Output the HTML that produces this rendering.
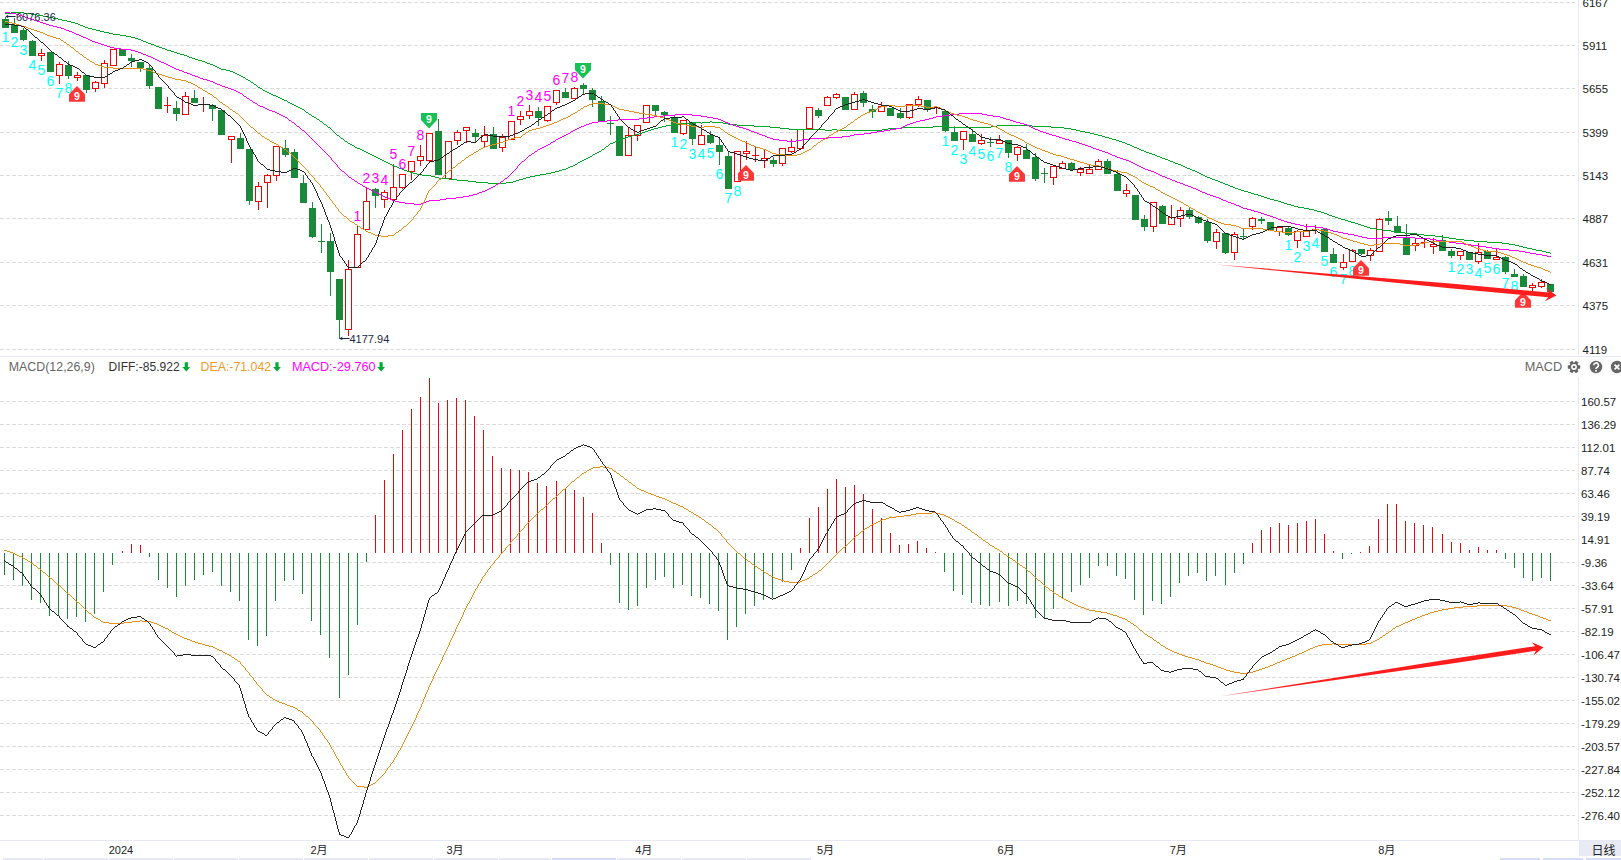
<!DOCTYPE html>
<html><head><meta charset="utf-8"><title>K线</title>
<style>
html,body{margin:0;padding:0;background:#fff;}
body{width:1621px;height:860px;overflow:hidden;position:relative;font-family:"Liberation Sans", "Noto Sans CJK SC", sans-serif;}
svg{position:absolute;left:0;top:0;}
</style></head><body>
<svg width="1621" height="860" viewBox="0 0 1621 860">
<g stroke="#dcdcdc" stroke-width="1" stroke-dasharray="4 2" shape-rendering="crispEdges">
<line x1="0" y1="2.5" x2="1575" y2="2.5"/>
<line x1="0" y1="45.5" x2="1575" y2="45.5"/>
<line x1="0" y1="88.5" x2="1575" y2="88.5"/>
<line x1="0" y1="132.5" x2="1575" y2="132.5"/>
<line x1="0" y1="175.5" x2="1575" y2="175.5"/>
<line x1="0" y1="218.5" x2="1575" y2="218.5"/>
<line x1="0" y1="262.5" x2="1575" y2="262.5"/>
<line x1="0" y1="305.5" x2="1575" y2="305.5"/>
<line x1="0" y1="349.5" x2="1575" y2="349.5"/>
<line x1="0" y1="401.5" x2="1575" y2="401.5"/>
<line x1="0" y1="424.5" x2="1575" y2="424.5"/>
<line x1="0" y1="447.5" x2="1575" y2="447.5"/>
<line x1="0" y1="470.5" x2="1575" y2="470.5"/>
<line x1="0" y1="493.5" x2="1575" y2="493.5"/>
<line x1="0" y1="516.5" x2="1575" y2="516.5"/>
<line x1="0" y1="539.5" x2="1575" y2="539.5"/>
<line x1="0" y1="562.5" x2="1575" y2="562.5"/>
<line x1="0" y1="585.5" x2="1575" y2="585.5"/>
<line x1="0" y1="608.5" x2="1575" y2="608.5"/>
<line x1="0" y1="631.5" x2="1575" y2="631.5"/>
<line x1="0" y1="654.5" x2="1575" y2="654.5"/>
<line x1="0" y1="677.5" x2="1575" y2="677.5"/>
<line x1="0" y1="700.5" x2="1575" y2="700.5"/>
<line x1="0" y1="723.5" x2="1575" y2="723.5"/>
<line x1="0" y1="746.5" x2="1575" y2="746.5"/>
<line x1="0" y1="769.5" x2="1575" y2="769.5"/>
<line x1="0" y1="792.5" x2="1575" y2="792.5"/>
<line x1="0" y1="815.5" x2="1575" y2="815.5"/>
</g>
<g fill="#e6e8f3" shape-rendering="crispEdges">
<rect x="1578" y="0" width="1" height="355"/>
<rect x="1578" y="377" width="1" height="463"/>
<rect x="0" y="356" width="1621" height="1"/>
<rect x="0" y="840" width="1621" height="1"/>
</g>
<g shape-rendering="crispEdges">
<rect x="5" y="17.0" width="1" height="2.0" fill="#1a8a3a"/>
<rect x="2" y="19.0" width="7" height="9.0" fill="#1a8a3a"/>
<rect x="14" y="18.0" width="1" height="7.0" fill="#1a8a3a"/>
<rect x="11" y="25.0" width="7" height="8.0" fill="#1a8a3a"/>
<rect x="23" y="28.0" width="1" height="2.0" fill="#1a8a3a"/>
<rect x="23" y="40.0" width="1" height="1.0" fill="#1a8a3a"/>
<rect x="20" y="30.0" width="7" height="10.0" fill="#1a8a3a"/>
<rect x="32" y="40.0" width="1" height="1.0" fill="#1a8a3a"/>
<rect x="29" y="41.0" width="7" height="15.0" fill="#1a8a3a"/>
<rect x="41" y="49.0" width="1" height="4.0" fill="#eb0505"/>
<rect x="41" y="56.0" width="1" height="5.0" fill="#eb0505"/>
<rect x="38.5" y="53.5" width="6" height="2.0" fill="#fff" stroke="#eb0505" stroke-width="1"/>
<rect x="47" y="52.0" width="7" height="20.0" fill="#1a8a3a"/>
<rect x="59" y="62.0" width="1" height="2.0" fill="#eb0505"/>
<rect x="59" y="76.0" width="1" height="8.0" fill="#eb0505"/>
<rect x="56.5" y="64.5" width="6" height="11.0" fill="#fff" stroke="#eb0505" stroke-width="1"/>
<rect x="68" y="61.0" width="1" height="4.0" fill="#1a8a3a"/>
<rect x="68" y="76.0" width="1" height="3.0" fill="#1a8a3a"/>
<rect x="65" y="65.0" width="7" height="11.0" fill="#1a8a3a"/>
<rect x="77" y="72.0" width="1" height="3.0" fill="#eb0505"/>
<rect x="77" y="78.0" width="1" height="3.0" fill="#eb0505"/>
<rect x="74.5" y="75.5" width="6" height="2.0" fill="#fff" stroke="#eb0505" stroke-width="1"/>
<rect x="86" y="90.0" width="1" height="3.0" fill="#1a8a3a"/>
<rect x="83" y="75.0" width="7" height="15.0" fill="#1a8a3a"/>
<rect x="95" y="81.0" width="1" height="1.0" fill="#eb0505"/>
<rect x="95" y="89.0" width="1" height="3.0" fill="#eb0505"/>
<rect x="92.5" y="82.5" width="6" height="6.0" fill="#fff" stroke="#eb0505" stroke-width="1"/>
<rect x="104" y="60.0" width="1" height="3.0" fill="#eb0505"/>
<rect x="104" y="84.0" width="1" height="4.0" fill="#eb0505"/>
<rect x="101.5" y="63.5" width="6" height="20.0" fill="#fff" stroke="#eb0505" stroke-width="1"/>
<rect x="110.5" y="49.5" width="6" height="16.0" fill="#fff" stroke="#eb0505" stroke-width="1"/>
<rect x="119" y="49.0" width="7" height="7.0" fill="#1a8a3a"/>
<rect x="131" y="54.0" width="1" height="4.0" fill="#1a8a3a"/>
<rect x="131" y="61.0" width="1" height="6.0" fill="#1a8a3a"/>
<rect x="128" y="58.0" width="7" height="3.0" fill="#1a8a3a"/>
<rect x="140" y="68.0" width="1" height="4.0" fill="#1a8a3a"/>
<rect x="137" y="62.0" width="7" height="6.0" fill="#1a8a3a"/>
<rect x="149" y="65.0" width="1" height="3.0" fill="#1a8a3a"/>
<rect x="149" y="86.0" width="1" height="3.0" fill="#1a8a3a"/>
<rect x="146" y="68.0" width="7" height="18.0" fill="#1a8a3a"/>
<rect x="155" y="87.0" width="7" height="22.0" fill="#1a8a3a"/>
<rect x="167" y="97.0" width="1" height="8.0" fill="#eb0505"/>
<rect x="167" y="106.0" width="1" height="7.0" fill="#eb0505"/>
<rect x="164" y="105.0" width="7" height="1.0" fill="#eb0505"/>
<rect x="176" y="101.0" width="1" height="7.0" fill="#1a8a3a"/>
<rect x="176" y="114.0" width="1" height="7.0" fill="#1a8a3a"/>
<rect x="173" y="108.0" width="7" height="6.0" fill="#1a8a3a"/>
<rect x="185" y="92.0" width="1" height="4.0" fill="#eb0505"/>
<rect x="182.5" y="96.5" width="6" height="18.0" fill="#fff" stroke="#eb0505" stroke-width="1"/>
<rect x="194" y="90.0" width="1" height="8.0" fill="#1a8a3a"/>
<rect x="191" y="98.0" width="7" height="5.0" fill="#1a8a3a"/>
<rect x="203" y="97.0" width="1" height="7.0" fill="#eb0505"/>
<rect x="203" y="105.0" width="1" height="7.0" fill="#eb0505"/>
<rect x="200" y="104.0" width="7" height="1.0" fill="#eb0505"/>
<rect x="212" y="104.0" width="1" height="1.0" fill="#1a8a3a"/>
<rect x="212" y="109.0" width="1" height="12.0" fill="#1a8a3a"/>
<rect x="209" y="105.0" width="7" height="4.0" fill="#1a8a3a"/>
<rect x="218" y="110.0" width="7" height="25.0" fill="#1a8a3a"/>
<rect x="231" y="140.0" width="1" height="23.0" fill="#eb0505"/>
<rect x="228.5" y="136.5" width="6" height="3.0" fill="#fff" stroke="#eb0505" stroke-width="1"/>
<rect x="240" y="133.0" width="1" height="5.0" fill="#1a8a3a"/>
<rect x="237" y="138.0" width="7" height="11.0" fill="#1a8a3a"/>
<rect x="249" y="201.0" width="1" height="4.0" fill="#1a8a3a"/>
<rect x="246" y="149.0" width="7" height="52.0" fill="#1a8a3a"/>
<rect x="258" y="182.0" width="1" height="4.0" fill="#eb0505"/>
<rect x="258" y="202.0" width="1" height="8.0" fill="#eb0505"/>
<rect x="255.5" y="186.5" width="6" height="15.0" fill="#fff" stroke="#eb0505" stroke-width="1"/>
<rect x="267" y="174.0" width="1" height="1.0" fill="#eb0505"/>
<rect x="267" y="183.0" width="1" height="25.0" fill="#eb0505"/>
<rect x="264.5" y="175.5" width="6" height="7.0" fill="#fff" stroke="#eb0505" stroke-width="1"/>
<rect x="276" y="176.0" width="1" height="5.0" fill="#eb0505"/>
<rect x="273.5" y="146.5" width="6" height="29.0" fill="#fff" stroke="#eb0505" stroke-width="1"/>
<rect x="285" y="140.0" width="1" height="8.0" fill="#1a8a3a"/>
<rect x="285" y="155.0" width="1" height="2.0" fill="#1a8a3a"/>
<rect x="282" y="148.0" width="7" height="7.0" fill="#1a8a3a"/>
<rect x="294" y="149.0" width="1" height="3.0" fill="#1a8a3a"/>
<rect x="291" y="152.0" width="7" height="26.0" fill="#1a8a3a"/>
<rect x="303" y="175.0" width="1" height="8.0" fill="#1a8a3a"/>
<rect x="300" y="183.0" width="7" height="20.0" fill="#1a8a3a"/>
<rect x="312" y="202.0" width="1" height="6.0" fill="#1a8a3a"/>
<rect x="312" y="237.0" width="1" height="1.0" fill="#1a8a3a"/>
<rect x="309" y="208.0" width="7" height="29.0" fill="#1a8a3a"/>
<rect x="321" y="224.0" width="1" height="17.0" fill="#1a8a3a"/>
<rect x="321" y="242.0" width="1" height="11.0" fill="#1a8a3a"/>
<rect x="318" y="241.0" width="7" height="1.0" fill="#1a8a3a"/>
<rect x="330" y="233.0" width="1" height="8.0" fill="#1a8a3a"/>
<rect x="330" y="272.0" width="1" height="24.0" fill="#1a8a3a"/>
<rect x="327" y="241.0" width="7" height="31.0" fill="#1a8a3a"/>
<rect x="339" y="320.0" width="1" height="19.0" fill="#1a8a3a"/>
<rect x="336" y="279.0" width="7" height="41.0" fill="#1a8a3a"/>
<rect x="348" y="260.0" width="1" height="9.0" fill="#eb0505"/>
<rect x="348" y="330.0" width="1" height="6.0" fill="#eb0505"/>
<rect x="345.5" y="269.5" width="6" height="60.0" fill="#fff" stroke="#eb0505" stroke-width="1"/>
<rect x="357" y="226.0" width="1" height="8.0" fill="#eb0505"/>
<rect x="354.5" y="234.5" width="6" height="33.0" fill="#fff" stroke="#eb0505" stroke-width="1"/>
<rect x="366" y="188.0" width="1" height="13.0" fill="#eb0505"/>
<rect x="363.5" y="201.5" width="6" height="28.0" fill="#fff" stroke="#eb0505" stroke-width="1"/>
<rect x="375" y="188.0" width="1" height="1.0" fill="#1a8a3a"/>
<rect x="375" y="196.0" width="1" height="12.0" fill="#1a8a3a"/>
<rect x="372" y="189.0" width="7" height="7.0" fill="#1a8a3a"/>
<rect x="384" y="190.0" width="1" height="2.0" fill="#eb0505"/>
<rect x="384" y="200.0" width="1" height="8.0" fill="#eb0505"/>
<rect x="381.5" y="192.5" width="6" height="7.0" fill="#fff" stroke="#eb0505" stroke-width="1"/>
<rect x="393" y="164.0" width="1" height="23.0" fill="#eb0505"/>
<rect x="393" y="200.0" width="1" height="2.0" fill="#eb0505"/>
<rect x="390.5" y="187.5" width="6" height="12.0" fill="#fff" stroke="#eb0505" stroke-width="1"/>
<rect x="402" y="188.0" width="1" height="1.0" fill="#eb0505"/>
<rect x="399.5" y="174.5" width="6" height="13.0" fill="#fff" stroke="#eb0505" stroke-width="1"/>
<rect x="411" y="172.0" width="1" height="8.0" fill="#eb0505"/>
<rect x="408.5" y="161.5" width="6" height="10.0" fill="#fff" stroke="#eb0505" stroke-width="1"/>
<rect x="420" y="145.0" width="1" height="11.0" fill="#eb0505"/>
<rect x="420" y="161.0" width="1" height="5.0" fill="#eb0505"/>
<rect x="417.5" y="156.5" width="6" height="4.0" fill="#fff" stroke="#eb0505" stroke-width="1"/>
<rect x="429" y="161.0" width="1" height="2.0" fill="#eb0505"/>
<rect x="426.5" y="133.5" width="6" height="27.0" fill="#fff" stroke="#eb0505" stroke-width="1"/>
<rect x="438" y="119.0" width="1" height="12.0" fill="#1a8a3a"/>
<rect x="435" y="131.0" width="7" height="44.0" fill="#1a8a3a"/>
<rect x="445.5" y="141.5" width="6" height="37.0" fill="#fff" stroke="#eb0505" stroke-width="1"/>
<rect x="457" y="130.0" width="1" height="2.0" fill="#eb0505"/>
<rect x="457" y="141.0" width="1" height="4.0" fill="#eb0505"/>
<rect x="454.5" y="132.5" width="6" height="8.0" fill="#fff" stroke="#eb0505" stroke-width="1"/>
<rect x="466" y="131.0" width="1" height="12.0" fill="#eb0505"/>
<rect x="463.5" y="127.5" width="6" height="3.0" fill="#fff" stroke="#eb0505" stroke-width="1"/>
<rect x="475" y="129.0" width="1" height="4.0" fill="#1a8a3a"/>
<rect x="475" y="137.0" width="1" height="5.0" fill="#1a8a3a"/>
<rect x="472" y="133.0" width="7" height="4.0" fill="#1a8a3a"/>
<rect x="484" y="126.0" width="1" height="9.0" fill="#eb0505"/>
<rect x="484" y="142.0" width="1" height="5.0" fill="#eb0505"/>
<rect x="481.5" y="135.5" width="6" height="6.0" fill="#fff" stroke="#eb0505" stroke-width="1"/>
<rect x="493" y="127.0" width="1" height="7.0" fill="#1a8a3a"/>
<rect x="490" y="134.0" width="7" height="15.0" fill="#1a8a3a"/>
<rect x="502" y="134.0" width="1" height="3.0" fill="#eb0505"/>
<rect x="502" y="148.0" width="1" height="4.0" fill="#eb0505"/>
<rect x="499.5" y="137.5" width="6" height="10.0" fill="#fff" stroke="#eb0505" stroke-width="1"/>
<rect x="508.5" y="121.5" width="6" height="18.0" fill="#fff" stroke="#eb0505" stroke-width="1"/>
<rect x="520" y="111.0" width="1" height="5.0" fill="#eb0505"/>
<rect x="520" y="120.0" width="1" height="5.0" fill="#eb0505"/>
<rect x="517.5" y="116.5" width="6" height="3.0" fill="#fff" stroke="#eb0505" stroke-width="1"/>
<rect x="529" y="105.0" width="1" height="6.0" fill="#eb0505"/>
<rect x="529" y="116.0" width="1" height="3.0" fill="#eb0505"/>
<rect x="526.5" y="111.5" width="6" height="4.0" fill="#fff" stroke="#eb0505" stroke-width="1"/>
<rect x="538" y="107.0" width="1" height="4.0" fill="#1a8a3a"/>
<rect x="538" y="118.0" width="1" height="8.0" fill="#1a8a3a"/>
<rect x="535" y="111.0" width="7" height="7.0" fill="#1a8a3a"/>
<rect x="547" y="121.0" width="1" height="1.0" fill="#eb0505"/>
<rect x="544.5" y="106.5" width="6" height="14.0" fill="#fff" stroke="#eb0505" stroke-width="1"/>
<rect x="556" y="103.0" width="1" height="2.0" fill="#eb0505"/>
<rect x="553.5" y="90.5" width="6" height="12.0" fill="#fff" stroke="#eb0505" stroke-width="1"/>
<rect x="565" y="88.0" width="1" height="4.0" fill="#1a8a3a"/>
<rect x="562" y="92.0" width="7" height="6.0" fill="#1a8a3a"/>
<rect x="574" y="87.0" width="1" height="1.0" fill="#eb0505"/>
<rect x="571.5" y="88.5" width="6" height="10.0" fill="#fff" stroke="#eb0505" stroke-width="1"/>
<rect x="583" y="83.0" width="1" height="2.0" fill="#1a8a3a"/>
<rect x="583" y="89.0" width="1" height="6.0" fill="#1a8a3a"/>
<rect x="580" y="85.0" width="7" height="4.0" fill="#1a8a3a"/>
<rect x="592" y="88.0" width="1" height="2.0" fill="#1a8a3a"/>
<rect x="592" y="100.0" width="1" height="7.0" fill="#1a8a3a"/>
<rect x="589" y="90.0" width="7" height="10.0" fill="#1a8a3a"/>
<rect x="601" y="96.0" width="1" height="5.0" fill="#1a8a3a"/>
<rect x="598" y="101.0" width="7" height="21.0" fill="#1a8a3a"/>
<rect x="610" y="116.0" width="1" height="7.0" fill="#1a8a3a"/>
<rect x="610" y="124.0" width="1" height="11.0" fill="#1a8a3a"/>
<rect x="607" y="123.0" width="7" height="1.0" fill="#1a8a3a"/>
<rect x="616" y="126.0" width="7" height="30.0" fill="#1a8a3a"/>
<rect x="628" y="128.0" width="1" height="7.0" fill="#eb0505"/>
<rect x="625.5" y="135.5" width="6" height="20.0" fill="#fff" stroke="#eb0505" stroke-width="1"/>
<rect x="637" y="136.0" width="1" height="5.0" fill="#eb0505"/>
<rect x="634.5" y="125.5" width="6" height="10.0" fill="#fff" stroke="#eb0505" stroke-width="1"/>
<rect x="643.5" y="105.5" width="6" height="17.0" fill="#fff" stroke="#eb0505" stroke-width="1"/>
<rect x="655" y="111.0" width="1" height="4.0" fill="#1a8a3a"/>
<rect x="652" y="105.0" width="7" height="6.0" fill="#1a8a3a"/>
<rect x="664" y="111.0" width="1" height="1.0" fill="#1a8a3a"/>
<rect x="664" y="115.0" width="1" height="7.0" fill="#1a8a3a"/>
<rect x="661" y="112.0" width="7" height="3.0" fill="#1a8a3a"/>
<rect x="674" y="116.0" width="1" height="1.0" fill="#1a8a3a"/>
<rect x="671" y="117.0" width="7" height="16.0" fill="#1a8a3a"/>
<rect x="683" y="134.0" width="1" height="1.0" fill="#eb0505"/>
<rect x="680.5" y="120.5" width="6" height="13.0" fill="#fff" stroke="#eb0505" stroke-width="1"/>
<rect x="692" y="139.0" width="1" height="6.0" fill="#1a8a3a"/>
<rect x="689" y="122.0" width="7" height="17.0" fill="#1a8a3a"/>
<rect x="701" y="125.0" width="1" height="10.0" fill="#eb0505"/>
<rect x="698.5" y="135.5" width="6" height="9.0" fill="#fff" stroke="#eb0505" stroke-width="1"/>
<rect x="710" y="131.0" width="1" height="4.0" fill="#1a8a3a"/>
<rect x="710" y="143.0" width="1" height="1.0" fill="#1a8a3a"/>
<rect x="707" y="135.0" width="7" height="8.0" fill="#1a8a3a"/>
<rect x="719" y="137.0" width="1" height="8.0" fill="#1a8a3a"/>
<rect x="719" y="152.0" width="1" height="13.0" fill="#1a8a3a"/>
<rect x="716" y="145.0" width="7" height="7.0" fill="#1a8a3a"/>
<rect x="728" y="151.0" width="1" height="5.0" fill="#1a8a3a"/>
<rect x="725" y="156.0" width="7" height="33.0" fill="#1a8a3a"/>
<rect x="734.5" y="151.5" width="6" height="30.0" fill="#fff" stroke="#eb0505" stroke-width="1"/>
<rect x="746" y="141.0" width="1" height="10.0" fill="#eb0505"/>
<rect x="746" y="154.0" width="1" height="6.0" fill="#eb0505"/>
<rect x="743.5" y="151.5" width="6" height="2.0" fill="#fff" stroke="#eb0505" stroke-width="1"/>
<rect x="755" y="146.0" width="1" height="9.0" fill="#eb0505"/>
<rect x="755" y="156.0" width="1" height="6.0" fill="#eb0505"/>
<rect x="752" y="155.0" width="7" height="1.0" fill="#eb0505"/>
<rect x="764" y="149.0" width="1" height="9.0" fill="#eb0505"/>
<rect x="764" y="161.0" width="1" height="7.0" fill="#eb0505"/>
<rect x="761.5" y="158.5" width="6" height="2.0" fill="#fff" stroke="#eb0505" stroke-width="1"/>
<rect x="773" y="157.0" width="1" height="3.0" fill="#1a8a3a"/>
<rect x="773" y="164.0" width="1" height="3.0" fill="#1a8a3a"/>
<rect x="770" y="160.0" width="7" height="4.0" fill="#1a8a3a"/>
<rect x="782" y="164.0" width="1" height="2.0" fill="#eb0505"/>
<rect x="779.5" y="148.5" width="6" height="15.0" fill="#fff" stroke="#eb0505" stroke-width="1"/>
<rect x="791" y="139.0" width="1" height="8.0" fill="#eb0505"/>
<rect x="791" y="152.0" width="1" height="1.0" fill="#eb0505"/>
<rect x="788.5" y="147.5" width="6" height="4.0" fill="#fff" stroke="#eb0505" stroke-width="1"/>
<rect x="797.5" y="129.5" width="6" height="19.0" fill="#fff" stroke="#eb0505" stroke-width="1"/>
<rect x="806.5" y="107.5" width="6" height="21.0" fill="#fff" stroke="#eb0505" stroke-width="1"/>
<rect x="818" y="108.0" width="1" height="2.0" fill="#1a8a3a"/>
<rect x="818" y="116.0" width="1" height="2.0" fill="#1a8a3a"/>
<rect x="815" y="110.0" width="7" height="6.0" fill="#1a8a3a"/>
<rect x="827" y="96.0" width="1" height="1.0" fill="#eb0505"/>
<rect x="824.5" y="97.5" width="6" height="8.0" fill="#fff" stroke="#eb0505" stroke-width="1"/>
<rect x="836" y="93.0" width="1" height="1.0" fill="#eb0505"/>
<rect x="836" y="98.0" width="1" height="1.0" fill="#eb0505"/>
<rect x="833.5" y="94.5" width="6" height="3.0" fill="#fff" stroke="#eb0505" stroke-width="1"/>
<rect x="842" y="97.0" width="7" height="13.0" fill="#1a8a3a"/>
<rect x="854" y="92.0" width="1" height="2.0" fill="#eb0505"/>
<rect x="851.5" y="94.5" width="6" height="15.0" fill="#fff" stroke="#eb0505" stroke-width="1"/>
<rect x="863" y="91.0" width="1" height="2.0" fill="#1a8a3a"/>
<rect x="863" y="103.0" width="1" height="4.0" fill="#1a8a3a"/>
<rect x="860" y="93.0" width="7" height="10.0" fill="#1a8a3a"/>
<rect x="872" y="105.0" width="1" height="4.0" fill="#1a8a3a"/>
<rect x="872" y="112.0" width="1" height="6.0" fill="#1a8a3a"/>
<rect x="869" y="109.0" width="7" height="3.0" fill="#1a8a3a"/>
<rect x="881" y="102.0" width="1" height="4.0" fill="#eb0505"/>
<rect x="878.5" y="106.5" width="6" height="5.0" fill="#fff" stroke="#eb0505" stroke-width="1"/>
<rect x="887" y="108.0" width="7" height="8.0" fill="#1a8a3a"/>
<rect x="900" y="108.0" width="1" height="5.0" fill="#1a8a3a"/>
<rect x="900" y="118.0" width="1" height="1.0" fill="#1a8a3a"/>
<rect x="897" y="113.0" width="7" height="5.0" fill="#1a8a3a"/>
<rect x="909" y="118.0" width="1" height="1.0" fill="#eb0505"/>
<rect x="906.5" y="104.5" width="6" height="13.0" fill="#fff" stroke="#eb0505" stroke-width="1"/>
<rect x="918" y="96.0" width="1" height="3.0" fill="#eb0505"/>
<rect x="918" y="105.0" width="1" height="2.0" fill="#eb0505"/>
<rect x="915.5" y="99.5" width="6" height="5.0" fill="#fff" stroke="#eb0505" stroke-width="1"/>
<rect x="927" y="110.0" width="1" height="2.0" fill="#1a8a3a"/>
<rect x="924" y="100.0" width="7" height="10.0" fill="#1a8a3a"/>
<rect x="936" y="106.0" width="1" height="1.0" fill="#eb0505"/>
<rect x="936" y="108.0" width="1" height="6.0" fill="#eb0505"/>
<rect x="933" y="107.0" width="7" height="1.0" fill="#eb0505"/>
<rect x="945" y="131.0" width="1" height="1.0" fill="#1a8a3a"/>
<rect x="942" y="111.0" width="7" height="20.0" fill="#1a8a3a"/>
<rect x="954" y="126.0" width="1" height="6.0" fill="#1a8a3a"/>
<rect x="951" y="132.0" width="7" height="9.0" fill="#1a8a3a"/>
<rect x="963" y="140.0" width="1" height="10.0" fill="#eb0505"/>
<rect x="960.5" y="131.5" width="6" height="8.0" fill="#fff" stroke="#eb0505" stroke-width="1"/>
<rect x="972" y="129.0" width="1" height="5.0" fill="#1a8a3a"/>
<rect x="969" y="134.0" width="7" height="8.0" fill="#1a8a3a"/>
<rect x="981" y="134.0" width="1" height="6.0" fill="#eb0505"/>
<rect x="981" y="144.0" width="1" height="1.0" fill="#eb0505"/>
<rect x="978.5" y="140.5" width="6" height="3.0" fill="#fff" stroke="#eb0505" stroke-width="1"/>
<rect x="990" y="137.0" width="1" height="5.0" fill="#1a8a3a"/>
<rect x="990" y="143.0" width="1" height="4.0" fill="#1a8a3a"/>
<rect x="987" y="142.0" width="7" height="1.0" fill="#1a8a3a"/>
<rect x="999" y="135.0" width="1" height="5.0" fill="#eb0505"/>
<rect x="996.5" y="140.5" width="6" height="3.0" fill="#fff" stroke="#eb0505" stroke-width="1"/>
<rect x="1008" y="153.0" width="1" height="5.0" fill="#1a8a3a"/>
<rect x="1005" y="140.0" width="7" height="13.0" fill="#1a8a3a"/>
<rect x="1017" y="146.0" width="1" height="1.0" fill="#eb0505"/>
<rect x="1017" y="155.0" width="1" height="6.0" fill="#eb0505"/>
<rect x="1014.5" y="147.5" width="6" height="7.0" fill="#fff" stroke="#eb0505" stroke-width="1"/>
<rect x="1026" y="144.0" width="1" height="6.0" fill="#1a8a3a"/>
<rect x="1023" y="150.0" width="7" height="9.0" fill="#1a8a3a"/>
<rect x="1035" y="153.0" width="1" height="4.0" fill="#1a8a3a"/>
<rect x="1035" y="179.0" width="1" height="2.0" fill="#1a8a3a"/>
<rect x="1032" y="157.0" width="7" height="22.0" fill="#1a8a3a"/>
<rect x="1044" y="168.0" width="1" height="5.0" fill="#1a8a3a"/>
<rect x="1044" y="174.0" width="1" height="9.0" fill="#1a8a3a"/>
<rect x="1041" y="173.0" width="7" height="1.0" fill="#1a8a3a"/>
<rect x="1053" y="165.0" width="1" height="1.0" fill="#eb0505"/>
<rect x="1053" y="178.0" width="1" height="7.0" fill="#eb0505"/>
<rect x="1050.5" y="166.5" width="6" height="11.0" fill="#fff" stroke="#eb0505" stroke-width="1"/>
<rect x="1062" y="161.0" width="1" height="2.0" fill="#eb0505"/>
<rect x="1059.5" y="163.5" width="6" height="5.0" fill="#fff" stroke="#eb0505" stroke-width="1"/>
<rect x="1071" y="162.0" width="1" height="1.0" fill="#1a8a3a"/>
<rect x="1068" y="163.0" width="7" height="7.0" fill="#1a8a3a"/>
<rect x="1080" y="167.0" width="1" height="2.0" fill="#eb0505"/>
<rect x="1080" y="173.0" width="1" height="3.0" fill="#eb0505"/>
<rect x="1077.5" y="169.5" width="6" height="3.0" fill="#fff" stroke="#eb0505" stroke-width="1"/>
<rect x="1089" y="165.0" width="1" height="4.0" fill="#eb0505"/>
<rect x="1086.5" y="169.5" width="6" height="4.0" fill="#fff" stroke="#eb0505" stroke-width="1"/>
<rect x="1098" y="159.0" width="1" height="2.0" fill="#eb0505"/>
<rect x="1095.5" y="161.5" width="6" height="8.0" fill="#fff" stroke="#eb0505" stroke-width="1"/>
<rect x="1107" y="159.0" width="1" height="2.0" fill="#1a8a3a"/>
<rect x="1104" y="161.0" width="7" height="13.0" fill="#1a8a3a"/>
<rect x="1117" y="170.0" width="1" height="4.0" fill="#1a8a3a"/>
<rect x="1114" y="174.0" width="7" height="17.0" fill="#1a8a3a"/>
<rect x="1126" y="184.0" width="1" height="6.0" fill="#eb0505"/>
<rect x="1126" y="194.0" width="1" height="3.0" fill="#eb0505"/>
<rect x="1123.5" y="190.5" width="6" height="3.0" fill="#fff" stroke="#eb0505" stroke-width="1"/>
<rect x="1132" y="195.0" width="7" height="25.0" fill="#1a8a3a"/>
<rect x="1144" y="215.0" width="1" height="4.0" fill="#1a8a3a"/>
<rect x="1144" y="227.0" width="1" height="4.0" fill="#1a8a3a"/>
<rect x="1141" y="219.0" width="7" height="8.0" fill="#1a8a3a"/>
<rect x="1153" y="227.0" width="1" height="5.0" fill="#eb0505"/>
<rect x="1150.5" y="202.5" width="6" height="24.0" fill="#fff" stroke="#eb0505" stroke-width="1"/>
<rect x="1162" y="205.0" width="1" height="1.0" fill="#1a8a3a"/>
<rect x="1159" y="206.0" width="7" height="18.0" fill="#1a8a3a"/>
<rect x="1171" y="205.0" width="1" height="12.0" fill="#eb0505"/>
<rect x="1168.5" y="217.5" width="6" height="7.0" fill="#fff" stroke="#eb0505" stroke-width="1"/>
<rect x="1180" y="207.0" width="1" height="3.0" fill="#eb0505"/>
<rect x="1180" y="219.0" width="1" height="8.0" fill="#eb0505"/>
<rect x="1177.5" y="210.5" width="6" height="8.0" fill="#fff" stroke="#eb0505" stroke-width="1"/>
<rect x="1189" y="208.0" width="1" height="2.0" fill="#1a8a3a"/>
<rect x="1189" y="217.0" width="1" height="2.0" fill="#1a8a3a"/>
<rect x="1186" y="210.0" width="7" height="7.0" fill="#1a8a3a"/>
<rect x="1198" y="216.0" width="1" height="1.0" fill="#1a8a3a"/>
<rect x="1198" y="223.0" width="1" height="1.0" fill="#1a8a3a"/>
<rect x="1195" y="217.0" width="7" height="6.0" fill="#1a8a3a"/>
<rect x="1207" y="219.0" width="1" height="3.0" fill="#1a8a3a"/>
<rect x="1207" y="241.0" width="1" height="2.0" fill="#1a8a3a"/>
<rect x="1204" y="222.0" width="7" height="19.0" fill="#1a8a3a"/>
<rect x="1216" y="229.0" width="1" height="3.0" fill="#eb0505"/>
<rect x="1216" y="242.0" width="1" height="7.0" fill="#eb0505"/>
<rect x="1213.5" y="232.5" width="6" height="9.0" fill="#fff" stroke="#eb0505" stroke-width="1"/>
<rect x="1225" y="253.0" width="1" height="1.0" fill="#1a8a3a"/>
<rect x="1222" y="233.0" width="7" height="20.0" fill="#1a8a3a"/>
<rect x="1234" y="232.0" width="1" height="2.0" fill="#eb0505"/>
<rect x="1234" y="253.0" width="1" height="7.0" fill="#eb0505"/>
<rect x="1231.5" y="234.5" width="6" height="18.0" fill="#fff" stroke="#eb0505" stroke-width="1"/>
<rect x="1243" y="229.0" width="1" height="7.0" fill="#1a8a3a"/>
<rect x="1243" y="237.0" width="1" height="2.0" fill="#1a8a3a"/>
<rect x="1240" y="236.0" width="7" height="1.0" fill="#1a8a3a"/>
<rect x="1252" y="217.0" width="1" height="1.0" fill="#eb0505"/>
<rect x="1252" y="227.0" width="1" height="3.0" fill="#eb0505"/>
<rect x="1249.5" y="218.5" width="6" height="8.0" fill="#fff" stroke="#eb0505" stroke-width="1"/>
<rect x="1261" y="217.0" width="1" height="2.0" fill="#1a8a3a"/>
<rect x="1261" y="221.0" width="1" height="3.0" fill="#1a8a3a"/>
<rect x="1258" y="219.0" width="7" height="2.0" fill="#1a8a3a"/>
<rect x="1267" y="222.0" width="7" height="8.0" fill="#1a8a3a"/>
<rect x="1279" y="226.0" width="1" height="1.0" fill="#eb0505"/>
<rect x="1279" y="232.0" width="1" height="4.0" fill="#eb0505"/>
<rect x="1276.5" y="227.5" width="6" height="4.0" fill="#fff" stroke="#eb0505" stroke-width="1"/>
<rect x="1288" y="227.0" width="1" height="1.0" fill="#1a8a3a"/>
<rect x="1288" y="235.0" width="1" height="1.0" fill="#1a8a3a"/>
<rect x="1285" y="228.0" width="7" height="7.0" fill="#1a8a3a"/>
<rect x="1297" y="230.0" width="1" height="1.0" fill="#eb0505"/>
<rect x="1297" y="241.0" width="1" height="7.0" fill="#eb0505"/>
<rect x="1294.5" y="231.5" width="6" height="9.0" fill="#fff" stroke="#eb0505" stroke-width="1"/>
<rect x="1306" y="224.0" width="1" height="6.0" fill="#eb0505"/>
<rect x="1303.5" y="230.5" width="6" height="6.0" fill="#fff" stroke="#eb0505" stroke-width="1"/>
<rect x="1315" y="225.0" width="1" height="4.0" fill="#eb0505"/>
<rect x="1315" y="230.0" width="1" height="4.0" fill="#eb0505"/>
<rect x="1312" y="229.0" width="7" height="1.0" fill="#eb0505"/>
<rect x="1321" y="229.0" width="7" height="23.0" fill="#1a8a3a"/>
<rect x="1333" y="248.0" width="1" height="6.0" fill="#1a8a3a"/>
<rect x="1330" y="254.0" width="7" height="9.0" fill="#1a8a3a"/>
<rect x="1343" y="254.0" width="1" height="8.0" fill="#eb0505"/>
<rect x="1343" y="268.0" width="1" height="2.0" fill="#eb0505"/>
<rect x="1340.5" y="262.5" width="6" height="5.0" fill="#fff" stroke="#eb0505" stroke-width="1"/>
<rect x="1352" y="249.0" width="1" height="1.0" fill="#eb0505"/>
<rect x="1349.5" y="250.5" width="6" height="11.0" fill="#fff" stroke="#eb0505" stroke-width="1"/>
<rect x="1361" y="254.0" width="1" height="1.0" fill="#1a8a3a"/>
<rect x="1358" y="249.0" width="7" height="5.0" fill="#1a8a3a"/>
<rect x="1370" y="248.0" width="1" height="2.0" fill="#eb0505"/>
<rect x="1370" y="256.0" width="1" height="5.0" fill="#eb0505"/>
<rect x="1367.5" y="250.5" width="6" height="5.0" fill="#fff" stroke="#eb0505" stroke-width="1"/>
<rect x="1379" y="218.0" width="1" height="1.0" fill="#eb0505"/>
<rect x="1376.5" y="219.5" width="6" height="32.0" fill="#fff" stroke="#eb0505" stroke-width="1"/>
<rect x="1388" y="211.0" width="1" height="7.0" fill="#1a8a3a"/>
<rect x="1388" y="221.0" width="1" height="4.0" fill="#1a8a3a"/>
<rect x="1385" y="218.0" width="7" height="3.0" fill="#1a8a3a"/>
<rect x="1397" y="216.0" width="1" height="10.0" fill="#1a8a3a"/>
<rect x="1394" y="226.0" width="7" height="7.0" fill="#1a8a3a"/>
<rect x="1406" y="224.0" width="1" height="14.0" fill="#1a8a3a"/>
<rect x="1403" y="238.0" width="7" height="17.0" fill="#1a8a3a"/>
<rect x="1415" y="239.0" width="1" height="4.0" fill="#eb0505"/>
<rect x="1415" y="246.0" width="1" height="5.0" fill="#eb0505"/>
<rect x="1412.5" y="243.5" width="6" height="2.0" fill="#fff" stroke="#eb0505" stroke-width="1"/>
<rect x="1424" y="238.0" width="1" height="4.0" fill="#eb0505"/>
<rect x="1424" y="243.0" width="1" height="5.0" fill="#eb0505"/>
<rect x="1421" y="242.0" width="7" height="1.0" fill="#eb0505"/>
<rect x="1433" y="238.0" width="1" height="6.0" fill="#eb0505"/>
<rect x="1433" y="247.0" width="1" height="7.0" fill="#eb0505"/>
<rect x="1430.5" y="244.5" width="6" height="2.0" fill="#fff" stroke="#eb0505" stroke-width="1"/>
<rect x="1442" y="235.0" width="1" height="5.0" fill="#1a8a3a"/>
<rect x="1439" y="240.0" width="7" height="11.0" fill="#1a8a3a"/>
<rect x="1451" y="249.0" width="1" height="2.0" fill="#1a8a3a"/>
<rect x="1451" y="256.0" width="1" height="2.0" fill="#1a8a3a"/>
<rect x="1448" y="251.0" width="7" height="5.0" fill="#1a8a3a"/>
<rect x="1460" y="256.0" width="1" height="4.0" fill="#eb0505"/>
<rect x="1457.5" y="251.5" width="6" height="4.0" fill="#fff" stroke="#eb0505" stroke-width="1"/>
<rect x="1466" y="252.0" width="7" height="8.0" fill="#1a8a3a"/>
<rect x="1478" y="243.0" width="1" height="9.0" fill="#eb0505"/>
<rect x="1478" y="262.0" width="1" height="2.0" fill="#eb0505"/>
<rect x="1475.5" y="252.5" width="6" height="9.0" fill="#fff" stroke="#eb0505" stroke-width="1"/>
<rect x="1487" y="250.0" width="1" height="1.0" fill="#1a8a3a"/>
<rect x="1484" y="251.0" width="7" height="8.0" fill="#1a8a3a"/>
<rect x="1496" y="249.0" width="1" height="8.0" fill="#eb0505"/>
<rect x="1493.5" y="257.5" width="6" height="2.0" fill="#fff" stroke="#eb0505" stroke-width="1"/>
<rect x="1505" y="256.0" width="1" height="1.0" fill="#1a8a3a"/>
<rect x="1505" y="272.0" width="1" height="2.0" fill="#1a8a3a"/>
<rect x="1502" y="257.0" width="7" height="15.0" fill="#1a8a3a"/>
<rect x="1514" y="269.0" width="1" height="5.0" fill="#1a8a3a"/>
<rect x="1511" y="274.0" width="7" height="3.0" fill="#1a8a3a"/>
<rect x="1523" y="274.0" width="1" height="2.0" fill="#1a8a3a"/>
<rect x="1520" y="276.0" width="7" height="11.0" fill="#1a8a3a"/>
<rect x="1532" y="283.0" width="1" height="2.0" fill="#eb0505"/>
<rect x="1532" y="288.0" width="1" height="3.0" fill="#eb0505"/>
<rect x="1529.5" y="285.5" width="6" height="2.0" fill="#fff" stroke="#eb0505" stroke-width="1"/>
<rect x="1541" y="279.0" width="1" height="3.0" fill="#eb0505"/>
<rect x="1541" y="287.0" width="1" height="1.0" fill="#eb0505"/>
<rect x="1538.5" y="282.5" width="6" height="4.0" fill="#fff" stroke="#eb0505" stroke-width="1"/>
<rect x="1547" y="284.0" width="7" height="8.0" fill="#1a8a3a"/>
</g>
<path fill="#00a828" d="M339 136h1v1h-1zM628 136h4v1h-4zM1102 136h3v1h-3zM1267 198h3v1h-3zM58 19h4v1h-4zM1546 252h4v1h-4zM457 180h11v1h-11zM516 180h3v1h-3zM1215 180h3v1h-3zM340 137h1v1h-1zM626 137h2v1h-2zM1105 137h4v1h-4zM1258 195h3v1h-3zM328 127h2v1h-2zM658 127h4v1h-4zM770 127h10v1h-10zM902 127h31v1h-31zM948 127h43v1h-43zM1051 127h13v1h-13zM331 129h1v1h-1zM651 129h3v1h-3zM789 129h36v1h-36zM832 129h5v1h-5zM882 129h6v1h-6zM1071 129h5v1h-5zM1383 230h8v1h-8zM109 33h4v1h-4zM327 126h1v1h-1zM662 126h4v1h-4zM754 126h16v1h-16zM933 126h15v1h-15zM991 126h6v1h-6zM1032 126h19v1h-19zM488 183h18v1h-18zM1223 183h2v1h-2zM243 77h2v1h-2zM1235 188h3v1h-3zM235 73h2v1h-2zM439 178h10v1h-10zM523 178h3v1h-3zM1210 178h2v1h-2zM386 162h2v1h-2zM578 162h2v1h-2zM1173 162h2v1h-2zM165 49h2v1h-2zM332 130h1v1h-1zM648 130h3v1h-3zM825 130h7v1h-7zM837 130h45v1h-45zM1076 130h4v1h-4zM378 158h2v1h-2zM586 158h2v1h-2zM1162 158h3v1h-3zM245 78h1v1h-1zM370 154h2v1h-2zM593 154h2v1h-2zM1152 154h3v1h-3zM435 177h4v1h-4zM526 177h4v1h-4zM1207 177h3v1h-3zM237 74h2v1h-2zM226 70h4v1h-4zM1417 234h7v1h-7zM156 46h3v1h-3zM372 155h2v1h-2zM592 155h1v1h-1zM1155 155h2v1h-2zM230 71h3v1h-3zM345 141h2v1h-2zM615 141h3v1h-3zM1119 141h3v1h-3zM326 125h1v1h-1zM666 125h8v1h-8zM737 125h17v1h-17zM997 125h35v1h-35zM404 170h3v1h-3zM559 170h3v1h-3zM1192 170h3v1h-3zM1291 205h3v1h-3zM476 182h12v1h-12zM506 182h7v1h-7zM1220 182h3v1h-3zM422 175h9v1h-9zM535 175h5v1h-5zM1203 175h2v1h-2zM319 120h1v1h-1zM384 161h2v1h-2zM580 161h2v1h-2zM1170 161h3v1h-3zM1270 199h4v1h-4zM413 173h4v1h-4zM546 173h5v1h-5zM1199 173h2v1h-2zM198 60h4v1h-4zM1435 236h8v1h-8zM344 140h1v1h-1zM618 140h2v1h-2zM1116 140h3v1h-3zM126 36h5v1h-5zM417 174h5v1h-5zM540 174h6v1h-6zM1201 174h2v1h-2zM265 91h2v1h-2zM258 87h2v1h-2zM364 151h2v1h-2zM599 151h2v1h-2zM1144 151h2v1h-2zM1474 241h13v1h-13zM1238 189h3v1h-3zM330 128h1v1h-1zM654 128h4v1h-4zM780 128h9v1h-9zM888 128h14v1h-14zM1064 128h7v1h-7zM167 50h4v1h-4zM323 123h1v1h-1zM680 123h11v1h-11zM701 123h1v1h-1zM723 123h5v1h-5zM1515 245h4v1h-4zM1351 222h4v1h-4zM382 160h2v1h-2zM582 160h2v1h-2zM1168 160h2v1h-2zM324 124h2v1h-2zM674 124h6v1h-6zM728 124h9v1h-9zM1405 233h12v1h-12zM67 21h4v1h-4zM397 167h2v1h-2zM568 167h2v1h-2zM1185 167h2v1h-2zM1329 215h3v1h-3zM1443 237h6v1h-6zM407 171h3v1h-3zM555 171h4v1h-4zM1195 171h2v1h-2zM1321 212h3v1h-3zM1376 229h7v1h-7zM53 18h5v1h-5zM254 84h2v1h-2zM104 32h5v1h-5zM221 69h5v1h-5zM1355 223h3v1h-3zM141 40h2v1h-2zM1287 204h4v1h-4zM80 25h3v1h-3zM468 181h8v1h-8zM513 181h3v1h-3zM1218 181h2v1h-2zM11 12h13v1h-13zM1264 197h3v1h-3zM1397 232h8v1h-8zM1542 251h4v1h-4zM1254 194h4v1h-4zM399 168h3v1h-3zM566 168h2v1h-2zM1187 168h3v1h-3zM394 166h3v1h-3zM570 166h3v1h-3zM1183 166h2v1h-2zM392 165h2v1h-2zM573 165h2v1h-2zM1181 165h2v1h-2zM376 157h2v1h-2zM588 157h2v1h-2zM1160 157h2v1h-2zM1233 187h2v1h-2zM1464 240h10v1h-10zM368 153h2v1h-2zM595 153h2v1h-2zM1149 153h3v1h-3zM1225 184h3v1h-3zM31 14h6v1h-6zM322 122h1v1h-1zM691 122h10v1h-10zM702 122h8v1h-8zM712 122h11v1h-11zM83 26h2v1h-2zM195 59h3v1h-3zM1338 218h3v1h-3zM343 139h1v1h-1zM620 139h3v1h-3zM1112 139h4v1h-4zM120 35h6v1h-6zM49 17h4v1h-4zM1317 211h4v1h-4zM263 90h2v1h-2zM1370 228h6v1h-6zM1348 221h3v1h-3zM1456 239h8v1h-8zM135 38h3v1h-3zM207 63h3v1h-3zM312 116h2v1h-2zM402 169h2v1h-2zM562 169h4v1h-4zM1190 169h2v1h-2zM1536 250h6v1h-6zM388 163h2v1h-2zM577 163h1v1h-1zM1175 163h3v1h-3zM337 135h2v1h-2zM632 135h3v1h-3zM1098 135h4v1h-4zM1251 193h3v1h-3zM366 152h2v1h-2zM597 152h2v1h-2zM1146 152h3v1h-3zM5 13h6v1h-6zM24 13h7v1h-7zM360 149h2v1h-2zM602 149h2v1h-2zM1139 149h2v1h-2zM78 24h2v1h-2zM449 179h8v1h-8zM519 179h4v1h-4zM1212 179h3v1h-3zM306 112h2v1h-2zM347 142h1v1h-1zM613 142h2v1h-2zM1122 142h3v1h-3zM1487 242h15v1h-15zM308 113h1v1h-1zM1391 231h6v1h-6zM1261 196h3v1h-3zM1424 235h11v1h-11zM184 55h3v1h-3zM380 159h2v1h-2zM584 159h2v1h-2zM1165 159h3v1h-3zM43 16h6v1h-6zM239 75h2v1h-2zM334 132h1v1h-1zM642 132h3v1h-3zM1085 132h5v1h-5zM159 47h3v1h-3zM374 156h2v1h-2zM590 156h2v1h-2zM1157 156h3v1h-3zM151 44h3v1h-3zM1502 243h7v1h-7zM302 109h2v1h-2zM294 105h2v1h-2zM336 134h1v1h-1zM635 134h4v1h-4zM1094 134h4v1h-4zM296 106h2v1h-2zM288 102h2v1h-2zM192 58h3v1h-3zM1314 210h3v1h-3zM162 48h3v1h-3zM1345 220h3v1h-3zM317 119h2v1h-2zM1449 238h7v1h-7zM257 86h1v1h-1zM96 30h4v1h-4zM1519 246h4v1h-4zM333 131h1v1h-1zM645 131h3v1h-3zM1080 131h5v1h-5zM1358 224h3v1h-3zM431 176h4v1h-4zM530 176h5v1h-5zM1205 176h2v1h-2zM350 144h2v1h-2zM609 144h1v1h-1zM1127 144h3v1h-3zM1281 202h3v1h-3zM75 23h3v1h-3zM189 57h3v1h-3zM1309 209h5v1h-5zM1228 185h2v1h-2zM1230 186h3v1h-3zM1284 203h3v1h-3zM357 148h3v1h-3zM604 148h1v1h-1zM1137 148h2v1h-2zM300 108h2v1h-2zM1341 219h4v1h-4zM1550 253h1v1h-1zM292 104h2v1h-2zM341 138h2v1h-2zM623 138h3v1h-3zM1109 138h3v1h-3zM233 72h2v1h-2zM314 117h2v1h-2zM202 61h3v1h-3zM354 146h1v1h-1zM606 146h2v1h-2zM1132 146h2v1h-2zM131 37h4v1h-4zM410 172h3v1h-3zM551 172h4v1h-4zM1197 172h2v1h-2zM390 164h2v1h-2zM575 164h2v1h-2zM1178 164h3v1h-3zM362 150h2v1h-2zM601 150h1v1h-1zM1141 150h3v1h-3zM217 67h2v1h-2zM335 133h1v1h-1zM639 133h3v1h-3zM1090 133h4v1h-4zM355 147h2v1h-2zM605 147h1v1h-1zM1134 147h3v1h-3zM71 22h4v1h-4zM309 114h2v1h-2zM311 115h1v1h-1zM177 53h3v1h-3zM148 43h3v1h-3zM298 107h2v1h-2zM37 15h6v1h-6zM1527 248h5v1h-5zM1364 226h3v1h-3zM1294 206h4v1h-4zM1509 244h6v1h-6zM320 121h2v1h-2zM710 121h2v1h-2zM284 100h3v1h-3zM287 101h1v1h-1zM278 97h2v1h-2zM1244 191h4v1h-4zM100 31h4v1h-4zM1278 201h3v1h-3zM316 118h1v1h-1zM146 42h2v1h-2zM187 56h2v1h-2zM1304 208h5v1h-5zM348 143h2v1h-2zM610 143h3v1h-3zM1125 143h2v1h-2zM290 103h2v1h-2zM113 34h7v1h-7zM205 62h2v1h-2zM1274 200h4v1h-4zM1298 207h6v1h-6zM143 41h3v1h-3zM215 66h2v1h-2zM1335 217h3v1h-3zM1327 214h2v1h-2zM1367 227h3v1h-3zM154 45h2v1h-2zM1361 225h3v1h-3zM352 145h2v1h-2zM608 145h1v1h-1zM1130 145h2v1h-2zM304 110h1v1h-1zM62 20h5v1h-5zM280 98h2v1h-2zM282 99h2v1h-2zM273 95h3v1h-3zM1532 249h4v1h-4zM267 92h2v1h-2zM210 64h3v1h-3zM1248 192h3v1h-3zM219 68h2v1h-2zM213 65h2v1h-2zM1332 216h3v1h-3zM180 54h4v1h-4zM250 81h1v1h-1zM92 29h4v1h-4zM138 39h3v1h-3zM248 80h2v1h-2zM88 28h4v1h-4zM269 93h2v1h-2zM271 94h2v1h-2zM253 83h1v1h-1zM1523 247h4v1h-4zM241 76h2v1h-2zM1241 190h3v1h-3zM276 96h2v1h-2zM262 89h1v1h-1zM171 51h3v1h-3zM174 52h3v1h-3zM85 27h3v1h-3zM246 79h2v1h-2zM260 88h2v1h-2zM256 85h1v1h-1zM1324 213h3v1h-3zM251 82h2v1h-2zM305 111h1v1h-1z"/>
<path fill="#ff00ff" d="M311 138h1v1h-1zM558 138h2v1h-2zM770 138h3v1h-3zM809 138h19v1h-19zM1062 138h3v1h-3zM305 132h1v1h-1zM570 132h1v1h-1zM754 132h3v1h-3zM871 132h6v1h-6zM1043 132h3v1h-3zM225 87h3v1h-3zM338 167h1v1h-1zM517 167h1v1h-1zM1141 167h2v1h-2zM375 192h2v1h-2zM479 192h3v1h-3zM1202 192h3v1h-3zM309 136h1v1h-1zM562 136h2v1h-2zM765 136h2v1h-2zM842 136h8v1h-8zM1056 136h3v1h-3zM385 197h2v1h-2zM456 197h7v1h-7zM1216 197h3v1h-3zM1442 241h7v1h-7zM336 164h1v1h-1zM519 164h1v1h-1zM1135 164h2v1h-2zM1287 222h4v1h-4zM1486 247h6v1h-6zM332 160h1v1h-1zM524 160h1v1h-1zM1126 160h3v1h-3zM281 115h2v1h-2zM663 115h12v1h-12zM692 115h9v1h-9zM943 115h7v1h-7zM987 115h6v1h-6zM285 117h2v1h-2zM647 117h7v1h-7zM707 117h6v1h-6zM933 117h3v1h-3zM1000 117h3v1h-3zM279 114h2v1h-2zM675 114h17v1h-17zM950 114h9v1h-9zM982 114h5v1h-5zM296 125h1v1h-1zM584 125h2v1h-2zM733 125h3v1h-3zM905 125h2v1h-2zM1027 125h2v1h-2zM381 195h2v1h-2zM469 195h4v1h-4zM1210 195h3v1h-3zM1471 245h8v1h-8zM377 193h2v1h-2zM477 193h2v1h-2zM1205 193h2v1h-2zM288 119h1v1h-1zM618 119h21v1h-21zM718 119h3v1h-3zM925 119h4v1h-4zM1006 119h4v1h-4zM277 113h2v1h-2zM959 113h23v1h-23zM292 122h2v1h-2zM592 122h6v1h-6zM725 122h3v1h-3zM913 122h3v1h-3zM1016 122h4v1h-4zM114 48h7v1h-7zM1525 252h5v1h-5zM187 73h3v1h-3zM1323 228h4v1h-4zM289 120h2v1h-2zM607 120h11v1h-11zM721 120h2v1h-2zM920 120h5v1h-5zM1010 120h3v1h-3zM179 70h3v1h-3zM287 118h1v1h-1zM639 118h8v1h-8zM713 118h5v1h-5zM929 118h4v1h-4zM1003 118h3v1h-3zM37 21h3v1h-3zM319 146h1v1h-1zM544 146h2v1h-2zM1088 146h3v1h-3zM107 46h3v1h-3zM354 180h1v1h-1zM503 180h1v1h-1zM1172 180h3v1h-3zM1456 243h8v1h-8zM1362 237h5v1h-5zM1383 237h32v1h-32zM349 177h2v1h-2zM507 177h1v1h-1zM1165 177h2v1h-2zM1358 236h4v1h-4zM297 126h2v1h-2zM581 126h3v1h-3zM736 126h3v1h-3zM903 126h2v1h-2zM1029 126h2v1h-2zM291 121h1v1h-1zM598 121h9v1h-9zM723 121h2v1h-2zM916 121h4v1h-4zM1013 121h3v1h-3zM399 202h6v1h-6zM424 202h2v1h-2zM1228 202h3v1h-3zM312 139h1v1h-1zM556 139h2v1h-2zM773 139h6v1h-6zM802 139h7v1h-7zM1065 139h4v1h-4zM69 31h3v1h-3zM395 201h4v1h-4zM426 201h3v1h-3zM1226 201h2v1h-2zM1492 248h7v1h-7zM61 28h3v1h-3zM283 116h2v1h-2zM654 116h9v1h-9zM701 116h6v1h-6zM936 116h7v1h-7zM993 116h7v1h-7zM318 145h1v1h-1zM546 145h2v1h-2zM1085 145h3v1h-3zM387 198h3v1h-3zM446 198h10v1h-10zM1219 198h2v1h-2zM310 137h1v1h-1zM560 137h2v1h-2zM767 137h3v1h-3zM828 137h14v1h-14zM1059 137h3v1h-3zM320 147h1v1h-1zM542 147h2v1h-2zM1091 147h2v1h-2zM1333 231h5v1h-5zM306 133h1v1h-1zM568 133h2v1h-2zM757 133h2v1h-2zM864 133h7v1h-7zM1046 133h3v1h-3zM295 124h1v1h-1zM586 124h3v1h-3zM730 124h3v1h-3zM907 124h3v1h-3zM1024 124h3v1h-3zM302 130h2v1h-2zM573 130h2v1h-2zM749 130h2v1h-2zM884 130h6v1h-6zM1038 130h2v1h-2zM46 24h3v1h-3zM341 170h1v1h-1zM514 170h1v1h-1zM1148 170h3v1h-3zM323 150h1v1h-1zM537 150h1v1h-1zM1099 150h3v1h-3zM1464 244h7v1h-7zM360 184h2v1h-2zM496 184h2v1h-2zM1183 184h2v1h-2zM414 204h7v1h-7zM1234 204h2v1h-2zM1304 226h12v1h-12zM355 181h2v1h-2zM501 181h2v1h-2zM1175 181h2v1h-2zM351 178h1v1h-1zM505 178h2v1h-2zM1167 178h3v1h-3zM304 131h1v1h-1zM571 131h2v1h-2zM751 131h3v1h-3zM877 131h7v1h-7zM1040 131h3v1h-3zM1281 220h3v1h-3zM121 49h10v1h-10zM203 79h4v1h-4zM1284 221h3v1h-3zM1479 246h7v1h-7zM329 156h1v1h-1zM528 156h1v1h-1zM1115 156h2v1h-2zM299 127h1v1h-1zM579 127h2v1h-2zM739 127h4v1h-4zM901 127h2v1h-2zM1031 127h2v1h-2zM49 25h4v1h-4zM331 159h1v1h-1zM525 159h1v1h-1zM1123 159h3v1h-3zM367 188h2v1h-2zM489 188h2v1h-2zM1193 188h3v1h-3zM1254 211h4v1h-4zM19 15h3v1h-3zM301 129h1v1h-1zM575 129h2v1h-2zM746 129h3v1h-3zM890 129h6v1h-6zM1035 129h3v1h-3zM307 134h1v1h-1zM566 134h2v1h-2zM759 134h3v1h-3zM854 134h10v1h-10zM1049 134h3v1h-3zM1354 235h4v1h-4zM148 56h3v1h-3zM138 52h3v1h-3zM314 141h1v1h-1zM553 141h2v1h-2zM787 141h9v1h-9zM1072 141h4v1h-4zM222 86h3v1h-3zM308 135h1v1h-1zM564 135h2v1h-2zM762 135h3v1h-3zM850 135h4v1h-4zM1052 135h4v1h-4zM141 53h2v1h-2zM390 199h2v1h-2zM440 199h6v1h-6zM1221 199h2v1h-2zM215 83h2v1h-2zM335 163h1v1h-1zM520 163h1v1h-1zM1133 163h2v1h-2zM383 196h2v1h-2zM463 196h6v1h-6zM1213 196h3v1h-3zM294 123h1v1h-1zM589 123h3v1h-3zM728 123h2v1h-2zM910 123h3v1h-3zM1020 123h4v1h-4zM1367 238h16v1h-16zM1415 238h15v1h-15zM184 72h3v1h-3zM176 69h3v1h-3zM352 179h2v1h-2zM504 179h1v1h-1zM1170 179h2v1h-2zM405 203h9v1h-9zM421 203h3v1h-3zM1231 203h3v1h-3zM10 13h6v1h-6zM357 182h1v1h-1zM500 182h1v1h-1zM1177 182h3v1h-3zM76 34h3v1h-3zM66 30h3v1h-3zM392 200h3v1h-3zM429 200h11v1h-11zM1223 200h3v1h-3zM330 157h1v1h-1zM527 157h1v1h-1zM1117 157h3v1h-3zM1270 216h3v1h-3zM358 183h2v1h-2zM498 183h2v1h-2zM1180 183h3v1h-3zM267 109h2v1h-2zM313 140h1v1h-1zM555 140h1v1h-1zM779 140h8v1h-8zM796 140h6v1h-6zM1069 140h3v1h-3zM1509 250h10v1h-10zM86 38h2v1h-2zM348 176h1v1h-1zM508 176h1v1h-1zM1162 176h3v1h-3zM1348 234h6v1h-6zM79 35h2v1h-2zM135 51h3v1h-3zM210 81h3v1h-3zM1273 217h3v1h-3zM331 158h1v1h-1zM526 158h1v1h-1zM1120 158h3v1h-3zM340 169h1v1h-1zM515 169h1v1h-1zM1145 169h3v1h-3zM1251 210h3v1h-3zM172 67h2v1h-2zM213 82h2v1h-2zM337 165h1v1h-1zM518 165h1v1h-1zM1137 165h2v1h-2zM1530 253h6v1h-6zM182 71h2v1h-2zM110 47h4v1h-4zM174 68h2v1h-2zM317 144h1v1h-1zM548 144h2v1h-2zM1082 144h3v1h-3zM1499 249h10v1h-10zM347 175h1v1h-1zM509 175h1v1h-1zM1160 175h2v1h-2zM315 142h1v1h-1zM551 142h2v1h-2zM1076 142h3v1h-3zM231 89h3v1h-3zM1449 242h7v1h-7zM1547 256h4v1h-4zM192 75h3v1h-3zM43 23h3v1h-3zM321 148h1v1h-1zM540 148h2v1h-2zM1093 148h3v1h-3zM34 20h3v1h-3zM373 191h2v1h-2zM482 191h3v1h-3zM1200 191h2v1h-2zM1236 205h3v1h-3zM1343 233h5v1h-5zM131 50h4v1h-4zM1278 219h3v1h-3zM334 162h1v1h-1zM521 162h1v1h-1zM1131 162h2v1h-2zM327 154h1v1h-1zM531 154h1v1h-1zM1110 154h2v1h-2zM275 112h2v1h-2zM1247 209h4v1h-4zM316 143h1v1h-1zM550 143h1v1h-1zM1079 143h3v1h-3zM143 54h3v1h-3zM217 84h3v1h-3zM164 63h2v1h-2zM28 18h3v1h-3zM371 190h2v1h-2zM485 190h2v1h-2zM1198 190h2v1h-2zM157 60h2v1h-2zM300 128h1v1h-1zM577 128h2v1h-2zM743 128h3v1h-3zM896 128h5v1h-5zM1033 128h2v1h-2zM5 12h5v1h-5zM1542 255h5v1h-5zM1338 232h5v1h-5zM40 22h3v1h-3zM269 110h3v1h-3zM31 19h3v1h-3zM369 189h2v1h-2zM487 189h2v1h-2zM1196 189h2v1h-2zM1243 208h4v1h-4zM345 173h1v1h-1zM511 173h1v1h-1zM1156 173h2v1h-2zM342 171h2v1h-2zM513 171h1v1h-1zM1151 171h3v1h-3zM81 36h2v1h-2zM74 33h2v1h-2zM1436 240h6v1h-6zM1276 218h2v1h-2zM1267 215h3v1h-3zM1327 229h3v1h-3zM1330 230h3v1h-3zM1519 251h6v1h-6zM272 111h3v1h-3zM325 152h1v1h-1zM534 152h1v1h-1zM1105 152h3v1h-3zM250 100h2v1h-2zM1300 225h4v1h-4zM207 80h3v1h-3zM379 194h2v1h-2zM473 194h4v1h-4zM1207 194h3v1h-3zM104 45h3v1h-3zM326 153h1v1h-1zM532 153h2v1h-2zM1108 153h2v1h-2zM170 66h2v1h-2zM246 97h1v1h-1zM1264 214h3v1h-3zM363 186h2v1h-2zM493 186h2v1h-2zM1188 186h3v1h-3zM346 174h1v1h-1zM510 174h1v1h-1zM1158 174h2v1h-2zM240 93h2v1h-2zM260 106h3v1h-3zM166 64h2v1h-2zM1241 207h2v1h-2zM234 90h2v1h-2zM1295 224h5v1h-5zM72 32h2v1h-2zM195 76h3v1h-3zM263 107h2v1h-2zM255 103h2v1h-2zM101 44h3v1h-3zM25 17h3v1h-3zM168 65h2v1h-2zM159 61h2v1h-2zM243 95h1v1h-1zM161 62h3v1h-3zM153 58h2v1h-2zM1536 254h6v1h-6zM1430 239h6v1h-6zM1316 227h7v1h-7zM362 185h1v1h-1zM495 185h1v1h-1zM1185 185h3v1h-3zM344 172h1v1h-1zM512 172h1v1h-1zM1154 172h2v1h-2zM238 92h2v1h-2zM253 102h2v1h-2zM322 149h1v1h-1zM538 149h2v1h-2zM1096 149h3v1h-3zM328 155h1v1h-1zM529 155h2v1h-2zM1112 155h3v1h-3zM337 166h1v1h-1zM517 166h1v1h-1zM1139 166h2v1h-2zM247 98h2v1h-2zM22 16h3v1h-3zM249 99h1v1h-1zM151 57h2v1h-2zM339 168h1v1h-1zM516 168h1v1h-1zM1143 168h2v1h-2zM53 26h4v1h-4zM57 27h4v1h-4zM1258 212h3v1h-3zM236 91h2v1h-2zM228 88h3v1h-3zM1291 223h4v1h-4zM333 161h1v1h-1zM522 161h2v1h-2zM1129 161h2v1h-2zM198 77h2v1h-2zM190 74h2v1h-2zM265 108h2v1h-2zM258 105h2v1h-2zM1239 206h2v1h-2zM88 39h2v1h-2zM200 78h3v1h-3zM324 151h1v1h-1zM535 151h2v1h-2zM1102 151h3v1h-3zM98 43h3v1h-3zM64 29h2v1h-2zM365 187h2v1h-2zM491 187h2v1h-2zM1191 187h2v1h-2zM95 42h3v1h-3zM16 14h3v1h-3zM252 101h1v1h-1zM155 59h2v1h-2zM242 94h1v1h-1zM92 41h3v1h-3zM257 104h1v1h-1zM244 96h2v1h-2zM146 55h2v1h-2zM1261 213h3v1h-3zM83 37h3v1h-3zM220 85h2v1h-2zM90 40h2v1h-2z"/>
<path fill="#e8901a" d="M238 114h1v1h-1zM571 114h2v1h-2zM645 114h7v1h-7zM863 114h2v1h-2zM954 114h3v1h-3zM270 141h2v1h-2zM503 141h3v1h-3zM742 141h3v1h-3zM820 141h1v1h-1zM1024 141h1v1h-1zM303 166h1v1h-1zM455 166h1v1h-1zM1099 166h4v1h-4zM222 103h1v1h-1zM592 103h12v1h-12zM253 128h1v1h-1zM536 128h4v1h-4zM720 128h1v1h-1zM842 128h2v1h-2zM998 128h2v1h-2zM1353 241h4v1h-4zM1429 241h33v1h-33zM1486 251h12v1h-12zM242 118h1v1h-1zM563 118h3v1h-3zM664 118h2v1h-2zM857 118h1v1h-1zM968 118h2v1h-2zM366 231h2v1h-2zM398 231h1v1h-1zM1274 231h8v1h-8zM1296 231h13v1h-13zM1324 231h4v1h-4zM308 172h1v1h-1zM447 172h1v1h-1zM1121 172h6v1h-6zM300 163h1v1h-1zM458 163h2v1h-2zM1084 163h3v1h-3zM236 113h2v1h-2zM573 113h2v1h-2zM639 113h6v1h-6zM865 113h2v1h-2zM951 113h3v1h-3zM156 73h3v1h-3zM1498 252h3v1h-3zM251 127h2v1h-2zM540 127h3v1h-3zM698 127h6v1h-6zM715 127h5v1h-5zM844 127h2v1h-2zM996 127h2v1h-2zM288 152h2v1h-2zM474 152h2v1h-2zM770 152h2v1h-2zM803 152h2v1h-2zM1048 152h2v1h-2zM276 144h2v1h-2zM492 144h4v1h-4zM749 144h2v1h-2zM816 144h1v1h-1zM1029 144h2v1h-2zM226 106h2v1h-2zM584 106h3v1h-3zM613 106h2v1h-2zM881 106h6v1h-6zM895 106h10v1h-10zM921 106h5v1h-5zM934 106h3v1h-3zM147 70h4v1h-4zM5 21h3v1h-3zM375 235h6v1h-6zM388 235h6v1h-6zM1337 235h2v1h-2zM361 228h2v1h-2zM402 228h1v1h-1zM1241 228h22v1h-22zM312 176h1v1h-1zM443 176h1v1h-1zM1133 176h2v1h-2zM229 108h1v1h-1zM581 108h2v1h-2zM617 108h2v1h-2zM877 108h2v1h-2zM939 108h3v1h-3zM230 109h2v1h-2zM580 109h1v1h-1zM619 109h5v1h-5zM874 109h3v1h-3zM942 109h2v1h-2zM258 133h2v1h-2zM525 133h1v1h-1zM727 133h1v1h-1zM833 133h1v1h-1zM1007 133h2v1h-2zM313 177h1v1h-1zM442 177h1v1h-1zM1135 177h2v1h-2zM309 173h1v1h-1zM446 173h1v1h-1zM1127 173h2v1h-2zM232 110h1v1h-1zM578 110h2v1h-2zM624 110h5v1h-5zM872 110h2v1h-2zM944 110h2v1h-2zM360 227h1v1h-1zM403 227h1v1h-1zM1239 227h2v1h-2zM363 229h2v1h-2zM401 229h1v1h-1zM1263 229h5v1h-5zM1313 229h6v1h-6zM181 80h5v1h-5zM47 35h3v1h-3zM225 105h1v1h-1zM587 105h2v1h-2zM611 105h2v1h-2zM887 105h8v1h-8zM905 105h16v1h-16zM292 155h1v1h-1zM469 155h2v1h-2zM785 155h12v1h-12zM1056 155h5v1h-5zM1368 245h6v1h-6zM1403 245h13v1h-13zM1468 245h3v1h-3zM40 32h3v1h-3zM307 170h1v1h-1zM449 170h2v1h-2zM1112 170h4v1h-4zM329 197h1v1h-1zM426 197h1v1h-1zM1171 197h2v1h-2zM326 193h1v1h-1zM427 193h1v1h-1zM1163 193h2v1h-2zM228 107h1v1h-1zM583 107h1v1h-1zM615 107h2v1h-2zM879 107h2v1h-2zM926 107h8v1h-8zM937 107h2v1h-2zM279 146h2v1h-2zM485 146h3v1h-3zM754 146h2v1h-2zM813 146h1v1h-1zM1033 146h2v1h-2zM1360 243h4v1h-4zM1380 243h20v1h-20zM1420 243h4v1h-4zM1464 243h2v1h-2zM1528 264h3v1h-3zM1364 244h4v1h-4zM1374 244h6v1h-6zM1400 244h3v1h-3zM1416 244h4v1h-4zM1466 244h2v1h-2zM338 209h1v1h-1zM420 209h1v1h-1zM1193 209h2v1h-2zM243 119h1v1h-1zM561 119h2v1h-2zM666 119h3v1h-3zM855 119h2v1h-2zM970 119h3v1h-3zM291 154h1v1h-1zM471 154h2v1h-2zM776 154h9v1h-9zM797 154h4v1h-4zM1053 154h3v1h-3zM284 149h2v1h-2zM479 149h2v1h-2zM763 149h3v1h-3zM809 149h2v1h-2zM1040 149h2v1h-2zM260 134h1v1h-1zM523 134h2v1h-2zM728 134h2v1h-2zM831 134h2v1h-2zM1009 134h2v1h-2zM250 126h1v1h-1zM543 126h3v1h-3zM691 126h7v1h-7zM704 126h11v1h-11zM846 126h1v1h-1zM993 126h3v1h-3zM287 151h1v1h-1zM476 151h2v1h-2zM768 151h2v1h-2zM805 151h2v1h-2zM1045 151h3v1h-3zM283 148h1v1h-1zM481 148h2v1h-2zM760 148h3v1h-3zM811 148h1v1h-1zM1037 148h3v1h-3zM348 219h1v1h-1zM412 219h1v1h-1zM1212 219h2v1h-2zM175 79h6v1h-6zM278 145h1v1h-1zM488 145h4v1h-4zM751 145h3v1h-3zM814 145h2v1h-2zM1031 145h2v1h-2zM113 68h30v1h-30zM323 190h1v1h-1zM429 190h1v1h-1zM1158 190h2v1h-2zM257 132h1v1h-1zM526 132h2v1h-2zM725 132h2v1h-2zM834 132h2v1h-2zM1005 132h2v1h-2zM320 186h1v1h-1zM433 186h1v1h-1zM1150 186h3v1h-3zM151 71h2v1h-2zM245 121h1v1h-1zM557 121h2v1h-2zM671 121h2v1h-2zM853 121h1v1h-1zM977 121h3v1h-3zM274 143h2v1h-2zM496 143h4v1h-4zM747 143h2v1h-2zM817 143h1v1h-1zM1027 143h2v1h-2zM299 162h1v1h-1zM460 162h1v1h-1zM1080 162h4v1h-4zM267 139h2v1h-2zM508 139h3v1h-3zM738 139h2v1h-2zM823 139h2v1h-2zM1020 139h2v1h-2zM318 183h1v1h-1zM436 183h1v1h-1zM1144 183h2v1h-2zM281 147h2v1h-2zM483 147h2v1h-2zM756 147h4v1h-4zM812 147h1v1h-1zM1035 147h2v1h-2zM296 159h1v1h-1zM464 159h1v1h-1zM1070 159h4v1h-4zM358 226h2v1h-2zM404 226h2v1h-2zM1236 226h3v1h-3zM143 69h4v1h-4zM247 123h1v1h-1zM552 123h2v1h-2zM676 123h5v1h-5zM850 123h1v1h-1zM984 123h4v1h-4zM235 112h1v1h-1zM575 112h2v1h-2zM634 112h5v1h-5zM867 112h3v1h-3zM949 112h2v1h-2zM1531 265h3v1h-3zM354 223h1v1h-1zM408 223h1v1h-1zM1221 223h3v1h-3zM249 125h1v1h-1zM546 125h3v1h-3zM686 125h5v1h-5zM847 125h1v1h-1zM991 125h2v1h-2zM349 220h1v1h-1zM411 220h1v1h-1zM1214 220h2v1h-2zM264 137h1v1h-1zM515 137h6v1h-6zM734 137h2v1h-2zM826 137h2v1h-2zM1016 137h2v1h-2zM239 115h1v1h-1zM570 115h1v1h-1zM652 115h5v1h-5zM861 115h2v1h-2zM957 115h5v1h-5zM320 185h1v1h-1zM434 185h1v1h-1zM1148 185h2v1h-2zM302 165h1v1h-1zM456 165h1v1h-1zM1091 165h8v1h-8zM34 30h3v1h-3zM255 130h1v1h-1zM529 130h3v1h-3zM723 130h1v1h-1zM838 130h2v1h-2zM1002 130h2v1h-2zM1343 238h4v1h-4zM373 234h2v1h-2zM394 234h1v1h-1zM1334 234h3v1h-3zM104 67h9v1h-9zM329 198h1v1h-1zM425 198h1v1h-1zM1173 198h2v1h-2zM290 153h1v1h-1zM473 153h1v1h-1zM772 153h4v1h-4zM801 153h2v1h-2zM1050 153h3v1h-3zM262 136h2v1h-2zM521 136h1v1h-1zM732 136h2v1h-2zM828 136h1v1h-1zM1014 136h2v1h-2zM381 236h7v1h-7zM1339 236h2v1h-2zM246 122h1v1h-1zM554 122h3v1h-3zM673 122h3v1h-3zM851 122h2v1h-2zM980 122h4v1h-4zM315 180h1v1h-1zM438 180h1v1h-1zM1139 180h2v1h-2zM314 178h1v1h-1zM441 178h1v1h-1zM1137 178h1v1h-1zM45 34h2v1h-2zM37 31h3v1h-3zM306 169h1v1h-1zM451 169h1v1h-1zM1109 169h3v1h-3zM272 142h2v1h-2zM500 142h3v1h-3zM745 142h2v1h-2zM818 142h2v1h-2zM1025 142h2v1h-2zM365 230h1v1h-1zM399 230h2v1h-2zM1268 230h6v1h-6zM1309 230h4v1h-4zM1319 230h5v1h-5zM254 129h1v1h-1zM532 129h4v1h-4zM721 129h2v1h-2zM840 129h2v1h-2zM1000 129h2v1h-2zM256 131h1v1h-1zM528 131h1v1h-1zM724 131h1v1h-1zM836 131h2v1h-2zM1004 131h1v1h-1zM240 116h1v1h-1zM568 116h2v1h-2zM657 116h3v1h-3zM860 116h1v1h-1zM962 116h3v1h-3zM308 171h1v1h-1zM448 171h1v1h-1zM1116 171h5v1h-5zM331 200h1v1h-1zM424 200h1v1h-1zM1177 200h2v1h-2zM332 202h1v1h-1zM423 202h1v1h-1zM1181 202h2v1h-2zM1471 246h3v1h-3zM1357 242h3v1h-3zM1424 242h5v1h-5zM1462 242h2v1h-2zM1526 263h2v1h-2zM1519 260h2v1h-2zM241 117h1v1h-1zM566 117h2v1h-2zM660 117h4v1h-4zM858 117h2v1h-2zM965 117h3v1h-3zM316 181h1v1h-1zM437 181h1v1h-1zM1141 181h1v1h-1zM1474 247h2v1h-2zM265 138h2v1h-2zM511 138h4v1h-4zM736 138h2v1h-2zM825 138h1v1h-1zM1018 138h2v1h-2zM248 124h1v1h-1zM549 124h3v1h-3zM681 124h5v1h-5zM848 124h2v1h-2zM988 124h3v1h-3zM317 182h1v1h-1zM436 182h1v1h-1zM1142 182h2v1h-2zM1537 267h4v1h-4zM223 104h2v1h-2zM589 104h3v1h-3zM604 104h7v1h-7zM343 215h1v1h-1zM415 215h1v1h-1zM1204 215h2v1h-2zM304 167h1v1h-1zM453 167h2v1h-2zM1103 167h3v1h-3zM22 26h4v1h-4zM344 216h2v1h-2zM414 216h1v1h-1zM1206 216h1v1h-1zM286 150h1v1h-1zM478 150h1v1h-1zM766 150h2v1h-2zM807 150h2v1h-2zM1042 150h3v1h-3zM298 161h1v1h-1zM461 161h1v1h-1zM1077 161h3v1h-3zM295 158h1v1h-1zM465 158h1v1h-1zM1067 158h3v1h-3zM371 233h2v1h-2zM395 233h1v1h-1zM1331 233h3v1h-3zM310 174h1v1h-1zM445 174h1v1h-1zM1129 174h2v1h-2zM368 232h3v1h-3zM396 232h2v1h-2zM1282 232h14v1h-14zM1328 232h3v1h-3zM261 135h1v1h-1zM522 135h1v1h-1zM730 135h2v1h-2zM829 135h2v1h-2zM1011 135h3v1h-3zM205 91h2v1h-2zM314 179h1v1h-1zM439 179h2v1h-2zM1138 179h1v1h-1zM324 191h1v1h-1zM428 191h1v1h-1zM1160 191h1v1h-1zM335 205h1v1h-1zM422 205h1v1h-1zM1186 205h2v1h-2zM43 33h2v1h-2zM305 168h1v1h-1zM452 168h1v1h-1zM1106 168h3v1h-3zM294 157h1v1h-1zM466 157h2v1h-2zM1064 157h3v1h-3zM200 88h2v1h-2zM1523 262h3v1h-3zM1517 259h2v1h-2zM168 77h4v1h-4zM325 192h1v1h-1zM428 192h1v1h-1zM1161 192h2v1h-2zM297 160h1v1h-1zM462 160h2v1h-2zM1074 160h3v1h-3zM322 188h1v1h-1zM431 188h1v1h-1zM1155 188h1v1h-1zM326 194h1v1h-1zM427 194h1v1h-1zM1165 194h2v1h-2zM214 97h2v1h-2zM336 207h1v1h-1zM421 207h1v1h-1zM1189 207h2v1h-2zM350 221h2v1h-2zM410 221h1v1h-1zM1216 221h2v1h-2zM337 208h1v1h-1zM420 208h1v1h-1zM1191 208h2v1h-2zM352 222h2v1h-2zM409 222h1v1h-1zM1218 222h3v1h-3zM347 218h1v1h-1zM413 218h1v1h-1zM1209 218h3v1h-3zM28 28h3v1h-3zM172 78h3v1h-3zM203 90h2v1h-2zM355 224h2v1h-2zM407 224h1v1h-1zM1224 224h7v1h-7zM31 29h3v1h-3zM340 212h1v1h-1zM417 212h1v1h-1zM1198 212h2v1h-2zM165 76h3v1h-3zM8 22h4v1h-4zM311 175h1v1h-1zM444 175h1v1h-1zM1131 175h2v1h-2zM1521 261h2v1h-2zM1515 258h2v1h-2zM233 111h2v1h-2zM577 111h1v1h-1zM629 111h5v1h-5zM870 111h2v1h-2zM946 111h3v1h-3zM1507 255h3v1h-3zM346 217h1v1h-1zM413 217h1v1h-1zM1207 217h2v1h-2zM341 213h1v1h-1zM417 213h1v1h-1zM1200 213h2v1h-2zM293 156h1v1h-1zM468 156h1v1h-1zM1061 156h3v1h-3zM301 164h1v1h-1zM457 164h1v1h-1zM1087 164h4v1h-4zM327 195h1v1h-1zM426 195h1v1h-1zM1167 195h2v1h-2zM330 199h1v1h-1zM425 199h1v1h-1zM1175 199h2v1h-2zM98 65h3v1h-3zM1483 250h3v1h-3zM1548 271h2v1h-2zM208 93h2v1h-2zM342 214h1v1h-1zM416 214h1v1h-1zM1202 214h2v1h-2zM335 206h1v1h-1zM421 206h1v1h-1zM1188 206h1v1h-1zM332 201h1v1h-1zM424 201h1v1h-1zM1179 201h2v1h-2zM67 44h2v1h-2zM1512 257h3v1h-3zM328 196h1v1h-1zM426 196h1v1h-1zM1169 196h2v1h-2zM63 41h1v1h-1zM217 99h1v1h-1zM333 203h1v1h-1zM423 203h1v1h-1zM1183 203h1v1h-1zM269 140h1v1h-1zM506 140h2v1h-2zM740 140h2v1h-2zM821 140h2v1h-2zM1022 140h2v1h-2zM191 83h2v1h-2zM244 120h1v1h-1zM559 120h2v1h-2zM669 120h2v1h-2zM854 120h1v1h-1zM973 120h4v1h-4zM338 210h1v1h-1zM419 210h1v1h-1zM1195 210h1v1h-1zM321 187h1v1h-1zM432 187h1v1h-1zM1153 187h2v1h-2zM56 38h4v1h-4zM213 96h1v1h-1zM89 60h1v1h-1zM357 225h1v1h-1zM406 225h1v1h-1zM1231 225h5v1h-5zM159 74h3v1h-3zM220 102h2v1h-2zM1501 253h3v1h-3zM162 75h3v1h-3zM195 85h2v1h-2zM323 189h1v1h-1zM430 189h1v1h-1zM1156 189h2v1h-2zM61 40h2v1h-2zM53 37h3v1h-3zM101 66h3v1h-3zM75 50h1v1h-1zM94 63h1v1h-1zM210 94h2v1h-2zM26 27h2v1h-2zM1480 249h3v1h-3zM70 46h1v1h-1zM71 47h2v1h-2zM198 87h2v1h-2zM207 92h1v1h-1zM339 211h1v1h-1zM418 211h1v1h-1zM1196 211h2v1h-2zM66 43h1v1h-1zM193 84h2v1h-2zM186 81h2v1h-2zM1510 256h2v1h-2zM1350 240h3v1h-3zM1476 248h4v1h-4zM216 98h1v1h-1zM87 59h2v1h-2zM1543 269h2v1h-2zM212 95h1v1h-1zM334 204h1v1h-1zM422 204h1v1h-1zM1184 204h2v1h-2zM82 55h1v1h-1zM83 56h1v1h-1zM64 42h2v1h-2zM218 100h1v1h-1zM1347 239h3v1h-3zM16 24h3v1h-3zM19 25h3v1h-3zM78 52h1v1h-1zM79 53h1v1h-1zM60 39h1v1h-1zM153 72h3v1h-3zM92 62h2v1h-2zM73 48h1v1h-1zM1541 268h2v1h-2zM74 49h1v1h-1zM69 45h1v1h-1zM80 54h2v1h-2zM197 86h1v1h-1zM188 82h3v1h-3zM1504 254h3v1h-3zM76 51h2v1h-2zM95 64h3v1h-3zM1545 270h3v1h-3zM90 61h2v1h-2zM1341 237h2v1h-2zM84 57h2v1h-2zM86 58h1v1h-1zM202 89h1v1h-1zM12 23h4v1h-4zM1534 266h3v1h-3zM319 184h1v1h-1zM435 184h1v1h-1zM1146 184h2v1h-2zM50 36h3v1h-3zM219 101h1v1h-1zM1550 272h1v1h-1z"/>
<path fill="#222222" d="M246 138h1v1h-1zM479 138h1v1h-1zM719 138h1v1h-1zM809 138h1v1h-1zM985 138h4v1h-4zM77 68h2v1h-2zM120 68h3v1h-3zM152 68h1v1h-1zM230 116h1v1h-1zM544 116h1v1h-1zM618 116h1v1h-1zM682 116h2v1h-2zM829 116h1v1h-1zM953 116h1v1h-1zM337 248h1v1h-1zM372 248h1v1h-1zM1345 248h3v1h-3zM1377 248h1v1h-1zM1456 248h5v1h-5zM324 209h1v1h-1zM389 209h1v1h-1zM1158 209h1v1h-1zM254 154h1v1h-1zM446 154h1v1h-1zM737 154h3v1h-3zM785 154h7v1h-7zM1033 154h2v1h-2zM244 135h1v1h-1zM483 135h1v1h-1zM488 135h5v1h-5zM510 135h3v1h-3zM713 135h2v1h-2zM812 135h1v1h-1zM979 135h1v1h-1zM40 41h1v1h-1zM223 111h2v1h-2zM551 111h1v1h-1zM615 111h1v1h-1zM834 111h1v1h-1zM900 111h10v1h-10zM946 111h2v1h-2zM253 153h1v1h-1zM447 153h2v1h-2zM734 153h3v1h-3zM792 153h2v1h-2zM1032 153h1v1h-1zM344 261h1v1h-1zM363 261h2v1h-2zM1508 261h3v1h-3zM41 42h2v1h-2zM255 155h1v1h-1zM444 155h2v1h-2zM740 155h3v1h-3zM773 155h12v1h-12zM1035 155h1v1h-1zM236 122h1v1h-1zM535 122h1v1h-1zM623 122h1v1h-1zM659 122h1v1h-1zM690 122h2v1h-2zM824 122h1v1h-1zM961 122h1v1h-1zM259 162h1v1h-1zM429 162h1v1h-1zM1044 162h3v1h-3zM320 201h1v1h-1zM393 201h1v1h-1zM1145 201h2v1h-2zM249 146h1v1h-1zM458 146h2v1h-2zM725 146h1v1h-1zM802 146h1v1h-1zM1021 146h2v1h-2zM257 160h1v1h-1zM434 160h4v1h-4zM758 160h8v1h-8zM1041 160h2v1h-2zM240 127h1v1h-1zM527 127h2v1h-2zM628 127h2v1h-2zM650 127h3v1h-3zM699 127h2v1h-2zM820 127h1v1h-1zM968 127h1v1h-1zM330 226h1v1h-1zM381 226h1v1h-1zM1218 226h1v1h-1zM1277 226h14v1h-14zM267 169h3v1h-3zM291 169h2v1h-2zM297 169h3v1h-3zM423 169h1v1h-1zM1066 169h4v1h-4zM1073 169h5v1h-5zM1108 169h3v1h-3zM160 78h1v1h-1zM328 220h1v1h-1zM383 220h1v1h-1zM1203 220h3v1h-3zM14 25h7v1h-7zM161 79h1v1h-1zM249 145h1v1h-1zM460 145h1v1h-1zM724 145h1v1h-1zM803 145h1v1h-1zM1018 145h3v1h-3zM323 208h1v1h-1zM389 208h1v1h-1zM1156 208h2v1h-2zM231 117h1v1h-1zM542 117h2v1h-2zM619 117h1v1h-1zM670 117h12v1h-12zM684 117h1v1h-1zM828 117h1v1h-1zM954 117h1v1h-1zM334 237h1v1h-1zM377 237h1v1h-1zM1236 237h3v1h-3zM1246 237h2v1h-2zM1327 237h2v1h-2zM1391 237h2v1h-2zM1421 237h2v1h-2zM334 239h1v1h-1zM377 239h1v1h-1zM1242 239h2v1h-2zM1330 239h2v1h-2zM1387 239h1v1h-1zM1425 239h2v1h-2zM339 255h1v1h-1zM368 255h1v1h-1zM1359 255h2v1h-2zM1366 255h5v1h-5zM1484 255h13v1h-13zM241 129h1v1h-1zM524 129h1v1h-1zM631 129h2v1h-2zM644 129h3v1h-3zM702 129h2v1h-2zM818 129h1v1h-1zM971 129h1v1h-1zM335 241h1v1h-1zM376 241h1v1h-1zM1333 241h2v1h-2zM1385 241h1v1h-1zM1429 241h2v1h-2zM218 108h3v1h-3zM555 108h2v1h-2zM613 108h1v1h-1zM836 108h2v1h-2zM894 108h2v1h-2zM917 108h6v1h-6zM930 108h5v1h-5zM938 108h3v1h-3zM181 99h1v1h-1zM575 99h1v1h-1zM601 99h2v1h-2zM862 99h3v1h-3zM270 170h5v1h-5zM289 170h2v1h-2zM300 170h2v1h-2zM423 170h1v1h-1zM1070 170h3v1h-3zM1111 170h2v1h-2zM1545 282h2v1h-2zM255 156h1v1h-1zM443 156h1v1h-1zM743 156h3v1h-3zM771 156h2v1h-2zM1036 156h1v1h-1zM281 172h6v1h-6zM304 172h1v1h-1zM421 172h1v1h-1zM1116 172h2v1h-2zM239 125h1v1h-1zM531 125h1v1h-1zM626 125h1v1h-1zM656 125h1v1h-1zM695 125h2v1h-2zM821 125h1v1h-1zM965 125h1v1h-1zM184 101h1v1h-1zM571 101h2v1h-2zM604 101h2v1h-2zM855 101h4v1h-4zM868 101h3v1h-3zM1537 278h2v1h-2zM1530 274h1v1h-1zM263 165h1v1h-1zM426 165h1v1h-1zM1053 165h3v1h-3zM348 268h1v1h-1zM1520 268h2v1h-2zM232 118h1v1h-1zM541 118h1v1h-1zM619 118h1v1h-1zM664 118h6v1h-6zM685 118h1v1h-1zM828 118h1v1h-1zM955 118h1v1h-1zM247 141h1v1h-1zM466 141h5v1h-5zM476 141h1v1h-1zM721 141h1v1h-1zM807 141h1v1h-1zM1003 141h2v1h-2zM344 262h1v1h-1zM362 262h1v1h-1zM1511 262h2v1h-2zM47 47h1v1h-1zM256 158h1v1h-1zM440 158h1v1h-1zM749 158h4v1h-4zM768 158h2v1h-2zM1039 158h1v1h-1zM253 152h1v1h-1zM449 152h1v1h-1zM730 152h4v1h-4zM794 152h2v1h-2zM1031 152h1v1h-1zM331 228h1v1h-1zM380 228h1v1h-1zM1220 228h1v1h-1zM1269 228h2v1h-2zM1295 228h3v1h-3zM250 147h1v1h-1zM457 147h1v1h-1zM725 147h1v1h-1zM802 147h1v1h-1zM1023 147h3v1h-3zM337 247h1v1h-1zM373 247h1v1h-1zM1343 247h2v1h-2zM1378 247h2v1h-2zM1442 247h14v1h-14zM257 159h1v1h-1zM438 159h2v1h-2zM753 159h5v1h-5zM766 159h2v1h-2zM1040 159h1v1h-1zM310 181h1v1h-1zM412 181h1v1h-1zM1130 181h1v1h-1zM264 166h1v1h-1zM426 166h1v1h-1zM1056 166h3v1h-3zM1093 166h8v1h-8zM336 244h1v1h-1zM375 244h1v1h-1zM1338 244h2v1h-2zM1382 244h1v1h-1zM1435 244h2v1h-2zM334 240h1v1h-1zM376 240h1v1h-1zM1332 240h1v1h-1zM1386 240h1v1h-1zM1427 240h2v1h-2zM241 128h1v1h-1zM525 128h2v1h-2zM630 128h1v1h-1zM647 128h3v1h-3zM701 128h1v1h-1zM819 128h1v1h-1zM969 128h2v1h-2zM86 75h3v1h-3zM107 75h1v1h-1zM158 75h1v1h-1zM247 142h1v1h-1zM464 142h2v1h-2zM471 142h5v1h-5zM722 142h1v1h-1zM806 142h1v1h-1zM1005 142h2v1h-2zM330 227h1v1h-1zM381 227h1v1h-1zM1219 227h1v1h-1zM1271 227h6v1h-6zM1291 227h4v1h-4zM324 210h1v1h-1zM388 210h1v1h-1zM1159 210h1v1h-1zM246 139h1v1h-1zM478 139h1v1h-1zM720 139h1v1h-1zM809 139h1v1h-1zM989 139h12v1h-12zM339 253h1v1h-1zM369 253h1v1h-1zM1356 253h2v1h-2zM1372 253h1v1h-1zM1473 253h5v1h-5zM188 103h3v1h-3zM567 103h2v1h-2zM608 103h1v1h-1zM848 103h4v1h-4zM874 103h4v1h-4zM334 238h1v1h-1zM377 238h1v1h-1zM1239 238h3v1h-3zM1244 238h2v1h-2zM1329 238h1v1h-1zM1388 238h3v1h-3zM1423 238h2v1h-2zM175 95h1v1h-1zM581 95h1v1h-1zM595 95h2v1h-2zM337 249h1v1h-1zM372 249h1v1h-1zM1348 249h2v1h-2zM1376 249h1v1h-1zM1461 249h2v1h-2zM243 132h1v1h-1zM518 132h2v1h-2zM637 132h2v1h-2zM707 132h2v1h-2zM815 132h1v1h-1zM975 132h1v1h-1zM70 65h3v1h-3zM126 65h1v1h-1zM150 65h1v1h-1zM315 189h1v1h-1zM403 189h1v1h-1zM1137 189h1v1h-1zM327 217h1v1h-1zM384 217h1v1h-1zM1170 217h1v1h-1zM1172 217h4v1h-4zM1196 217h2v1h-2zM305 174h1v1h-1zM419 174h2v1h-2zM1120 174h2v1h-2zM185 102h3v1h-3zM569 102h2v1h-2zM606 102h2v1h-2zM852 102h3v1h-3zM871 102h3v1h-3zM80 70h1v1h-1zM115 70h3v1h-3zM154 70h1v1h-1zM333 236h1v1h-1zM378 236h1v1h-1zM1233 236h3v1h-3zM1248 236h2v1h-2zM1325 236h2v1h-2zM1393 236h3v1h-3zM1419 236h2v1h-2zM331 229h1v1h-1zM380 229h1v1h-1zM1221 229h1v1h-1zM1267 229h2v1h-2zM1298 229h5v1h-5zM258 161h1v1h-1zM430 161h4v1h-4zM1043 161h1v1h-1zM333 234h1v1h-1zM378 234h1v1h-1zM1228 234h2v1h-2zM1252 234h4v1h-4zM1322 234h2v1h-2zM1410 234h7v1h-7zM5 24h9v1h-9zM333 235h1v1h-1zM378 235h1v1h-1zM1230 235h3v1h-3zM1250 235h2v1h-2zM1324 235h1v1h-1zM1396 235h14v1h-14zM1417 235h2v1h-2zM251 149h1v1h-1zM453 149h2v1h-2zM727 149h1v1h-1zM799 149h2v1h-2zM1027 149h1v1h-1zM326 216h1v1h-1zM385 216h1v1h-1zM1168 216h2v1h-2zM1176 216h5v1h-5zM1194 216h2v1h-2zM266 168h1v1h-1zM293 168h4v1h-4zM424 168h1v1h-1zM1062 168h4v1h-4zM1078 168h6v1h-6zM1105 168h3v1h-3zM332 231h1v1h-1zM379 231h1v1h-1zM1223 231h1v1h-1zM1263 231h2v1h-2zM1317 231h1v1h-1zM182 100h2v1h-2zM573 100h2v1h-2zM603 100h1v1h-1zM859 100h3v1h-3zM865 100h3v1h-3zM335 243h1v1h-1zM375 243h1v1h-1zM1337 243h1v1h-1zM1383 243h1v1h-1zM1433 243h2v1h-2zM332 232h1v1h-1zM379 232h1v1h-1zM1224 232h1v1h-1zM1260 232h3v1h-3zM1318 232h2v1h-2zM75 67h2v1h-2zM123 67h1v1h-1zM152 67h1v1h-1zM319 198h1v1h-1zM396 198h1v1h-1zM1143 198h1v1h-1zM347 266h1v1h-1zM358 266h1v1h-1zM1518 266h1v1h-1zM329 223h1v1h-1zM382 223h1v1h-1zM1212 223h3v1h-3zM248 144h1v1h-1zM461 144h2v1h-2zM723 144h1v1h-1zM804 144h1v1h-1zM1012 144h6v1h-6zM345 263h1v1h-1zM361 263h1v1h-1zM1513 263h2v1h-2zM81 71h1v1h-1zM113 71h2v1h-2zM155 71h1v1h-1zM326 215h1v1h-1zM386 215h1v1h-1zM1166 215h2v1h-2zM1181 215h4v1h-4zM1192 215h2v1h-2zM245 136h1v1h-1zM482 136h1v1h-1zM493 136h9v1h-9zM503 136h7v1h-7zM715 136h3v1h-3zM811 136h1v1h-1zM980 136h1v1h-1zM242 130h1v1h-1zM522 130h2v1h-2zM633 130h2v1h-2zM641 130h3v1h-3zM704 130h2v1h-2zM817 130h1v1h-1zM972 130h1v1h-1zM343 260h1v1h-1zM365 260h1v1h-1zM1505 260h3v1h-3zM252 151h1v1h-1zM450 151h2v1h-2zM728 151h2v1h-2zM796 151h1v1h-1zM1030 151h1v1h-1zM252 150h1v1h-1zM452 150h1v1h-1zM727 150h1v1h-1zM797 150h2v1h-2zM1028 150h2v1h-2zM193 105h5v1h-5zM210 105h4v1h-4zM562 105h3v1h-3zM611 105h1v1h-1zM843 105h2v1h-2zM881 105h8v1h-8zM341 257h1v1h-1zM367 257h1v1h-1zM1499 257h2v1h-2zM237 123h1v1h-1zM534 123h1v1h-1zM624 123h1v1h-1zM658 123h1v1h-1zM692 123h1v1h-1zM823 123h1v1h-1zM962 123h1v1h-1zM339 254h1v1h-1zM369 254h1v1h-1zM1358 254h1v1h-1zM1371 254h1v1h-1zM1478 254h6v1h-6zM191 104h2v1h-2zM198 104h12v1h-12zM565 104h2v1h-2zM609 104h2v1h-2zM845 104h3v1h-3zM878 104h3v1h-3zM64 61h2v1h-2zM132 61h3v1h-3zM144 61h2v1h-2zM228 115h2v1h-2zM545 115h2v1h-2zM617 115h1v1h-1zM830 115h1v1h-1zM951 115h2v1h-2zM1549 284h2v1h-2zM316 192h1v1h-1zM400 192h1v1h-1zM1139 192h1v1h-1zM89 76h5v1h-5zM105 76h2v1h-2zM158 76h1v1h-1zM1542 281h3v1h-3zM336 245h1v1h-1zM374 245h1v1h-1zM1340 245h2v1h-2zM1381 245h1v1h-1zM1437 245h3v1h-3zM1535 277h2v1h-2zM63 60h1v1h-1zM135 60h4v1h-4zM142 60h2v1h-2zM331 230h1v1h-1zM380 230h1v1h-1zM1222 230h1v1h-1zM1265 230h2v1h-2zM1303 230h14v1h-14zM338 252h1v1h-1zM370 252h1v1h-1zM1354 252h2v1h-2zM1373 252h1v1h-1zM1468 252h5v1h-5zM250 148h1v1h-1zM455 148h2v1h-2zM726 148h1v1h-1zM801 148h1v1h-1zM1026 148h1v1h-1zM320 200h1v1h-1zM394 200h1v1h-1zM1144 200h1v1h-1zM256 157h1v1h-1zM441 157h2v1h-2zM746 157h3v1h-3zM770 157h1v1h-1zM1037 157h2v1h-2zM342 259h1v1h-1zM366 259h1v1h-1zM1503 259h2v1h-2zM314 187h1v1h-1zM405 187h1v1h-1zM1135 187h1v1h-1zM335 242h1v1h-1zM376 242h1v1h-1zM1335 242h2v1h-2zM1384 242h1v1h-1zM1431 242h2v1h-2zM221 109h1v1h-1zM554 109h1v1h-1zM613 109h1v1h-1zM835 109h1v1h-1zM896 109h2v1h-2zM914 109h3v1h-3zM923 109h7v1h-7zM941 109h4v1h-4zM225 112h1v1h-1zM550 112h1v1h-1zM615 112h1v1h-1zM833 112h1v1h-1zM948 112h1v1h-1zM317 195h1v1h-1zM398 195h1v1h-1zM1141 195h1v1h-1zM174 94h1v1h-1zM582 94h3v1h-3zM594 94h1v1h-1zM348 267h10v1h-10zM1519 267h1v1h-1zM318 196h1v1h-1zM397 196h1v1h-1zM1141 196h1v1h-1zM1523 270h2v1h-2zM59 57h2v1h-2zM324 211h1v1h-1zM388 211h1v1h-1zM1160 211h2v1h-2zM325 212h1v1h-1zM387 212h1v1h-1zM1162 212h1v1h-1zM214 106h2v1h-2zM560 106h2v1h-2zM611 106h1v1h-1zM840 106h3v1h-3zM889 106h3v1h-3zM234 120h1v1h-1zM538 120h1v1h-1zM621 120h1v1h-1zM661 120h2v1h-2zM688 120h1v1h-1zM826 120h1v1h-1zM958 120h1v1h-1zM306 175h1v1h-1zM418 175h1v1h-1zM1122 175h2v1h-2zM94 77h11v1h-11zM159 77h1v1h-1zM54 53h1v1h-1zM73 66h2v1h-2zM124 66h2v1h-2zM151 66h1v1h-1zM275 171h6v1h-6zM287 171h2v1h-2zM302 171h2v1h-2zM422 171h1v1h-1zM1113 171h3v1h-3zM32 34h1v1h-1zM43 43h1v1h-1zM265 167h1v1h-1zM425 167h1v1h-1zM1059 167h3v1h-3zM1084 167h9v1h-9zM1101 167h4v1h-4zM238 124h1v1h-1zM532 124h2v1h-2zM625 124h1v1h-1zM657 124h1v1h-1zM693 124h2v1h-2zM822 124h1v1h-1zM963 124h2v1h-2zM227 114h1v1h-1zM547 114h1v1h-1zM617 114h1v1h-1zM831 114h1v1h-1zM950 114h1v1h-1zM340 256h1v1h-1zM368 256h1v1h-1zM1361 256h5v1h-5zM1497 256h2v1h-2zM327 219h1v1h-1zM384 219h1v1h-1zM1201 219h2v1h-2zM260 163h1v1h-1zM428 163h1v1h-1zM1047 163h3v1h-3zM50 50h1v1h-1zM39 40h1v1h-1zM261 164h2v1h-2zM427 164h1v1h-1zM1050 164h3v1h-3zM325 214h1v1h-1zM386 214h1v1h-1zM1165 214h1v1h-1zM1185 214h7v1h-7zM330 225h1v1h-1zM382 225h1v1h-1zM1217 225h1v1h-1zM308 178h1v1h-1zM415 178h1v1h-1zM1127 178h1v1h-1zM309 179h1v1h-1zM414 179h1v1h-1zM1128 179h1v1h-1zM312 184h1v1h-1zM408 184h1v1h-1zM1133 184h1v1h-1zM177 97h2v1h-2zM578 97h1v1h-1zM598 97h2v1h-2zM222 110h1v1h-1zM552 110h2v1h-2zM614 110h1v1h-1zM834 110h1v1h-1zM898 110h2v1h-2zM910 110h4v1h-4zM945 110h1v1h-1zM245 137h1v1h-1zM480 137h2v1h-2zM502 137h1v1h-1zM718 137h2v1h-2zM810 137h1v1h-1zM981 137h4v1h-4zM244 134h1v1h-1zM484 134h4v1h-4zM513 134h2v1h-2zM710 134h3v1h-3zM813 134h1v1h-1zM977 134h2v1h-2zM82 72h2v1h-2zM112 72h1v1h-1zM155 72h1v1h-1zM1528 273h2v1h-2zM317 193h1v1h-1zM399 193h1v1h-1zM1139 193h1v1h-1zM338 251h1v1h-1zM371 251h1v1h-1zM1352 251h2v1h-2zM1374 251h1v1h-1zM1466 251h2v1h-2zM165 83h1v1h-1zM166 84h1v1h-1zM342 258h1v1h-1zM366 258h1v1h-1zM1501 258h2v1h-2zM313 186h1v1h-1zM406 186h1v1h-1zM1134 186h1v1h-1zM242 131h1v1h-1zM520 131h2v1h-2zM635 131h2v1h-2zM639 131h2v1h-2zM706 131h1v1h-1zM816 131h1v1h-1zM973 131h2v1h-2zM243 133h1v1h-1zM515 133h3v1h-3zM709 133h1v1h-1zM814 133h1v1h-1zM976 133h1v1h-1zM240 126h1v1h-1zM529 126h2v1h-2zM627 126h1v1h-1zM653 126h3v1h-3zM697 126h2v1h-2zM821 126h1v1h-1zM966 126h2v1h-2zM52 52h2v1h-2zM321 202h1v1h-1zM393 202h1v1h-1zM1147 202h2v1h-2zM310 180h1v1h-1zM413 180h1v1h-1zM1129 180h1v1h-1zM328 221h1v1h-1zM383 221h1v1h-1zM1206 221h3v1h-3zM248 143h1v1h-1zM463 143h1v1h-1zM723 143h1v1h-1zM805 143h1v1h-1zM1007 143h5v1h-5zM336 246h1v1h-1zM374 246h1v1h-1zM1342 246h1v1h-1zM1380 246h1v1h-1zM1440 246h2v1h-2zM305 173h1v1h-1zM420 173h1v1h-1zM1118 173h2v1h-2zM66 62h1v1h-1zM130 62h2v1h-2zM146 62h2v1h-2zM307 176h1v1h-1zM417 176h1v1h-1zM1124 176h2v1h-2zM67 63h1v1h-1zM129 63h1v1h-1zM148 63h1v1h-1zM168 86h1v1h-1zM174 93h1v1h-1zM585 93h9v1h-9zM315 190h1v1h-1zM402 190h1v1h-1zM1137 190h1v1h-1zM327 218h1v1h-1zM384 218h1v1h-1zM1171 218h1v1h-1zM1198 218h3v1h-3zM316 191h1v1h-1zM401 191h1v1h-1zM1138 191h1v1h-1zM246 140h1v1h-1zM477 140h1v1h-1zM721 140h1v1h-1zM808 140h1v1h-1zM1001 140h2v1h-2zM1526 272h2v1h-2zM62 59h1v1h-1zM139 59h3v1h-3zM25 28h1v1h-1zM216 107h2v1h-2zM557 107h3v1h-3zM612 107h1v1h-1zM838 107h2v1h-2zM892 107h2v1h-2zM935 107h3v1h-3zM312 183h1v1h-1zM409 183h1v1h-1zM1132 183h1v1h-1zM319 199h1v1h-1zM395 199h1v1h-1zM1143 199h1v1h-1zM84 73h1v1h-1zM110 73h2v1h-2zM156 73h1v1h-1zM46 46h1v1h-1zM57 55h1v1h-1zM176 96h1v1h-1zM579 96h2v1h-2zM597 96h1v1h-1zM68 64h2v1h-2zM127 64h2v1h-2zM149 64h1v1h-1zM58 56h1v1h-1zM170 89h1v1h-1zM317 194h1v1h-1zM399 194h1v1h-1zM1140 194h1v1h-1zM79 69h1v1h-1zM118 69h2v1h-2zM153 69h1v1h-1zM329 224h1v1h-1zM382 224h1v1h-1zM1215 224h2v1h-2zM346 265h1v1h-1zM359 265h1v1h-1zM1517 265h1v1h-1zM162 80h1v1h-1zM318 197h1v1h-1zM396 197h1v1h-1zM1142 197h1v1h-1zM85 74h1v1h-1zM108 74h2v1h-2zM157 74h1v1h-1zM1531 275h2v1h-2zM48 48h1v1h-1zM325 213h1v1h-1zM387 213h1v1h-1zM1163 213h2v1h-2zM332 233h1v1h-1zM379 233h1v1h-1zM1225 233h3v1h-3zM1256 233h4v1h-4zM1320 233h2v1h-2zM172 91h1v1h-1zM322 206h1v1h-1zM391 206h1v1h-1zM1153 206h2v1h-2zM235 121h1v1h-1zM536 121h2v1h-2zM622 121h1v1h-1zM660 121h1v1h-1zM689 121h1v1h-1zM825 121h1v1h-1zM959 121h2v1h-2zM307 177h1v1h-1zM416 177h1v1h-1zM1126 177h1v1h-1zM55 54h2v1h-2zM164 82h1v1h-1zM179 98h2v1h-2zM576 98h2v1h-2zM600 98h1v1h-1zM321 203h1v1h-1zM392 203h1v1h-1zM1149 203h1v1h-1zM226 113h1v1h-1zM548 113h2v1h-2zM616 113h1v1h-1zM832 113h1v1h-1zM949 113h1v1h-1zM51 51h1v1h-1zM233 119h1v1h-1zM539 119h2v1h-2zM620 119h1v1h-1zM663 119h1v1h-1zM686 119h2v1h-2zM827 119h1v1h-1zM956 119h2v1h-2zM1547 283h2v1h-2zM329 222h1v1h-1zM383 222h1v1h-1zM1209 222h3v1h-3zM28 30h1v1h-1zM21 26h3v1h-3zM311 182h1v1h-1zM410 182h2v1h-2zM1131 182h1v1h-1zM30 32h1v1h-1zM168 87h1v1h-1zM169 88h1v1h-1zM346 264h1v1h-1zM360 264h1v1h-1zM1515 264h2v1h-2zM313 185h1v1h-1zM407 185h1v1h-1zM1134 185h1v1h-1zM323 207h1v1h-1zM390 207h1v1h-1zM1155 207h1v1h-1zM167 85h1v1h-1zM322 204h1v1h-1zM392 204h1v1h-1zM1150 204h2v1h-2zM322 205h1v1h-1zM391 205h1v1h-1zM1152 205h1v1h-1zM338 250h1v1h-1zM371 250h1v1h-1zM1350 250h2v1h-2zM1375 250h1v1h-1zM1463 250h3v1h-3zM37 38h1v1h-1zM33 35h1v1h-1zM44 44h1v1h-1zM171 90h1v1h-1zM35 37h2v1h-2zM173 92h1v1h-1zM314 188h1v1h-1zM404 188h1v1h-1zM1136 188h1v1h-1zM1540 280h2v1h-2zM1533 276h2v1h-2zM29 31h1v1h-1zM24 27h1v1h-1zM1522 269h1v1h-1zM31 33h1v1h-1zM163 81h1v1h-1zM1539 279h1v1h-1zM26 29h2v1h-2zM49 49h1v1h-1zM38 39h1v1h-1zM1525 271h1v1h-1zM61 58h1v1h-1zM34 36h1v1h-1zM45 45h1v1h-1z"/>
<g shape-rendering="crispEdges">
<rect x="4" y="553" width="1" height="22" fill="#1a8a3a"/>
<rect x="13" y="553" width="1" height="27" fill="#1a8a3a"/>
<rect x="22" y="553" width="1" height="33" fill="#1a8a3a"/>
<rect x="31" y="553" width="1" height="47" fill="#1a8a3a"/>
<rect x="40" y="553" width="1" height="50" fill="#1a8a3a"/>
<rect x="49" y="553" width="1" height="63" fill="#1a8a3a"/>
<rect x="58" y="553" width="1" height="62" fill="#1a8a3a"/>
<rect x="67" y="553" width="1" height="66" fill="#1a8a3a"/>
<rect x="76" y="553" width="1" height="64" fill="#1a8a3a"/>
<rect x="85" y="553" width="1" height="69" fill="#1a8a3a"/>
<rect x="94" y="553" width="1" height="61" fill="#1a8a3a"/>
<rect x="103" y="553" width="1" height="39" fill="#1a8a3a"/>
<rect x="112" y="553" width="1" height="12" fill="#1a8a3a"/>
<rect x="122" y="551" width="1" height="2" fill="#e80808"/>
<rect x="131" y="544" width="1" height="9" fill="#e80808"/>
<rect x="140" y="545" width="1" height="8" fill="#e80808"/>
<rect x="149" y="553" width="1" height="4" fill="#1a8a3a"/>
<rect x="158" y="553" width="1" height="27" fill="#1a8a3a"/>
<rect x="167" y="553" width="1" height="35" fill="#1a8a3a"/>
<rect x="176" y="553" width="1" height="44" fill="#1a8a3a"/>
<rect x="185" y="553" width="1" height="33" fill="#1a8a3a"/>
<rect x="194" y="553" width="1" height="27" fill="#1a8a3a"/>
<rect x="203" y="553" width="1" height="22" fill="#1a8a3a"/>
<rect x="212" y="553" width="1" height="19" fill="#1a8a3a"/>
<rect x="221" y="553" width="1" height="33" fill="#1a8a3a"/>
<rect x="230" y="553" width="1" height="39" fill="#1a8a3a"/>
<rect x="239" y="553" width="1" height="48" fill="#1a8a3a"/>
<rect x="248" y="553" width="1" height="87" fill="#1a8a3a"/>
<rect x="257" y="553" width="1" height="93" fill="#1a8a3a"/>
<rect x="266" y="553" width="1" height="83" fill="#1a8a3a"/>
<rect x="275" y="553" width="1" height="48" fill="#1a8a3a"/>
<rect x="284" y="553" width="1" height="28" fill="#1a8a3a"/>
<rect x="293" y="553" width="1" height="27" fill="#1a8a3a"/>
<rect x="302" y="553" width="1" height="41" fill="#1a8a3a"/>
<rect x="311" y="553" width="1" height="68" fill="#1a8a3a"/>
<rect x="320" y="553" width="1" height="82" fill="#1a8a3a"/>
<rect x="329" y="553" width="1" height="105" fill="#1a8a3a"/>
<rect x="339" y="553" width="1" height="145" fill="#1a8a3a"/>
<rect x="348" y="553" width="1" height="122" fill="#1a8a3a"/>
<rect x="357" y="553" width="1" height="72" fill="#1a8a3a"/>
<rect x="366" y="553" width="1" height="9" fill="#1a8a3a"/>
<rect x="375" y="515" width="1" height="38" fill="#e80808"/>
<rect x="384" y="480" width="1" height="73" fill="#e80808"/>
<rect x="393" y="454" width="1" height="99" fill="#e80808"/>
<rect x="402" y="430" width="1" height="123" fill="#e80808"/>
<rect x="411" y="409" width="1" height="144" fill="#e80808"/>
<rect x="420" y="397" width="1" height="156" fill="#e80808"/>
<rect x="429" y="378" width="1" height="175" fill="#e80808"/>
<rect x="438" y="403" width="1" height="150" fill="#e80808"/>
<rect x="447" y="400" width="1" height="153" fill="#e80808"/>
<rect x="456" y="398" width="1" height="155" fill="#e80808"/>
<rect x="465" y="400" width="1" height="153" fill="#e80808"/>
<rect x="474" y="416" width="1" height="137" fill="#e80808"/>
<rect x="483" y="430" width="1" height="123" fill="#e80808"/>
<rect x="492" y="456" width="1" height="97" fill="#e80808"/>
<rect x="501" y="468" width="1" height="85" fill="#e80808"/>
<rect x="510" y="469" width="1" height="84" fill="#e80808"/>
<rect x="519" y="470" width="1" height="83" fill="#e80808"/>
<rect x="528" y="472" width="1" height="81" fill="#e80808"/>
<rect x="537" y="483" width="1" height="70" fill="#e80808"/>
<rect x="546" y="486" width="1" height="67" fill="#e80808"/>
<rect x="556" y="481" width="1" height="72" fill="#e80808"/>
<rect x="565" y="488" width="1" height="65" fill="#e80808"/>
<rect x="574" y="490" width="1" height="63" fill="#e80808"/>
<rect x="583" y="497" width="1" height="56" fill="#e80808"/>
<rect x="592" y="513" width="1" height="40" fill="#e80808"/>
<rect x="601" y="543" width="1" height="10" fill="#e80808"/>
<rect x="610" y="553" width="1" height="12" fill="#1a8a3a"/>
<rect x="619" y="553" width="1" height="50" fill="#1a8a3a"/>
<rect x="628" y="553" width="1" height="57" fill="#1a8a3a"/>
<rect x="637" y="553" width="1" height="53" fill="#1a8a3a"/>
<rect x="646" y="553" width="1" height="35" fill="#1a8a3a"/>
<rect x="655" y="553" width="1" height="27" fill="#1a8a3a"/>
<rect x="664" y="553" width="1" height="24" fill="#1a8a3a"/>
<rect x="673" y="553" width="1" height="35" fill="#1a8a3a"/>
<rect x="682" y="553" width="1" height="32" fill="#1a8a3a"/>
<rect x="691" y="553" width="1" height="43" fill="#1a8a3a"/>
<rect x="700" y="553" width="1" height="45" fill="#1a8a3a"/>
<rect x="709" y="553" width="1" height="51" fill="#1a8a3a"/>
<rect x="718" y="553" width="1" height="58" fill="#1a8a3a"/>
<rect x="727" y="553" width="1" height="87" fill="#1a8a3a"/>
<rect x="736" y="553" width="1" height="74" fill="#1a8a3a"/>
<rect x="745" y="553" width="1" height="61" fill="#1a8a3a"/>
<rect x="754" y="553" width="1" height="53" fill="#1a8a3a"/>
<rect x="763" y="553" width="1" height="47" fill="#1a8a3a"/>
<rect x="772" y="553" width="1" height="45" fill="#1a8a3a"/>
<rect x="782" y="553" width="1" height="29" fill="#1a8a3a"/>
<rect x="791" y="553" width="1" height="17" fill="#1a8a3a"/>
<rect x="800" y="548" width="1" height="5" fill="#e80808"/>
<rect x="809" y="518" width="1" height="35" fill="#e80808"/>
<rect x="818" y="507" width="1" height="46" fill="#e80808"/>
<rect x="827" y="489" width="1" height="64" fill="#e80808"/>
<rect x="836" y="479" width="1" height="74" fill="#e80808"/>
<rect x="845" y="487" width="1" height="66" fill="#e80808"/>
<rect x="854" y="485" width="1" height="68" fill="#e80808"/>
<rect x="863" y="494" width="1" height="59" fill="#e80808"/>
<rect x="872" y="509" width="1" height="44" fill="#e80808"/>
<rect x="881" y="518" width="1" height="35" fill="#e80808"/>
<rect x="890" y="533" width="1" height="20" fill="#e80808"/>
<rect x="899" y="545" width="1" height="8" fill="#e80808"/>
<rect x="908" y="544" width="1" height="9" fill="#e80808"/>
<rect x="917" y="541" width="1" height="12" fill="#e80808"/>
<rect x="926" y="548" width="1" height="5" fill="#e80808"/>
<rect x="935" y="552" width="1" height="1" fill="#e80808"/>
<rect x="944" y="553" width="1" height="19" fill="#1a8a3a"/>
<rect x="953" y="553" width="1" height="38" fill="#1a8a3a"/>
<rect x="962" y="553" width="1" height="42" fill="#1a8a3a"/>
<rect x="971" y="553" width="1" height="50" fill="#1a8a3a"/>
<rect x="980" y="553" width="1" height="52" fill="#1a8a3a"/>
<rect x="989" y="553" width="1" height="53" fill="#1a8a3a"/>
<rect x="999" y="553" width="1" height="49" fill="#1a8a3a"/>
<rect x="1008" y="553" width="1" height="53" fill="#1a8a3a"/>
<rect x="1017" y="553" width="1" height="48" fill="#1a8a3a"/>
<rect x="1026" y="553" width="1" height="51" fill="#1a8a3a"/>
<rect x="1035" y="553" width="1" height="65" fill="#1a8a3a"/>
<rect x="1044" y="553" width="1" height="65" fill="#1a8a3a"/>
<rect x="1053" y="553" width="1" height="56" fill="#1a8a3a"/>
<rect x="1062" y="553" width="1" height="45" fill="#1a8a3a"/>
<rect x="1071" y="553" width="1" height="39" fill="#1a8a3a"/>
<rect x="1080" y="553" width="1" height="32" fill="#1a8a3a"/>
<rect x="1089" y="553" width="1" height="25" fill="#1a8a3a"/>
<rect x="1098" y="553" width="1" height="13" fill="#1a8a3a"/>
<rect x="1107" y="553" width="1" height="13" fill="#1a8a3a"/>
<rect x="1116" y="553" width="1" height="23" fill="#1a8a3a"/>
<rect x="1125" y="553" width="1" height="26" fill="#1a8a3a"/>
<rect x="1134" y="553" width="1" height="47" fill="#1a8a3a"/>
<rect x="1143" y="553" width="1" height="62" fill="#1a8a3a"/>
<rect x="1152" y="553" width="1" height="48" fill="#1a8a3a"/>
<rect x="1161" y="553" width="1" height="51" fill="#1a8a3a"/>
<rect x="1170" y="553" width="1" height="44" fill="#1a8a3a"/>
<rect x="1179" y="553" width="1" height="30" fill="#1a8a3a"/>
<rect x="1188" y="553" width="1" height="23" fill="#1a8a3a"/>
<rect x="1197" y="553" width="1" height="20" fill="#1a8a3a"/>
<rect x="1206" y="553" width="1" height="28" fill="#1a8a3a"/>
<rect x="1215" y="553" width="1" height="23" fill="#1a8a3a"/>
<rect x="1225" y="553" width="1" height="32" fill="#1a8a3a"/>
<rect x="1234" y="553" width="1" height="20" fill="#1a8a3a"/>
<rect x="1243" y="553" width="1" height="11" fill="#1a8a3a"/>
<rect x="1252" y="543" width="1" height="10" fill="#e80808"/>
<rect x="1261" y="530" width="1" height="23" fill="#e80808"/>
<rect x="1270" y="527" width="1" height="26" fill="#e80808"/>
<rect x="1279" y="523" width="1" height="30" fill="#e80808"/>
<rect x="1288" y="525" width="1" height="28" fill="#e80808"/>
<rect x="1297" y="523" width="1" height="30" fill="#e80808"/>
<rect x="1306" y="521" width="1" height="32" fill="#e80808"/>
<rect x="1315" y="519" width="1" height="34" fill="#e80808"/>
<rect x="1324" y="534" width="1" height="19" fill="#e80808"/>
<rect x="1333" y="551" width="1" height="2" fill="#e80808"/>
<rect x="1342" y="553" width="1" height="6" fill="#1a8a3a"/>
<rect x="1351" y="553" width="1" height="1" fill="#1a8a3a"/>
<rect x="1360" y="552" width="1" height="1" fill="#e80808"/>
<rect x="1369" y="546" width="1" height="7" fill="#e80808"/>
<rect x="1378" y="519" width="1" height="34" fill="#e80808"/>
<rect x="1387" y="504" width="1" height="49" fill="#e80808"/>
<rect x="1396" y="504" width="1" height="49" fill="#e80808"/>
<rect x="1405" y="521" width="1" height="32" fill="#e80808"/>
<rect x="1414" y="523" width="1" height="30" fill="#e80808"/>
<rect x="1423" y="525" width="1" height="28" fill="#e80808"/>
<rect x="1432" y="527" width="1" height="26" fill="#e80808"/>
<rect x="1442" y="534" width="1" height="19" fill="#e80808"/>
<rect x="1451" y="542" width="1" height="11" fill="#e80808"/>
<rect x="1460" y="543" width="1" height="10" fill="#e80808"/>
<rect x="1469" y="550" width="1" height="3" fill="#e80808"/>
<rect x="1478" y="547" width="1" height="6" fill="#e80808"/>
<rect x="1487" y="550" width="1" height="3" fill="#e80808"/>
<rect x="1496" y="550" width="1" height="3" fill="#e80808"/>
<rect x="1505" y="553" width="1" height="6" fill="#1a8a3a"/>
<rect x="1514" y="553" width="1" height="15" fill="#1a8a3a"/>
<rect x="1523" y="553" width="1" height="25" fill="#1a8a3a"/>
<rect x="1532" y="553" width="1" height="28" fill="#1a8a3a"/>
<rect x="1541" y="553" width="1" height="25" fill="#1a8a3a"/>
<rect x="1550" y="553" width="1" height="28" fill="#1a8a3a"/>
</g>
<path fill="#e8901a" d="M237 660h1v1h-1zM441 660h1v1h-1zM1199 660h2v1h-2zM1282 660h3v1h-3zM234 658h1v1h-1zM442 658h1v1h-1zM1192 658h3v1h-3zM1287 658h3v1h-3zM534 516h1v1h-1zM698 516h1v1h-1zM896 516h8v1h-8zM946 516h2v1h-2zM298 710h2v1h-2zM419 710h1v1h-1zM86 610h1v1h-1zM464 610h1v1h-1zM1089 610h6v1h-6zM1438 610h4v1h-4zM1521 610h3v1h-3zM103 622h6v1h-6zM124 622h8v1h-8zM151 622h3v1h-3zM459 622h1v1h-1zM1130 622h1v1h-1zM1405 622h3v1h-3zM290 706h3v1h-3zM421 706h1v1h-1zM310 719h1v1h-1zM415 719h1v1h-1zM523 528h1v1h-1zM714 528h2v1h-2zM865 528h2v1h-2zM967 528h1v1h-1zM59 585h1v1h-1zM478 585h1v1h-1zM1044 585h1v1h-1zM253 679h1v1h-1zM432 679h1v1h-1zM223 652h2v1h-2zM445 652h1v1h-1zM1174 652h3v1h-3zM1302 652h2v1h-2zM282 703h3v1h-3zM422 703h1v1h-1zM77 602h2v1h-2zM469 602h1v1h-1zM1070 602h2v1h-2zM533 517h1v1h-1zM699 517h2v1h-2zM889 517h7v1h-7zM948 517h2v1h-2zM254 680h1v1h-1zM432 680h1v1h-1zM338 759h1v1h-1zM394 759h1v1h-1zM579 476h1v1h-1zM621 476h2v1h-2zM516 536h1v1h-1zM722 536h1v1h-1zM855 536h1v1h-1zM978 536h1v1h-1zM54 581h1v1h-1zM480 581h1v1h-1zM784 581h5v1h-5zM800 581h2v1h-2zM1040 581h1v1h-1zM531 519h1v1h-1zM702 519h2v1h-2zM882 519h4v1h-4zM952 519h2v1h-2zM536 514h1v1h-1zM694 514h2v1h-2zM911 514h5v1h-5zM940 514h4v1h-4zM241 664h1v1h-1zM439 664h1v1h-1zM1210 664h3v1h-3zM1273 664h2v1h-2zM202 644h3v1h-3zM449 644h1v1h-1zM1160 644h1v1h-1zM1322 644h10v1h-10zM1334 644h32v1h-32zM327 740h1v1h-1zM404 740h1v1h-1zM87 611h1v1h-1zM464 611h1v1h-1zM1095 611h6v1h-6zM1434 611h4v1h-4zM1524 611h3v1h-3zM261 688h1v1h-1zM428 688h1v1h-1zM248 672h1v1h-1zM435 672h1v1h-1zM1234 672h6v1h-6zM1247 672h6v1h-6zM46 574h1v1h-1zM485 574h1v1h-1zM768 574h1v1h-1zM813 574h2v1h-2zM1032 574h1v1h-1zM240 662h1v1h-1zM440 662h1v1h-1zM1204 662h2v1h-2zM1277 662h3v1h-3zM180 636h2v1h-2zM452 636h1v1h-1zM1148 636h2v1h-2zM1382 636h1v1h-1zM195 642h3v1h-3zM449 642h1v1h-1zM1157 642h2v1h-2zM1371 642h2v1h-2zM506 547h1v1h-1zM732 547h1v1h-1zM843 547h2v1h-2zM994 547h1v1h-1zM7 551h3v1h-3zM503 551h1v1h-1zM736 551h1v1h-1zM839 551h1v1h-1zM1000 551h2v1h-2zM27 560h1v1h-1zM495 560h1v1h-1zM747 560h1v1h-1zM830 560h1v1h-1zM1013 560h2v1h-2zM81 605h1v1h-1zM467 605h1v1h-1zM1076 605h2v1h-2zM1477 605h30v1h-30zM91 614h1v1h-1zM463 614h1v1h-1zM1110 614h3v1h-3zM1425 614h3v1h-3zM1532 614h3v1h-3zM84 608h1v1h-1zM465 608h1v1h-1zM1084 608h2v1h-2zM1448 608h6v1h-6zM1516 608h3v1h-3zM517 534h1v1h-1zM721 534h1v1h-1zM858 534h1v1h-1zM975 534h2v1h-2zM543 508h1v1h-1zM684 508h2v1h-2zM508 545h1v1h-1zM730 545h1v1h-1zM846 545h1v1h-1zM990 545h2v1h-2zM560 492h1v1h-1zM646 492h2v1h-2zM240 663h1v1h-1zM440 663h1v1h-1zM1206 663h4v1h-4zM1275 663h2v1h-2zM17 555h2v1h-2zM499 555h1v1h-1zM741 555h1v1h-1zM835 555h1v1h-1zM1006 555h1v1h-1zM577 477h2v1h-2zM623 477h1v1h-1zM101 621h2v1h-2zM132 621h8v1h-8zM142 621h9v1h-9zM459 621h1v1h-1zM1128 621h2v1h-2zM1408 621h2v1h-2zM537 513h1v1h-1zM693 513h1v1h-1zM916 513h16v1h-16zM936 513h4v1h-4zM242 665h1v1h-1zM439 665h1v1h-1zM1213 665h3v1h-3zM1270 665h3v1h-3zM83 607h1v1h-1zM466 607h1v1h-1zM1081 607h3v1h-3zM1454 607h9v1h-9zM1512 607h4v1h-4zM580 475h1v1h-1zM620 475h1v1h-1zM161 626h2v1h-2zM457 626h1v1h-1zM1136 626h1v1h-1zM1396 626h3v1h-3zM82 606h1v1h-1zM466 606h1v1h-1zM1078 606h3v1h-3zM1463 606h14v1h-14zM1507 606h5v1h-5zM41 570h1v1h-1zM487 570h1v1h-1zM761 570h2v1h-2zM819 570h2v1h-2zM1027 570h1v1h-1zM89 613h2v1h-2zM463 613h1v1h-1zM1107 613h3v1h-3zM1428 613h2v1h-2zM1529 613h3v1h-3zM178 635h2v1h-2zM453 635h1v1h-1zM1147 635h1v1h-1zM1383 635h2v1h-2zM215 648h2v1h-2zM447 648h1v1h-1zM1166 648h2v1h-2zM1310 648h3v1h-3zM19 556h3v1h-3zM499 556h1v1h-1zM742 556h1v1h-1zM834 556h1v1h-1zM1007 556h2v1h-2zM94 617h2v1h-2zM461 617h1v1h-1zM1119 617h3v1h-3zM1417 617h3v1h-3zM1540 617h3v1h-3zM165 628h3v1h-3zM456 628h1v1h-1zM1138 628h1v1h-1zM1393 628h2v1h-2zM550 501h1v1h-1zM669 501h2v1h-2zM528 522h1v1h-1zM706 522h2v1h-2zM876 522h2v1h-2zM957 522h2v1h-2zM22 557h1v1h-1zM498 557h1v1h-1zM743 557h1v1h-1zM833 557h1v1h-1zM1009 557h1v1h-1zM13 553h2v1h-2zM501 553h1v1h-1zM738 553h2v1h-2zM837 553h1v1h-1zM1003 553h1v1h-1zM514 538h1v1h-1zM724 538h1v1h-1zM853 538h1v1h-1zM981 538h1v1h-1zM62 588h1v1h-1zM476 588h1v1h-1zM1048 588h1v1h-1zM30 562h1v1h-1zM494 562h1v1h-1zM750 562h1v1h-1zM828 562h1v1h-1zM1016 562h2v1h-2zM352 781h1v1h-1zM376 781h1v1h-1zM232 657h2v1h-2zM442 657h1v1h-1zM1188 657h4v1h-4zM1290 657h2v1h-2zM510 543h1v1h-1zM728 543h1v1h-1zM848 543h1v1h-1zM988 543h1v1h-1zM92 615h1v1h-1zM462 615h1v1h-1zM1113 615h4v1h-4zM1422 615h3v1h-3zM1535 615h3v1h-3zM245 669h1v1h-1zM437 669h1v1h-1zM1224 669h2v1h-2zM1259 669h3v1h-3zM109 623h15v1h-15zM154 623h3v1h-3zM458 623h1v1h-1zM1131 623h2v1h-2zM1403 623h2v1h-2zM556 496h1v1h-1zM656 496h3v1h-3zM70 595h1v1h-1zM472 595h1v1h-1zM1058 595h1v1h-1zM584 472h2v1h-2zM616 472h1v1h-1zM50 578h2v1h-2zM482 578h1v1h-1zM775 578h3v1h-3zM807 578h2v1h-2zM1036 578h1v1h-1zM61 587h1v1h-1zM477 587h1v1h-1zM1046 587h2v1h-2zM519 532h1v1h-1zM719 532h1v1h-1zM860 532h1v1h-1zM972 532h2v1h-2zM38 568h2v1h-2zM489 568h1v1h-1zM758 568h2v1h-2zM822 568h1v1h-1zM1025 568h1v1h-1zM249 673h1v1h-1zM435 673h1v1h-1zM1240 673h7v1h-7zM568 485h1v1h-1zM633 485h2v1h-2zM256 682h1v1h-1zM431 682h1v1h-1zM205 645h4v1h-4zM448 645h1v1h-1zM1161 645h2v1h-2zM1318 645h4v1h-4zM42 571h1v1h-1zM487 571h1v1h-1zM763 571h1v1h-1zM818 571h1v1h-1zM1028 571h2v1h-2zM586 471h1v1h-1zM614 471h2v1h-2zM171 631h1v1h-1zM455 631h1v1h-1zM1142 631h1v1h-1zM1389 631h2v1h-2zM52 579h1v1h-1zM481 579h1v1h-1zM778 579h3v1h-3zM805 579h2v1h-2zM1037 579h1v1h-1zM198 643h4v1h-4zM449 643h1v1h-1zM1159 643h1v1h-1zM1332 643h2v1h-2zM1366 643h5v1h-5zM37 567h1v1h-1zM490 567h1v1h-1zM757 567h1v1h-1zM823 567h1v1h-1zM1023 567h2v1h-2zM48 576h1v1h-1zM483 576h1v1h-1zM771 576h2v1h-2zM810 576h2v1h-2zM1034 576h1v1h-1zM357 786h7v1h-7zM367 786h2v1h-2zM43 572h2v1h-2zM486 572h1v1h-1zM764 572h2v1h-2zM817 572h1v1h-1zM1030 572h1v1h-1zM231 656h1v1h-1zM443 656h1v1h-1zM1185 656h3v1h-3zM1292 656h3v1h-3zM505 549h1v1h-1zM734 549h1v1h-1zM841 549h1v1h-1zM997 549h2v1h-2zM245 668h1v1h-1zM437 668h1v1h-1zM1221 668h3v1h-3zM1262 668h3v1h-3zM4 550h3v1h-3zM504 550h1v1h-1zM735 550h1v1h-1zM840 550h1v1h-1zM999 550h1v1h-1zM25 559h2v1h-2zM496 559h1v1h-1zM746 559h1v1h-1zM831 559h1v1h-1zM1012 559h1v1h-1zM64 590h1v1h-1zM475 590h1v1h-1zM1050 590h2v1h-2zM527 523h1v1h-1zM708 523h1v1h-1zM874 523h2v1h-2zM959 523h2v1h-2zM320 730h1v1h-1zM409 730h1v1h-1zM285 704h2v1h-2zM421 704h1v1h-1zM287 705h3v1h-3zM421 705h1v1h-1zM213 647h2v1h-2zM447 647h1v1h-1zM1165 647h1v1h-1zM1313 647h2v1h-2zM72 597h1v1h-1zM471 597h1v1h-1zM1061 597h1v1h-1zM229 655h2v1h-2zM443 655h1v1h-1zM1182 655h3v1h-3zM1295 655h2v1h-2zM56 583h1v1h-1zM479 583h1v1h-1zM1042 583h1v1h-1zM591 468h2v1h-2zM609 468h3v1h-3zM57 584h2v1h-2zM478 584h1v1h-1zM1043 584h1v1h-1zM222 651h1v1h-1zM445 651h1v1h-1zM1172 651h2v1h-2zM1304 651h2v1h-2zM302 712h1v1h-1zM418 712h1v1h-1zM571 482h1v1h-1zM629 482h2v1h-2zM324 737h1v1h-1zM406 737h1v1h-1zM80 604h1v1h-1zM467 604h1v1h-1zM1074 604h2v1h-2zM247 671h1v1h-1zM436 671h1v1h-1zM1230 671h4v1h-4zM1253 671h3v1h-3zM31 563h2v1h-2zM493 563h1v1h-1zM751 563h1v1h-1zM827 563h1v1h-1zM1018 563h1v1h-1zM340 764h1v1h-1zM390 764h1v1h-1zM512 540h1v1h-1zM726 540h1v1h-1zM851 540h1v1h-1zM983 540h2v1h-2zM33 564h1v1h-1zM492 564h1v1h-1zM752 564h2v1h-2zM826 564h1v1h-1zM1019 564h1v1h-1zM40 569h1v1h-1zM488 569h1v1h-1zM760 569h1v1h-1zM821 569h1v1h-1zM1026 569h1v1h-1zM507 546h1v1h-1zM731 546h1v1h-1zM845 546h1v1h-1zM992 546h2v1h-2zM345 771h1v1h-1zM385 771h1v1h-1zM184 638h3v1h-3zM451 638h1v1h-1zM1152 638h1v1h-1zM1379 638h1v1h-1zM100 620h1v1h-1zM140 620h2v1h-2zM460 620h1v1h-1zM1127 620h1v1h-1zM1410 620h2v1h-2zM1548 620h3v1h-3zM238 661h2v1h-2zM441 661h1v1h-1zM1201 661h3v1h-3zM1280 661h2v1h-2zM314 724h1v1h-1zM412 724h1v1h-1zM36 566h1v1h-1zM490 566h1v1h-1zM755 566h2v1h-2zM824 566h1v1h-1zM1022 566h1v1h-1zM258 685h1v1h-1zM429 685h1v1h-1zM23 558h2v1h-2zM497 558h1v1h-1zM744 558h2v1h-2zM832 558h1v1h-1zM1010 558h2v1h-2zM561 491h1v1h-1zM644 491h2v1h-2zM260 687h1v1h-1zM428 687h1v1h-1zM304 714h1v1h-1zM417 714h1v1h-1zM15 554h2v1h-2zM500 554h1v1h-1zM740 554h1v1h-1zM836 554h1v1h-1zM1004 554h2v1h-2zM532 518h1v1h-1zM701 518h1v1h-1zM886 518h3v1h-3zM950 518h2v1h-2zM157 624h2v1h-2zM458 624h1v1h-1zM1133 624h1v1h-1zM1401 624h2v1h-2zM576 478h1v1h-1zM624 478h1v1h-1zM364 787h3v1h-3zM192 641h3v1h-3zM450 641h1v1h-1zM1156 641h1v1h-1zM1373 641h2v1h-2zM176 634h2v1h-2zM453 634h1v1h-1zM1145 634h2v1h-2zM1385 634h1v1h-1zM510 542h1v1h-1zM727 542h1v1h-1zM849 542h1v1h-1zM986 542h2v1h-2zM331 747h1v1h-1zM401 747h1v1h-1zM535 515h1v1h-1zM696 515h2v1h-2zM904 515h7v1h-7zM944 515h2v1h-2zM593 467h7v1h-7zM603 467h6v1h-6zM267 695h2v1h-2zM425 695h1v1h-1zM10 552h3v1h-3zM502 552h1v1h-1zM737 552h1v1h-1zM838 552h1v1h-1zM1002 552h1v1h-1zM557 495h1v1h-1zM654 495h2v1h-2zM520 531h1v1h-1zM718 531h1v1h-1zM861 531h2v1h-2zM971 531h1v1h-1zM96 618h2v1h-2zM461 618h1v1h-1zM1122 618h3v1h-3zM1415 618h2v1h-2zM1543 618h3v1h-3zM335 755h1v1h-1zM396 755h1v1h-1zM53 580h1v1h-1zM481 580h1v1h-1zM781 580h3v1h-3zM802 580h3v1h-3zM1038 580h2v1h-2zM47 575h1v1h-1zM484 575h1v1h-1zM769 575h2v1h-2zM812 575h1v1h-1zM1033 575h1v1h-1zM306 716h2v1h-2zM416 716h1v1h-1zM34 565h2v1h-2zM491 565h1v1h-1zM754 565h1v1h-1zM825 565h1v1h-1zM1020 565h2v1h-2zM246 670h1v1h-1zM436 670h1v1h-1zM1226 670h4v1h-4zM1256 670h3v1h-3zM339 761h1v1h-1zM393 761h1v1h-1zM244 667h1v1h-1zM438 667h1v1h-1zM1218 667h3v1h-3zM1265 667h3v1h-3zM524 526h1v1h-1zM712 526h1v1h-1zM869 526h1v1h-1zM964 526h1v1h-1zM526 524h1v1h-1zM709 524h2v1h-2zM872 524h2v1h-2zM961 524h1v1h-1zM538 512h1v1h-1zM691 512h2v1h-2zM932 512h4v1h-4zM524 527h1v1h-1zM713 527h1v1h-1zM867 527h2v1h-2zM965 527h2v1h-2zM270 697h2v1h-2zM424 697h1v1h-1zM317 727h1v1h-1zM411 727h1v1h-1zM312 721h1v1h-1zM414 721h1v1h-1zM293 707h2v1h-2zM420 707h1v1h-1zM313 722h1v1h-1zM413 722h1v1h-1zM353 782h1v1h-1zM375 782h1v1h-1zM85 609h1v1h-1zM465 609h1v1h-1zM1086 609h3v1h-3zM1442 609h6v1h-6zM1519 609h2v1h-2zM227 654h2v1h-2zM444 654h1v1h-1zM1179 654h3v1h-3zM1297 654h2v1h-2zM327 741h1v1h-1zM404 741h1v1h-1zM582 473h2v1h-2zM617 473h2v1h-2zM355 784h1v1h-1zM371 784h2v1h-2zM190 640h2v1h-2zM450 640h1v1h-1zM1154 640h2v1h-2zM1375 640h2v1h-2zM555 497h1v1h-1zM659 497h3v1h-3zM529 521h1v1h-1zM705 521h1v1h-1zM878 521h2v1h-2zM955 521h2v1h-2zM343 769h1v1h-1zM387 769h1v1h-1zM348 777h1v1h-1zM380 777h1v1h-1zM63 589h1v1h-1zM475 589h1v1h-1zM1049 589h1v1h-1zM349 778h1v1h-1zM379 778h1v1h-1zM98 619h2v1h-2zM460 619h1v1h-1zM1125 619h2v1h-2zM1412 619h3v1h-3zM1546 619h2v1h-2zM297 709h1v1h-1zM419 709h1v1h-1zM319 729h1v1h-1zM410 729h1v1h-1zM55 582h1v1h-1zM480 582h1v1h-1zM789 582h11v1h-11zM1041 582h1v1h-1zM562 490h1v1h-1zM641 490h3v1h-3zM559 493h1v1h-1zM648 493h3v1h-3zM168 629h1v1h-1zM455 629h1v1h-1zM1139 629h1v1h-1zM1392 629h1v1h-1zM324 736h1v1h-1zM406 736h1v1h-1zM337 758h1v1h-1zM394 758h1v1h-1zM340 763h1v1h-1zM391 763h1v1h-1zM182 637h2v1h-2zM452 637h1v1h-1zM1150 637h2v1h-2zM1380 637h2v1h-2zM522 529h1v1h-1zM716 529h1v1h-1zM864 529h1v1h-1zM968 529h2v1h-2zM329 744h1v1h-1zM402 744h1v1h-1zM93 616h1v1h-1zM462 616h1v1h-1zM1117 616h2v1h-2zM1420 616h2v1h-2zM1538 616h2v1h-2zM49 577h1v1h-1zM482 577h1v1h-1zM773 577h2v1h-2zM809 577h1v1h-1zM1035 577h1v1h-1zM326 739h1v1h-1zM405 739h1v1h-1zM256 683h1v1h-1zM430 683h1v1h-1zM330 745h1v1h-1zM402 745h1v1h-1zM262 690h1v1h-1zM427 690h1v1h-1zM303 713h1v1h-1zM417 713h1v1h-1zM333 750h1v1h-1zM399 750h1v1h-1zM330 746h1v1h-1zM401 746h1v1h-1zM347 775h1v1h-1zM382 775h1v1h-1zM28 561h2v1h-2zM494 561h1v1h-1zM748 561h2v1h-2zM829 561h1v1h-1zM1015 561h1v1h-1zM266 694h1v1h-1zM425 694h1v1h-1zM509 544h1v1h-1zM729 544h1v1h-1zM847 544h1v1h-1zM989 544h1v1h-1zM539 511h1v1h-1zM689 511h2v1h-2zM525 525h1v1h-1zM711 525h1v1h-1zM870 525h2v1h-2zM962 525h2v1h-2zM548 503h1v1h-1zM673 503h3v1h-3zM45 573h1v1h-1zM485 573h1v1h-1zM766 573h2v1h-2zM815 573h2v1h-2zM1031 573h1v1h-1zM541 509h2v1h-2zM686 509h2v1h-2zM243 666h1v1h-1zM438 666h1v1h-1zM1216 666h2v1h-2zM1268 666h2v1h-2zM71 596h1v1h-1zM472 596h1v1h-1zM1059 596h2v1h-2zM587 470h2v1h-2zM613 470h1v1h-1zM60 586h1v1h-1zM477 586h1v1h-1zM1045 586h1v1h-1zM269 696h1v1h-1zM425 696h1v1h-1zM305 715h1v1h-1zM416 715h1v1h-1zM262 689h1v1h-1zM428 689h1v1h-1zM163 627h2v1h-2zM456 627h1v1h-1zM1137 627h1v1h-1zM1395 627h1v1h-1zM575 479h1v1h-1zM625 479h2v1h-2zM331 748h1v1h-1zM400 748h1v1h-1zM505 548h1v1h-1zM733 548h1v1h-1zM842 548h1v1h-1zM995 548h2v1h-2zM547 504h1v1h-1zM676 504h2v1h-2zM313 723h1v1h-1zM413 723h1v1h-1zM88 612h1v1h-1zM463 612h1v1h-1zM1101 612h6v1h-6zM1430 612h4v1h-4zM1527 612h2v1h-2zM235 659h2v1h-2zM442 659h1v1h-1zM1195 659h4v1h-4zM1285 659h2v1h-2zM66 592h1v1h-1zM474 592h1v1h-1zM1053 592h1v1h-1zM219 650h3v1h-3zM446 650h1v1h-1zM1170 650h2v1h-2zM1306 650h2v1h-2zM339 762h1v1h-1zM392 762h1v1h-1zM521 530h1v1h-1zM717 530h1v1h-1zM863 530h1v1h-1zM970 530h1v1h-1zM187 639h3v1h-3zM451 639h1v1h-1zM1153 639h1v1h-1zM1377 639h2v1h-2zM174 633h2v1h-2zM454 633h1v1h-1zM1144 633h1v1h-1zM1386 633h2v1h-2zM309 718h1v1h-1zM415 718h1v1h-1zM336 757h1v1h-1zM395 757h1v1h-1zM73 598h1v1h-1zM471 598h1v1h-1zM1062 598h2v1h-2zM257 684h1v1h-1zM430 684h1v1h-1zM553 498h2v1h-2zM662 498h3v1h-3zM517 535h1v1h-1zM721 535h1v1h-1zM856 535h2v1h-2zM977 535h1v1h-1zM344 770h1v1h-1zM386 770h1v1h-1zM600 466h3v1h-3zM589 469h2v1h-2zM612 469h1v1h-1zM350 779h1v1h-1zM378 779h1v1h-1zM279 702h3v1h-3zM422 702h1v1h-1zM68 594h2v1h-2zM473 594h1v1h-1zM1056 594h2v1h-2zM273 699h2v1h-2zM423 699h1v1h-1zM515 537h1v1h-1zM723 537h1v1h-1zM854 537h1v1h-1zM979 537h2v1h-2zM351 780h1v1h-1zM377 780h1v1h-1zM345 772h1v1h-1zM385 772h1v1h-1zM518 533h1v1h-1zM720 533h1v1h-1zM859 533h1v1h-1zM974 533h1v1h-1zM545 506h1v1h-1zM680 506h3v1h-3zM311 720h1v1h-1zM414 720h1v1h-1zM225 653h2v1h-2zM444 653h1v1h-1zM1177 653h2v1h-2zM1299 653h3v1h-3zM217 649h2v1h-2zM446 649h1v1h-1zM1168 649h2v1h-2zM1308 649h2v1h-2zM513 539h1v1h-1zM725 539h1v1h-1zM852 539h1v1h-1zM982 539h1v1h-1zM530 520h1v1h-1zM704 520h1v1h-1zM880 520h2v1h-2zM954 520h1v1h-1zM540 510h1v1h-1zM688 510h1v1h-1zM563 489h2v1h-2zM639 489h2v1h-2zM354 783h1v1h-1zM373 783h2v1h-2zM356 785h1v1h-1zM369 785h2v1h-2zM308 717h1v1h-1zM416 717h1v1h-1zM511 541h1v1h-1zM726 541h1v1h-1zM850 541h1v1h-1zM985 541h1v1h-1zM272 698h1v1h-1zM424 698h1v1h-1zM209 646h4v1h-4zM448 646h1v1h-1zM1163 646h2v1h-2zM1315 646h3v1h-3zM250 675h1v1h-1zM434 675h1v1h-1zM567 486h1v1h-1zM635 486h1v1h-1zM79 603h1v1h-1zM468 603h1v1h-1zM1072 603h2v1h-2zM159 625h2v1h-2zM457 625h1v1h-1zM1134 625h2v1h-2zM1399 625h2v1h-2zM551 500h1v1h-1zM667 500h2v1h-2zM546 505h1v1h-1zM678 505h2v1h-2zM346 773h1v1h-1zM384 773h1v1h-1zM549 502h1v1h-1zM671 502h2v1h-2zM275 700h2v1h-2zM423 700h1v1h-1zM169 630h2v1h-2zM455 630h1v1h-1zM1140 630h2v1h-2zM1391 630h1v1h-1zM255 681h1v1h-1zM431 681h1v1h-1zM570 483h1v1h-1zM631 483h1v1h-1zM341 765h1v1h-1zM390 765h1v1h-1zM342 766h1v1h-1zM389 766h1v1h-1zM569 484h1v1h-1zM632 484h1v1h-1zM566 487h1v1h-1zM636 487h1v1h-1zM315 725h1v1h-1zM412 725h1v1h-1zM75 600h1v1h-1zM470 600h1v1h-1zM1066 600h2v1h-2zM316 726h1v1h-1zM411 726h1v1h-1zM259 686h1v1h-1zM429 686h1v1h-1zM333 751h1v1h-1zM398 751h1v1h-1zM565 488h1v1h-1zM637 488h2v1h-2zM172 632h2v1h-2zM454 632h1v1h-1zM1143 632h1v1h-1zM1388 632h1v1h-1zM65 591h1v1h-1zM474 591h1v1h-1zM1052 591h1v1h-1zM277 701h2v1h-2zM423 701h1v1h-1zM343 768h1v1h-1zM387 768h1v1h-1zM332 749h1v1h-1zM400 749h1v1h-1zM336 756h1v1h-1zM396 756h1v1h-1zM328 742h1v1h-1zM403 742h1v1h-1zM74 599h1v1h-1zM470 599h1v1h-1zM1064 599h2v1h-2zM572 481h2v1h-2zM628 481h1v1h-1zM552 499h1v1h-1zM665 499h2v1h-2zM322 733h1v1h-1zM408 733h1v1h-1zM346 774h1v1h-1zM383 774h1v1h-1zM320 731h1v1h-1zM409 731h1v1h-1zM263 691h1v1h-1zM427 691h1v1h-1zM323 735h1v1h-1zM407 735h1v1h-1zM581 474h1v1h-1zM619 474h1v1h-1zM574 480h1v1h-1zM627 480h1v1h-1zM265 693h1v1h-1zM426 693h1v1h-1zM249 674h1v1h-1zM434 674h1v1h-1zM318 728h1v1h-1zM410 728h1v1h-1zM322 734h1v1h-1zM407 734h1v1h-1zM67 593h1v1h-1zM473 593h1v1h-1zM1054 593h2v1h-2zM544 507h1v1h-1zM683 507h1v1h-1zM321 732h1v1h-1zM408 732h1v1h-1zM251 676h1v1h-1zM433 676h1v1h-1zM342 767h1v1h-1zM388 767h1v1h-1zM558 494h1v1h-1zM651 494h3v1h-3zM76 601h1v1h-1zM469 601h1v1h-1zM1068 601h2v1h-2zM334 753h1v1h-1zM397 753h1v1h-1zM264 692h1v1h-1zM426 692h1v1h-1zM338 760h1v1h-1zM393 760h1v1h-1zM295 708h2v1h-2zM420 708h1v1h-1zM253 678h1v1h-1zM433 678h1v1h-1zM334 752h1v1h-1zM398 752h1v1h-1zM329 743h1v1h-1zM403 743h1v1h-1zM300 711h2v1h-2zM418 711h1v1h-1zM252 677h1v1h-1zM433 677h1v1h-1zM325 738h1v1h-1zM405 738h1v1h-1zM335 754h1v1h-1zM397 754h1v1h-1zM348 776h1v1h-1zM381 776h1v1h-1z"/>
<path fill="#222222" d="M316 763h1v1h-1zM375 763h1v1h-1zM563 456h2v1h-2zM598 456h1v1h-1zM44 600h1v1h-1zM428 600h1v1h-1zM1030 600h1v1h-1zM1424 600h5v1h-5zM1440 600h5v1h-5zM84 642h1v1h-1zM101 642h2v1h-2zM163 642h1v1h-1zM415 642h1v1h-1zM1131 642h1v1h-1zM1291 642h2v1h-2zM1333 642h1v1h-1zM1362 642h3v1h-3zM225 670h1v1h-1zM406 670h1v1h-1zM1161 670h3v1h-3zM1174 670h3v1h-3zM1198 670h1v1h-1zM1249 670h1v1h-1zM174 653h1v1h-1zM412 653h1v1h-1zM1137 653h1v1h-1zM1268 653h2v1h-2zM62 620h1v1h-1zM124 620h2v1h-2zM145 620h2v1h-2zM423 620h1v1h-1zM1052 620h14v1h-14zM1092 620h2v1h-2zM1108 620h1v1h-1zM1379 620h1v1h-1zM1520 620h1v1h-1zM66 624h1v1h-1zM118 624h2v1h-2zM150 624h1v1h-1zM421 624h1v1h-1zM1113 624h1v1h-1zM1377 624h1v1h-1zM1525 624h2v1h-2zM508 502h1v1h-1zM622 502h1v1h-1zM856 502h3v1h-3zM870 502h13v1h-13zM175 655h1v1h-1zM177 655h6v1h-6zM191 655h20v1h-20zM411 655h1v1h-1zM1138 655h1v1h-1zM1264 655h2v1h-2zM478 519h1v1h-1zM672 519h1v1h-1zM834 519h1v1h-1zM940 519h1v1h-1zM70 628h2v1h-2zM113 628h1v1h-1zM152 628h1v1h-1zM420 628h1v1h-1zM1118 628h2v1h-2zM1375 628h1v1h-1zM1532 628h5v1h-5zM223 669h2v1h-2zM407 669h1v1h-1zM1160 669h1v1h-1zM1177 669h5v1h-5zM1193 669h5v1h-5zM1250 669h1v1h-1zM8 563h1v1h-1zM450 563h1v1h-1zM719 563h1v1h-1zM807 563h1v1h-1zM980 563h1v1h-1zM323 779h1v1h-1zM370 779h1v1h-1zM74 631h2v1h-2zM110 631h1v1h-1zM154 631h1v1h-1zM419 631h1v1h-1zM1123 631h2v1h-2zM1311 631h2v1h-2zM1318 631h2v1h-2zM1373 631h1v1h-1zM1544 631h1v1h-1zM501 510h1v1h-1zM629 510h2v1h-2zM644 510h2v1h-2zM661 510h4v1h-4zM847 510h1v1h-1zM895 510h2v1h-2zM906 510h4v1h-4zM925 510h4v1h-4zM510 500h1v1h-1zM620 500h1v1h-1zM862 500h4v1h-4zM531 480h3v1h-3zM612 480h1v1h-1zM35 589h1v1h-1zM439 589h1v1h-1zM743 589h5v1h-5zM792 589h1v1h-1zM1020 589h1v1h-1zM80 637h1v1h-1zM106 637h1v1h-1zM158 637h1v1h-1zM417 637h1v1h-1zM1128 637h1v1h-1zM1301 637h2v1h-2zM1327 637h1v1h-1zM1370 637h1v1h-1zM52 611h2v1h-2zM425 611h1v1h-1zM1037 611h1v1h-1zM1385 611h1v1h-1zM1509 611h1v1h-1zM250 719h1v1h-1zM281 719h2v1h-2zM289 719h3v1h-3zM390 719h1v1h-1zM234 679h1v1h-1zM403 679h1v1h-1zM1218 679h1v1h-1zM1241 679h3v1h-3zM54 612h1v1h-1zM425 612h1v1h-1zM1038 612h1v1h-1zM1384 612h1v1h-1zM1510 612h2v1h-2zM91 646h2v1h-2zM96 646h1v1h-1zM167 646h1v1h-1zM414 646h1v1h-1zM1133 646h1v1h-1zM1279 646h3v1h-3zM1339 646h2v1h-2zM1345 646h3v1h-3zM63 621h1v1h-1zM122 621h2v1h-2zM147 621h1v1h-1zM422 621h1v1h-1zM1066 621h4v1h-4zM1091 621h1v1h-1zM1109 621h2v1h-2zM1378 621h1v1h-1zM1521 621h1v1h-1zM305 739h1v1h-1zM383 739h1v1h-1zM262 733h2v1h-2zM268 733h1v1h-1zM302 733h1v1h-1zM385 733h1v1h-1zM337 825h1v1h-1zM355 825h1v1h-1zM77 634h1v1h-1zM108 634h1v1h-1zM156 634h1v1h-1zM418 634h1v1h-1zM1126 634h1v1h-1zM1306 634h2v1h-2zM1323 634h2v1h-2zM1372 634h1v1h-1zM1549 634h2v1h-2zM60 618h1v1h-1zM128 618h3v1h-3zM142 618h2v1h-2zM423 618h1v1h-1zM1044 618h4v1h-4zM1096 618h2v1h-2zM1099 618h7v1h-7zM1380 618h1v1h-1zM1518 618h1v1h-1zM472 525h1v1h-1zM684 525h1v1h-1zM831 525h1v1h-1zM945 525h1v1h-1zM19 571h1v1h-1zM447 571h1v1h-1zM722 571h1v1h-1zM804 571h1v1h-1zM990 571h3v1h-3zM571 450h2v1h-2zM594 450h1v1h-1zM309 750h1v1h-1zM379 750h1v1h-1zM226 671h1v1h-1zM406 671h1v1h-1zM1164 671h5v1h-5zM1171 671h3v1h-3zM1199 671h2v1h-2zM1249 671h1v1h-1zM339 832h1v1h-1zM351 832h1v1h-1zM242 696h1v1h-1zM398 696h1v1h-1zM67 625h1v1h-1zM117 625h1v1h-1zM150 625h1v1h-1zM421 625h1v1h-1zM1114 625h1v1h-1zM1376 625h1v1h-1zM1527 625h1v1h-1zM465 532h1v1h-1zM690 532h1v1h-1zM827 532h1v1h-1zM949 532h1v1h-1zM59 617h1v1h-1zM131 617h6v1h-6zM141 617h1v1h-1zM423 617h1v1h-1zM1043 617h1v1h-1zM1098 617h1v1h-1zM1381 617h1v1h-1zM1517 617h1v1h-1zM57 615h2v1h-2zM424 615h1v1h-1zM1041 615h1v1h-1zM1382 615h1v1h-1zM1515 615h1v1h-1zM46 603h1v1h-1zM427 603h1v1h-1zM1031 603h1v1h-1zM1394 603h1v1h-1zM1398 603h2v1h-2zM1415 603h3v1h-3zM1464 603h3v1h-3zM1473 603h5v1h-5zM1480 603h18v1h-18zM221 667h1v1h-1zM407 667h1v1h-1zM1158 667h1v1h-1zM1252 667h1v1h-1zM474 523h1v1h-1zM683 523h1v1h-1zM832 523h1v1h-1zM943 523h1v1h-1zM245 706h1v1h-1zM395 706h1v1h-1zM336 824h1v1h-1zM356 824h1v1h-1zM460 543h1v1h-1zM703 543h1v1h-1zM821 543h1v1h-1zM959 543h1v1h-1zM46 604h1v1h-1zM427 604h1v1h-1zM1032 604h1v1h-1zM1392 604h2v1h-2zM1400 604h2v1h-2zM1411 604h4v1h-4zM1467 604h6v1h-6zM1498 604h1v1h-1zM462 539h1v1h-1zM699 539h1v1h-1zM823 539h1v1h-1zM954 539h1v1h-1zM459 544h1v1h-1zM704 544h1v1h-1zM820 544h1v1h-1zM960 544h1v1h-1zM339 834h2v1h-2zM350 834h1v1h-1zM44 601h1v1h-1zM428 601h1v1h-1zM1030 601h1v1h-1zM1421 601h3v1h-3zM1445 601h4v1h-4zM1460 601h1v1h-1zM326 788h1v1h-1zM367 788h1v1h-1zM326 789h1v1h-1zM367 789h1v1h-1zM213 657h1v1h-1zM410 657h1v1h-1zM1139 657h1v1h-1zM1261 657h1v1h-1zM252 722h1v1h-1zM277 722h2v1h-2zM294 722h1v1h-1zM389 722h1v1h-1zM22 573h1v1h-1zM446 573h1v1h-1zM723 573h1v1h-1zM803 573h1v1h-1zM996 573h2v1h-2zM503 508h1v1h-1zM627 508h1v1h-1zM653 508h3v1h-3zM849 508h1v1h-1zM892 508h2v1h-2zM913 508h3v1h-3zM919 508h3v1h-3zM49 608h1v1h-1zM426 608h1v1h-1zM1034 608h1v1h-1zM1387 608h1v1h-1zM1504 608h2v1h-2zM33 588h2v1h-2zM439 588h1v1h-1zM737 588h6v1h-6zM793 588h1v1h-1zM1019 588h1v1h-1zM9 564h2v1h-2zM450 564h1v1h-1zM719 564h1v1h-1zM807 564h1v1h-1zM981 564h1v1h-1zM570 451h1v1h-1zM594 451h1v1h-1zM332 808h1v1h-1zM361 808h1v1h-1zM42 597h1v1h-1zM430 597h1v1h-1zM768 597h2v1h-2zM776 597h2v1h-2zM1028 597h1v1h-1zM505 506h1v1h-1zM625 506h1v1h-1zM851 506h1v1h-1zM888 506h2v1h-2zM507 503h1v1h-1zM623 503h1v1h-1zM854 503h2v1h-2zM883 503h2v1h-2zM497 512h2v1h-2zM633 512h2v1h-2zM640 512h2v1h-2zM666 512h1v1h-1zM846 512h1v1h-1zM899 512h2v1h-2zM935 512h1v1h-1zM236 682h1v1h-1zM402 682h1v1h-1zM1221 682h2v1h-2zM1232 682h2v1h-2zM81 638h1v1h-1zM105 638h1v1h-1zM159 638h1v1h-1zM417 638h1v1h-1zM1129 638h1v1h-1zM1299 638h2v1h-2zM1328 638h1v1h-1zM1370 638h1v1h-1zM227 672h1v1h-1zM406 672h1v1h-1zM1169 672h2v1h-2zM1201 672h1v1h-1zM1248 672h1v1h-1zM27 580h1v1h-1zM443 580h1v1h-1zM725 580h1v1h-1zM799 580h1v1h-1zM1005 580h1v1h-1zM86 644h2v1h-2zM98 644h2v1h-2zM165 644h1v1h-1zM415 644h1v1h-1zM1132 644h1v1h-1zM1286 644h3v1h-3zM1336 644h2v1h-2zM1352 644h7v1h-7zM241 691h1v1h-1zM400 691h1v1h-1zM538 477h2v1h-2zM611 477h1v1h-1zM32 587h1v1h-1zM440 587h1v1h-1zM733 587h4v1h-4zM794 587h1v1h-1zM1018 587h1v1h-1zM477 520h1v1h-1zM673 520h3v1h-3zM834 520h1v1h-1zM941 520h1v1h-1zM41 595h1v1h-1zM432 595h2v1h-2zM764 595h2v1h-2zM780 595h3v1h-3zM1026 595h1v1h-1zM233 678h1v1h-1zM404 678h1v1h-1zM1216 678h2v1h-2zM1243 678h1v1h-1zM461 540h1v1h-1zM700 540h1v1h-1zM822 540h1v1h-1zM955 540h1v1h-1zM176 656h1v1h-1zM211 656h2v1h-2zM411 656h1v1h-1zM1139 656h1v1h-1zM1262 656h2v1h-2zM88 645h3v1h-3zM97 645h1v1h-1zM166 645h1v1h-1zM414 645h1v1h-1zM1132 645h1v1h-1zM1282 645h4v1h-4zM1338 645h1v1h-1zM1348 645h4v1h-4zM30 584h1v1h-1zM441 584h1v1h-1zM727 584h1v1h-1zM796 584h1v1h-1zM1011 584h2v1h-2zM502 509h1v1h-1zM628 509h1v1h-1zM646 509h7v1h-7zM656 509h5v1h-5zM848 509h1v1h-1zM894 509h1v1h-1zM910 509h3v1h-3zM922 509h3v1h-3zM453 558h1v1h-1zM716 558h1v1h-1zM810 558h1v1h-1zM973 558h2v1h-2zM461 541h1v1h-1zM701 541h1v1h-1zM822 541h1v1h-1zM956 541h2v1h-2zM511 499h1v1h-1zM619 499h1v1h-1zM77 633h1v1h-1zM109 633h1v1h-1zM155 633h1v1h-1zM419 633h1v1h-1zM1126 633h1v1h-1zM1308 633h2v1h-2zM1321 633h2v1h-2zM1372 633h1v1h-1zM1547 633h2v1h-2zM69 627h1v1h-1zM114 627h1v1h-1zM152 627h1v1h-1zM421 627h1v1h-1zM1116 627h2v1h-2zM1375 627h1v1h-1zM1530 627h2v1h-2zM83 641h1v1h-1zM103 641h1v1h-1zM162 641h1v1h-1zM416 641h1v1h-1zM1130 641h1v1h-1zM1293 641h2v1h-2zM1331 641h2v1h-2zM1365 641h2v1h-2zM265 735h2v1h-2zM303 735h1v1h-1zM384 735h1v1h-1zM222 668h1v1h-1zM407 668h1v1h-1zM1159 668h1v1h-1zM1182 668h11v1h-11zM1251 668h1v1h-1zM59 616h1v1h-1zM137 616h4v1h-4zM424 616h1v1h-1zM1042 616h1v1h-1zM1382 616h1v1h-1zM1516 616h1v1h-1zM304 736h1v1h-1zM384 736h1v1h-1zM457 548h1v1h-1zM708 548h1v1h-1zM818 548h1v1h-1zM964 548h1v1h-1zM4 560h1v1h-1zM452 560h1v1h-1zM718 560h1v1h-1zM809 560h1v1h-1zM976 560h1v1h-1zM310 751h1v1h-1zM379 751h1v1h-1zM515 495h1v1h-1zM618 495h1v1h-1zM523 486h1v1h-1zM614 486h1v1h-1zM41 596h1v1h-1zM431 596h1v1h-1zM766 596h2v1h-2zM778 596h2v1h-2zM1027 596h1v1h-1zM43 599h1v1h-1zM429 599h1v1h-1zM772 599h1v1h-1zM1029 599h1v1h-1zM1429 599h11v1h-11zM48 607h1v1h-1zM426 607h1v1h-1zM1034 607h1v1h-1zM1388 607h1v1h-1zM1503 607h1v1h-1zM43 598h1v1h-1zM429 598h1v1h-1zM770 598h2v1h-2zM773 598h3v1h-3zM1028 598h1v1h-1zM249 717h1v1h-1zM284 717h2v1h-2zM391 717h1v1h-1zM82 639h1v1h-1zM104 639h1v1h-1zM160 639h1v1h-1zM416 639h1v1h-1zM1129 639h1v1h-1zM1297 639h2v1h-2zM1329 639h1v1h-1zM1369 639h1v1h-1zM471 526h1v1h-1zM685 526h1v1h-1zM830 526h1v1h-1zM945 526h1v1h-1zM61 619h1v1h-1zM126 619h2v1h-2zM144 619h1v1h-1zM423 619h1v1h-1zM1048 619h4v1h-4zM1094 619h2v1h-2zM1106 619h2v1h-2zM1380 619h1v1h-1zM1519 619h1v1h-1zM50 609h1v1h-1zM426 609h1v1h-1zM1035 609h1v1h-1zM1386 609h1v1h-1zM1506 609h1v1h-1zM93 647h3v1h-3zM168 647h1v1h-1zM414 647h1v1h-1zM1133 647h1v1h-1zM1278 647h1v1h-1zM1341 647h4v1h-4zM73 630h1v1h-1zM111 630h1v1h-1zM154 630h1v1h-1zM420 630h1v1h-1zM1122 630h1v1h-1zM1313 630h2v1h-2zM1316 630h2v1h-2zM1374 630h1v1h-1zM1542 630h2v1h-2zM559 458h2v1h-2zM599 458h1v1h-1zM85 643h1v1h-1zM100 643h1v1h-1zM164 643h1v1h-1zM415 643h1v1h-1zM1131 643h1v1h-1zM1289 643h2v1h-2zM1334 643h2v1h-2zM1359 643h3v1h-3zM469 528h1v1h-1zM687 528h1v1h-1zM829 528h1v1h-1zM947 528h1v1h-1zM253 724h1v1h-1zM275 724h1v1h-1zM296 724h1v1h-1zM388 724h1v1h-1zM311 755h1v1h-1zM378 755h1v1h-1zM557 459h2v1h-2zM600 459h1v1h-1zM250 718h1v1h-1zM283 718h1v1h-1zM286 718h3v1h-3zM390 718h1v1h-1zM464 535h1v1h-1zM694 535h1v1h-1zM825 535h1v1h-1zM951 535h1v1h-1zM254 725h1v1h-1zM274 725h1v1h-1zM297 725h1v1h-1zM388 725h1v1h-1zM552 464h1v1h-1zM603 464h1v1h-1zM31 586h1v1h-1zM440 586h1v1h-1zM729 586h4v1h-4zM794 586h1v1h-1zM1015 586h3v1h-3zM335 818h1v1h-1zM358 818h1v1h-1zM576 447h2v1h-2zM590 447h2v1h-2zM460 542h1v1h-1zM702 542h1v1h-1zM821 542h1v1h-1zM958 542h1v1h-1zM39 593h1v1h-1zM435 593h2v1h-2zM758 593h3v1h-3zM785 593h2v1h-2zM1024 593h2v1h-2zM456 550h1v1h-1zM710 550h1v1h-1zM817 550h1v1h-1zM966 550h1v1h-1zM235 681h1v1h-1zM403 681h1v1h-1zM1220 681h1v1h-1zM1234 681h3v1h-3zM307 743h1v1h-1zM382 743h1v1h-1zM453 556h1v1h-1zM715 556h1v1h-1zM812 556h1v1h-1zM971 556h1v1h-1zM506 505h1v1h-1zM624 505h1v1h-1zM852 505h1v1h-1zM886 505h2v1h-2zM256 728h1v1h-1zM272 728h1v1h-1zM299 728h1v1h-1zM387 728h1v1h-1zM55 613h1v1h-1zM425 613h1v1h-1zM1039 613h1v1h-1zM1384 613h1v1h-1zM1512 613h1v1h-1zM45 602h1v1h-1zM428 602h1v1h-1zM1031 602h1v1h-1zM1395 602h3v1h-3zM1418 602h3v1h-3zM1449 602h11v1h-11zM1461 602h3v1h-3zM1478 602h2v1h-2zM452 559h1v1h-1zM717 559h1v1h-1zM809 559h1v1h-1zM975 559h1v1h-1zM48 606h1v1h-1zM427 606h1v1h-1zM1033 606h1v1h-1zM1389 606h2v1h-2zM1404 606h4v1h-4zM1501 606h2v1h-2zM561 457h2v1h-2zM598 457h1v1h-1zM324 781h1v1h-1zM369 781h1v1h-1zM455 552h1v1h-1zM712 552h1v1h-1zM815 552h1v1h-1zM968 552h1v1h-1zM455 553h1v1h-1zM712 553h1v1h-1zM814 553h1v1h-1zM969 553h1v1h-1zM509 501h1v1h-1zM621 501h1v1h-1zM859 501h3v1h-3zM866 501h4v1h-4zM480 517h1v1h-1zM670 517h1v1h-1zM836 517h1v1h-1zM939 517h1v1h-1zM260 732h2v1h-2zM268 732h1v1h-1zM302 732h1v1h-1zM385 732h1v1h-1zM482 515h11v1h-11zM668 515h1v1h-1zM839 515h2v1h-2zM938 515h1v1h-1zM528 481h3v1h-3zM613 481h1v1h-1zM25 577h1v1h-1zM444 577h1v1h-1zM724 577h1v1h-1zM801 577h1v1h-1zM1002 577h1v1h-1zM251 721h1v1h-1zM279 721h1v1h-1zM294 721h1v1h-1zM389 721h1v1h-1zM309 749h1v1h-1zM380 749h1v1h-1zM64 622h1v1h-1zM121 622h1v1h-1zM148 622h1v1h-1zM422 622h1v1h-1zM1070 622h21v1h-21zM1111 622h1v1h-1zM1378 622h1v1h-1zM1522 622h1v1h-1zM245 707h1v1h-1zM394 707h1v1h-1zM18 570h1v1h-1zM447 570h1v1h-1zM722 570h1v1h-1zM804 570h1v1h-1zM989 570h1v1h-1zM518 491h1v1h-1zM616 491h1v1h-1zM36 590h1v1h-1zM438 590h1v1h-1zM748 590h3v1h-3zM791 590h1v1h-1zM1021 590h1v1h-1zM242 695h1v1h-1zM398 695h1v1h-1zM518 492h1v1h-1zM617 492h1v1h-1zM319 769h1v1h-1zM373 769h1v1h-1zM78 635h1v1h-1zM107 635h1v1h-1zM157 635h1v1h-1zM418 635h1v1h-1zM1127 635h1v1h-1zM1304 635h2v1h-2zM1325 635h1v1h-1zM1371 635h1v1h-1zM237 683h1v1h-1zM402 683h1v1h-1zM1223 683h1v1h-1zM1229 683h3v1h-3zM334 814h1v1h-1zM359 814h1v1h-1zM67 626h2v1h-2zM115 626h2v1h-2zM151 626h1v1h-1zM421 626h1v1h-1zM1115 626h1v1h-1zM1376 626h1v1h-1zM1528 626h2v1h-2zM307 745h1v1h-1zM381 745h1v1h-1zM462 538h1v1h-1zM698 538h1v1h-1zM823 538h1v1h-1zM953 538h1v1h-1zM319 770h1v1h-1zM373 770h1v1h-1zM51 610h1v1h-1zM425 610h1v1h-1zM1036 610h1v1h-1zM1386 610h1v1h-1zM1507 610h2v1h-2zM320 771h1v1h-1zM372 771h1v1h-1zM468 529h1v1h-1zM688 529h1v1h-1zM828 529h1v1h-1zM947 529h1v1h-1zM20 572h2v1h-2zM446 572h1v1h-1zM722 572h1v1h-1zM803 572h1v1h-1zM993 572h3v1h-3zM326 787h1v1h-1zM367 787h1v1h-1zM493 514h2v1h-2zM637 514h1v1h-1zM668 514h1v1h-1zM841 514h3v1h-3zM937 514h1v1h-1zM79 636h1v1h-1zM107 636h1v1h-1zM157 636h1v1h-1zM418 636h1v1h-1zM1127 636h1v1h-1zM1303 636h1v1h-1zM1326 636h1v1h-1zM1371 636h1v1h-1zM554 462h1v1h-1zM602 462h1v1h-1zM329 797h1v1h-1zM364 797h1v1h-1zM330 798h1v1h-1zM364 798h1v1h-1zM40 594h1v1h-1zM434 594h1v1h-1zM761 594h3v1h-3zM783 594h2v1h-2zM1026 594h1v1h-1zM499 511h2v1h-2zM631 511h2v1h-2zM642 511h2v1h-2zM665 511h1v1h-1zM847 511h1v1h-1zM897 511h2v1h-2zM901 511h5v1h-5zM929 511h6v1h-6zM220 665h1v1h-1zM408 665h1v1h-1zM1155 665h1v1h-1zM1253 665h1v1h-1zM246 710h1v1h-1zM393 710h1v1h-1zM169 648h1v1h-1zM413 648h1v1h-1zM1134 648h1v1h-1zM1276 648h2v1h-2zM72 629h1v1h-1zM112 629h1v1h-1zM153 629h1v1h-1zM420 629h1v1h-1zM1120 629h2v1h-2zM1315 629h1v1h-1zM1374 629h1v1h-1zM1537 629h5v1h-5zM320 772h1v1h-1zM372 772h1v1h-1zM171 650h1v1h-1zM413 650h1v1h-1zM1135 650h1v1h-1zM1273 650h2v1h-2zM517 493h1v1h-1zM617 493h1v1h-1zM540 476h1v1h-1zM611 476h1v1h-1zM555 461h1v1h-1zM601 461h1v1h-1zM11 565h2v1h-2zM449 565h1v1h-1zM720 565h1v1h-1zM806 565h1v1h-1zM982 565h1v1h-1zM65 623h1v1h-1zM120 623h1v1h-1zM149 623h1v1h-1zM422 623h1v1h-1zM1112 623h1v1h-1zM1377 623h1v1h-1zM1523 623h2v1h-2zM251 720h1v1h-1zM280 720h1v1h-1zM292 720h2v1h-2zM390 720h1v1h-1zM214 658h1v1h-1zM410 658h1v1h-1zM1140 658h1v1h-1zM1260 658h1v1h-1zM82 640h1v1h-1zM104 640h1v1h-1zM161 640h1v1h-1zM416 640h1v1h-1zM1130 640h1v1h-1zM1295 640h2v1h-2zM1330 640h1v1h-1zM1367 640h2v1h-2zM23 575h1v1h-1zM445 575h1v1h-1zM723 575h1v1h-1zM802 575h1v1h-1zM1000 575h1v1h-1zM229 674h1v1h-1zM405 674h1v1h-1zM1203 674h1v1h-1zM1246 674h1v1h-1zM537 478h1v1h-1zM612 478h1v1h-1zM547 470h1v1h-1zM607 470h1v1h-1zM504 507h1v1h-1zM626 507h1v1h-1zM850 507h1v1h-1zM890 507h2v1h-2zM916 507h3v1h-3zM321 774h1v1h-1zM371 774h1v1h-1zM318 768h1v1h-1zM373 768h1v1h-1zM335 820h1v1h-1zM357 820h1v1h-1zM495 513h2v1h-2zM635 513h2v1h-2zM638 513h2v1h-2zM667 513h1v1h-1zM844 513h2v1h-2zM936 513h1v1h-1zM231 676h1v1h-1zM404 676h1v1h-1zM1205 676h5v1h-5zM1245 676h1v1h-1zM466 531h1v1h-1zM689 531h1v1h-1zM827 531h1v1h-1zM948 531h1v1h-1zM476 521h1v1h-1zM676 521h3v1h-3zM833 521h1v1h-1zM942 521h1v1h-1zM311 754h1v1h-1zM378 754h1v1h-1zM459 545h1v1h-1zM705 545h1v1h-1zM820 545h1v1h-1zM961 545h2v1h-2zM47 605h1v1h-1zM427 605h1v1h-1zM1033 605h1v1h-1zM1391 605h1v1h-1zM1402 605h2v1h-2zM1408 605h3v1h-3zM1499 605h2v1h-2zM479 518h1v1h-1zM671 518h1v1h-1zM835 518h1v1h-1zM940 518h1v1h-1zM325 784h1v1h-1zM368 784h1v1h-1zM335 817h1v1h-1zM358 817h1v1h-1zM328 794h1v1h-1zM365 794h1v1h-1zM315 762h1v1h-1zM375 762h1v1h-1zM304 738h1v1h-1zM383 738h1v1h-1zM234 680h1v1h-1zM403 680h1v1h-1zM1219 680h1v1h-1zM1237 680h4v1h-4zM513 497h1v1h-1zM618 497h1v1h-1zM243 699h1v1h-1zM397 699h1v1h-1zM220 666h1v1h-1zM407 666h1v1h-1zM1156 666h2v1h-2zM1252 666h1v1h-1zM217 662h1v1h-1zM409 662h1v1h-1zM1143 662h1v1h-1zM1147 662h6v1h-6zM1256 662h1v1h-1zM247 711h1v1h-1zM393 711h1v1h-1zM463 537h1v1h-1zM696 537h2v1h-2zM824 537h1v1h-1zM952 537h1v1h-1zM338 829h1v1h-1zM353 829h1v1h-1zM23 574h1v1h-1zM445 574h1v1h-1zM723 574h1v1h-1zM802 574h1v1h-1zM998 574h2v1h-2zM5 561h1v1h-1zM451 561h1v1h-1zM718 561h1v1h-1zM808 561h1v1h-1zM977 561h1v1h-1zM219 664h1v1h-1zM408 664h1v1h-1zM1154 664h1v1h-1zM1254 664h1v1h-1zM253 723h1v1h-1zM276 723h1v1h-1zM295 723h1v1h-1zM389 723h1v1h-1zM13 566h1v1h-1zM449 566h1v1h-1zM720 566h1v1h-1zM806 566h1v1h-1zM983 566h2v1h-2zM6 562h2v1h-2zM451 562h1v1h-1zM719 562h1v1h-1zM808 562h1v1h-1zM978 562h2v1h-2zM331 802h1v1h-1zM363 802h1v1h-1zM334 813h1v1h-1zM360 813h1v1h-1zM17 569h1v1h-1zM448 569h1v1h-1zM721 569h1v1h-1zM805 569h1v1h-1zM987 569h2v1h-2zM307 744h1v1h-1zM381 744h1v1h-1zM332 807h1v1h-1zM361 807h1v1h-1zM465 533h1v1h-1zM691 533h1v1h-1zM826 533h1v1h-1zM950 533h1v1h-1zM464 534h1v1h-1zM692 534h2v1h-2zM825 534h1v1h-1zM950 534h1v1h-1zM28 581h1v1h-1zM442 581h1v1h-1zM726 581h1v1h-1zM798 581h1v1h-1zM1006 581h1v1h-1zM457 549h1v1h-1zM709 549h1v1h-1zM817 549h1v1h-1zM965 549h1v1h-1zM324 783h1v1h-1zM369 783h1v1h-1zM544 473h1v1h-1zM610 473h1v1h-1zM305 740h1v1h-1zM383 740h1v1h-1zM526 483h1v1h-1zM613 483h1v1h-1zM25 578h1v1h-1zM444 578h1v1h-1zM724 578h1v1h-1zM800 578h1v1h-1zM1003 578h1v1h-1zM246 709h1v1h-1zM394 709h1v1h-1zM312 756h1v1h-1zM377 756h1v1h-1zM567 453h2v1h-2zM596 453h1v1h-1zM242 697h1v1h-1zM398 697h1v1h-1zM313 757h1v1h-1zM377 757h1v1h-1zM516 494h1v1h-1zM617 494h1v1h-1zM174 654h1v1h-1zM183 654h8v1h-8zM411 654h1v1h-1zM1138 654h1v1h-1zM1266 654h2v1h-2zM26 579h1v1h-1zM443 579h1v1h-1zM725 579h1v1h-1zM800 579h1v1h-1zM1004 579h1v1h-1zM170 649h1v1h-1zM413 649h1v1h-1zM1135 649h1v1h-1zM1275 649h1v1h-1zM337 826h1v1h-1zM354 826h1v1h-1zM228 673h1v1h-1zM405 673h1v1h-1zM1202 673h1v1h-1zM1247 673h1v1h-1zM256 729h1v1h-1zM271 729h1v1h-1zM300 729h1v1h-1zM386 729h1v1h-1zM330 800h1v1h-1zM363 800h1v1h-1zM247 712h1v1h-1zM393 712h1v1h-1zM548 469h1v1h-1zM607 469h1v1h-1zM521 488h1v1h-1zM615 488h1v1h-1zM470 527h1v1h-1zM686 527h1v1h-1zM830 527h1v1h-1zM946 527h1v1h-1zM454 555h1v1h-1zM714 555h1v1h-1zM813 555h1v1h-1zM970 555h1v1h-1zM30 585h1v1h-1zM441 585h1v1h-1zM727 585h2v1h-2zM795 585h1v1h-1zM1013 585h2v1h-2zM29 583h1v1h-1zM442 583h1v1h-1zM726 583h1v1h-1zM797 583h1v1h-1zM1008 583h3v1h-3zM248 715h1v1h-1zM391 715h1v1h-1zM456 551h1v1h-1zM711 551h1v1h-1zM816 551h1v1h-1zM967 551h1v1h-1zM215 659h1v1h-1zM410 659h1v1h-1zM1141 659h1v1h-1zM1259 659h1v1h-1zM578 446h3v1h-3zM587 446h3v1h-3zM304 737h1v1h-1zM384 737h1v1h-1zM551 465h1v1h-1zM604 465h1v1h-1zM38 592h1v1h-1zM437 592h1v1h-1zM755 592h3v1h-3zM787 592h2v1h-2zM1023 592h1v1h-1zM238 684h1v1h-1zM402 684h1v1h-1zM1224 684h1v1h-1zM1227 684h2v1h-2zM514 496h1v1h-1zM618 496h1v1h-1zM311 753h1v1h-1zM378 753h1v1h-1zM243 698h1v1h-1zM397 698h1v1h-1zM254 726h1v1h-1zM273 726h1v1h-1zM298 726h1v1h-1zM388 726h1v1h-1zM322 776h1v1h-1zM371 776h1v1h-1zM218 663h1v1h-1zM408 663h1v1h-1zM1143 663h4v1h-4zM1153 663h1v1h-1zM1255 663h1v1h-1zM172 651h1v1h-1zM412 651h1v1h-1zM1136 651h1v1h-1zM1272 651h1v1h-1zM556 460h1v1h-1zM600 460h1v1h-1zM173 652h1v1h-1zM412 652h1v1h-1zM1136 652h1v1h-1zM1270 652h2v1h-2zM14 567h1v1h-1zM449 567h1v1h-1zM721 567h1v1h-1zM805 567h1v1h-1zM985 567h1v1h-1zM325 786h1v1h-1zM368 786h1v1h-1zM335 819h1v1h-1zM358 819h1v1h-1zM244 702h1v1h-1zM396 702h1v1h-1zM316 764h1v1h-1zM375 764h1v1h-1zM15 568h2v1h-2zM448 568h1v1h-1zM721 568h1v1h-1zM805 568h1v1h-1zM986 568h1v1h-1zM481 516h1v1h-1zM669 516h1v1h-1zM837 516h2v1h-2zM938 516h1v1h-1zM324 782h1v1h-1zM369 782h1v1h-1zM247 713h1v1h-1zM392 713h1v1h-1zM338 831h1v1h-1zM352 831h1v1h-1zM76 632h1v1h-1zM110 632h1v1h-1zM155 632h1v1h-1zM419 632h1v1h-1zM1125 632h1v1h-1zM1310 632h1v1h-1zM1320 632h1v1h-1zM1373 632h1v1h-1zM1545 632h2v1h-2zM454 554h1v1h-1zM713 554h1v1h-1zM813 554h1v1h-1zM969 554h1v1h-1zM215 660h1v1h-1zM409 660h1v1h-1zM1141 660h1v1h-1zM1258 660h1v1h-1zM56 614h1v1h-1zM424 614h1v1h-1zM1040 614h1v1h-1zM1383 614h1v1h-1zM1513 614h2v1h-2zM527 482h1v1h-1zM613 482h1v1h-1zM327 790h1v1h-1zM366 790h1v1h-1zM336 821h1v1h-1zM357 821h1v1h-1zM239 685h1v1h-1zM401 685h1v1h-1zM1225 685h2v1h-2zM246 708h1v1h-1zM394 708h1v1h-1zM317 766h1v1h-1zM374 766h1v1h-1zM331 804h1v1h-1zM362 804h1v1h-1zM334 815h1v1h-1zM359 815h1v1h-1zM337 828h1v1h-1zM353 828h1v1h-1zM569 452h1v1h-1zM595 452h1v1h-1zM308 746h1v1h-1zM381 746h1v1h-1zM541 475h1v1h-1zM611 475h1v1h-1zM24 576h1v1h-1zM445 576h1v1h-1zM724 576h1v1h-1zM801 576h1v1h-1zM1001 576h1v1h-1zM230 675h1v1h-1zM405 675h1v1h-1zM1204 675h1v1h-1zM1246 675h1v1h-1zM341 835h3v1h-3zM349 835h1v1h-1zM332 809h1v1h-1zM361 809h1v1h-1zM241 692h1v1h-1zM399 692h1v1h-1zM553 463h1v1h-1zM602 463h1v1h-1zM581 445h2v1h-2zM584 445h3v1h-3zM330 799h1v1h-1zM364 799h1v1h-1zM321 773h1v1h-1zM372 773h1v1h-1zM338 830h1v1h-1zM352 830h1v1h-1zM467 530h1v1h-1zM689 530h1v1h-1zM828 530h1v1h-1zM948 530h1v1h-1zM248 714h1v1h-1zM392 714h1v1h-1zM458 546h1v1h-1zM706 546h1v1h-1zM819 546h1v1h-1zM963 546h1v1h-1zM463 536h1v1h-1zM695 536h1v1h-1zM824 536h1v1h-1zM952 536h1v1h-1zM346 837h3v1h-3zM333 811h1v1h-1zM360 811h1v1h-1zM453 557h1v1h-1zM716 557h1v1h-1zM811 557h1v1h-1zM972 557h1v1h-1zM534 479h3v1h-3zM612 479h1v1h-1zM574 448h2v1h-2zM592 448h1v1h-1zM321 775h1v1h-1zM371 775h1v1h-1zM520 489h1v1h-1zM616 489h1v1h-1zM232 677h1v1h-1zM404 677h1v1h-1zM1210 677h6v1h-6zM1244 677h1v1h-1zM325 785h1v1h-1zM368 785h1v1h-1zM258 731h2v1h-2zM269 731h1v1h-1zM301 731h1v1h-1zM386 731h1v1h-1zM244 701h1v1h-1zM396 701h1v1h-1zM550 466h1v1h-1zM605 466h1v1h-1zM546 471h1v1h-1zM608 471h1v1h-1zM314 759h1v1h-1zM376 759h1v1h-1zM458 547h1v1h-1zM707 547h1v1h-1zM819 547h1v1h-1zM963 547h1v1h-1zM522 487h1v1h-1zM615 487h1v1h-1zM243 700h1v1h-1zM397 700h1v1h-1zM314 760h1v1h-1zM376 760h1v1h-1zM473 524h1v1h-1zM683 524h1v1h-1zM831 524h1v1h-1zM944 524h1v1h-1zM512 498h1v1h-1zM619 498h1v1h-1zM308 747h1v1h-1zM380 747h1v1h-1zM255 727h1v1h-1zM272 727h1v1h-1zM298 727h1v1h-1zM387 727h1v1h-1zM317 765h1v1h-1zM374 765h1v1h-1zM331 803h1v1h-1zM363 803h1v1h-1zM566 454h1v1h-1zM596 454h1v1h-1zM344 836h2v1h-2zM349 836h1v1h-1zM573 449h1v1h-1zM593 449h1v1h-1zM549 468h1v1h-1zM606 468h1v1h-1zM542 474h2v1h-2zM610 474h1v1h-1zM306 741h1v1h-1zM382 741h1v1h-1zM328 792h1v1h-1zM366 792h1v1h-1zM524 485h1v1h-1zM614 485h1v1h-1zM239 687h1v1h-1zM401 687h1v1h-1zM313 758h1v1h-1zM377 758h1v1h-1zM337 827h1v1h-1zM354 827h1v1h-1zM333 810h1v1h-1zM360 810h1v1h-1zM264 734h1v1h-1zM267 734h1v1h-1zM303 734h1v1h-1zM385 734h1v1h-1zM216 661h1v1h-1zM409 661h1v1h-1zM1142 661h1v1h-1zM1257 661h1v1h-1zM330 801h1v1h-1zM363 801h1v1h-1zM28 582h1v1h-1zM442 582h1v1h-1zM726 582h1v1h-1zM797 582h1v1h-1zM1007 582h1v1h-1zM248 716h1v1h-1zM391 716h1v1h-1zM507 504h1v1h-1zM623 504h1v1h-1zM853 504h1v1h-1zM885 504h1v1h-1zM257 730h1v1h-1zM270 730h1v1h-1zM301 730h1v1h-1zM386 730h1v1h-1zM322 777h1v1h-1zM370 777h1v1h-1zM244 703h1v1h-1zM396 703h1v1h-1zM327 791h1v1h-1zM366 791h1v1h-1zM336 822h1v1h-1zM357 822h1v1h-1zM525 484h1v1h-1zM614 484h1v1h-1zM475 522h1v1h-1zM679 522h4v1h-4zM833 522h1v1h-1zM943 522h1v1h-1zM245 705h1v1h-1zM395 705h1v1h-1zM239 686h1v1h-1zM401 686h1v1h-1zM318 767h1v1h-1zM374 767h1v1h-1zM331 805h1v1h-1zM362 805h1v1h-1zM334 816h1v1h-1zM359 816h1v1h-1zM565 455h1v1h-1zM597 455h1v1h-1zM241 693h1v1h-1zM399 693h1v1h-1zM37 591h1v1h-1zM438 591h1v1h-1zM751 591h4v1h-4zM789 591h2v1h-2zM1022 591h1v1h-1zM328 793h1v1h-1zM365 793h1v1h-1zM545 472h1v1h-1zM609 472h1v1h-1zM333 812h1v1h-1zM360 812h1v1h-1zM550 467h1v1h-1zM605 467h1v1h-1zM309 748h1v1h-1zM380 748h1v1h-1zM245 704h1v1h-1zM395 704h1v1h-1zM329 795h1v1h-1zM365 795h1v1h-1zM306 742h1v1h-1zM382 742h1v1h-1zM240 689h1v1h-1zM400 689h1v1h-1zM519 490h1v1h-1zM616 490h1v1h-1zM315 761h1v1h-1zM376 761h1v1h-1zM322 778h1v1h-1zM370 778h1v1h-1zM240 688h1v1h-1zM401 688h1v1h-1zM336 823h1v1h-1zM356 823h1v1h-1zM339 833h1v1h-1zM351 833h1v1h-1zM240 690h1v1h-1zM400 690h1v1h-1zM242 694h1v1h-1zM399 694h1v1h-1zM310 752h1v1h-1zM379 752h1v1h-1zM583 444h1v1h-1zM323 780h1v1h-1zM370 780h1v1h-1zM329 796h1v1h-1zM365 796h1v1h-1zM332 806h1v1h-1zM362 806h1v1h-1z"/>
<text x="1582.5" y="2.5" dy="0.4em" font-size="11.5" fill="#222222">6167</text>
<text x="1582.5" y="45.5" dy="0.4em" font-size="11.5" fill="#222222">5911</text>
<text x="1582.5" y="88.5" dy="0.4em" font-size="11.5" fill="#222222">5655</text>
<text x="1582.5" y="132.5" dy="0.4em" font-size="11.5" fill="#222222">5399</text>
<text x="1582.5" y="175.5" dy="0.4em" font-size="11.5" fill="#222222">5143</text>
<text x="1582.5" y="218.5" dy="0.4em" font-size="11.5" fill="#222222">4887</text>
<text x="1582.5" y="262.5" dy="0.4em" font-size="11.5" fill="#222222">4631</text>
<text x="1582.5" y="305.5" dy="0.4em" font-size="11.5" fill="#222222">4375</text>
<text x="1582.5" y="349.5" dy="0.4em" font-size="11.5" fill="#222222">4119</text>
<text x="1581" y="401.5" dy="0.38em" font-size="11.5" fill="#222222">160.57</text>
<text x="1581" y="424.5" dy="0.38em" font-size="11.5" fill="#222222">136.29</text>
<text x="1581" y="447.5" dy="0.38em" font-size="11.5" fill="#222222">112.01</text>
<text x="1581" y="470.5" dy="0.38em" font-size="11.5" fill="#222222">87.74</text>
<text x="1581" y="493.5" dy="0.38em" font-size="11.5" fill="#222222">63.46</text>
<text x="1581" y="516.5" dy="0.38em" font-size="11.5" fill="#222222">39.19</text>
<text x="1581" y="539.5" dy="0.38em" font-size="11.5" fill="#222222">14.91</text>
<text x="1581" y="562.5" dy="0.38em" font-size="11.5" fill="#222222">-9.36</text>
<text x="1581" y="585.5" dy="0.38em" font-size="11.5" fill="#222222">-33.64</text>
<text x="1581" y="608.5" dy="0.38em" font-size="11.5" fill="#222222">-57.91</text>
<text x="1581" y="631.5" dy="0.38em" font-size="11.5" fill="#222222">-82.19</text>
<text x="1581" y="654.5" dy="0.38em" font-size="11.5" fill="#222222">-106.47</text>
<text x="1581" y="677.5" dy="0.38em" font-size="11.5" fill="#222222">-130.74</text>
<text x="1581" y="700.5" dy="0.38em" font-size="11.5" fill="#222222">-155.02</text>
<text x="1581" y="723.5" dy="0.38em" font-size="11.5" fill="#222222">-179.29</text>
<text x="1581" y="746.5" dy="0.38em" font-size="11.5" fill="#222222">-203.57</text>
<text x="1581" y="769.5" dy="0.38em" font-size="11.5" fill="#222222">-227.84</text>
<text x="1581" y="792.5" dy="0.38em" font-size="11.5" fill="#222222">-252.12</text>
<text x="1581" y="815.5" dy="0.38em" font-size="11.5" fill="#222222">-276.40</text>
<text x="121" y="854" text-anchor="middle" font-size="11" fill="#222222">2024</text>
<text x="319" y="854" text-anchor="middle" font-size="11" fill="#222222">2月</text>
<text x="455" y="854" text-anchor="middle" font-size="11" fill="#222222">3月</text>
<text x="643.7" y="854" text-anchor="middle" font-size="11" fill="#222222">4月</text>
<text x="825.5" y="854" text-anchor="middle" font-size="11" fill="#222222">5月</text>
<text x="1006" y="854" text-anchor="middle" font-size="11" fill="#222222">6月</text>
<text x="1178.3" y="854" text-anchor="middle" font-size="11" fill="#222222">7月</text>
<text x="1386.7" y="854" text-anchor="middle" font-size="11" fill="#222222">8月</text>
<rect x="1579" y="841" width="42" height="15" fill="#e8ebf5"/>
<text x="1603.5" y="854.5" text-anchor="middle" font-size="12" fill="#222222">日线</text>
<rect x="3" y="858" width="40" height="2" fill="#e6e9f4"/>
<rect x="44" y="858" width="64" height="2" fill="#e6e9f4"/>
<rect x="109" y="858" width="64" height="2" fill="#e6e9f4"/>
<rect x="174" y="858" width="64" height="2" fill="#e6e9f4"/>
<rect x="239" y="858" width="64" height="2" fill="#e6e9f4"/>
<rect x="304" y="858" width="64" height="2" fill="#e6e9f4"/>
<rect x="369" y="858" width="64" height="2" fill="#e6e9f4"/>
<rect x="434" y="858" width="64" height="2" fill="#e6e9f4"/>
<rect x="499" y="858" width="52" height="2" fill="#e6e9f4"/>
<rect x="552" y="858" width="64" height="2" fill="#d3dbf5"/>
<rect x="617" y="858" width="64" height="2" fill="#e6e9f4"/>
<rect x="682" y="858" width="64" height="2" fill="#e6e9f4"/>
<rect x="747" y="858" width="64" height="2" fill="#e6e9f4"/>
<rect x="1500" y="858" width="40" height="2" fill="#d5ddf5"/>
<rect x="1543" y="858" width="40" height="2" fill="#d5ddf5"/>
<rect x="1586" y="858" width="35" height="2" fill="#d5ddf5"/>
<text x="8.8" y="371" font-size="12" textLength="86" lengthAdjust="spacingAndGlyphs" fill="#666666">MACD(12,26,9)</text>
<text x="108.6" y="371" font-size="12" textLength="71" lengthAdjust="spacingAndGlyphs" fill="#333333">DIFF:-85.922</text>
<path d="M184.7,362.3 h3.2 v4.6 h2.3 l-3.9,4.6 l-3.9,-4.6 h2.3 z" fill="#00aa33"/>
<text x="200.6" y="371" font-size="12" textLength="70.5" lengthAdjust="spacingAndGlyphs" fill="#f09a28">DEA:-71.042</text>
<path d="M275.4,362.3 h3.2 v4.6 h2.3 l-3.9,4.6 l-3.9,-4.6 h2.3 z" fill="#00aa33"/>
<text x="291.9" y="371" font-size="12" textLength="83.6" lengthAdjust="spacingAndGlyphs" fill="#ff00ff">MACD:-29.760</text>
<path d="M379.5,362.3 h3.2 v4.6 h2.3 l-3.9,4.6 l-3.9,-4.6 h2.3 z" fill="#00aa33"/>
<text x="1524.7" y="371" font-size="12" textLength="37.5" lengthAdjust="spacingAndGlyphs" fill="#666666">MACD</text>
<rect x="1566" y="359" width="16" height="16" fill="#fafafa"/>
<rect x="1588" y="359" width="16" height="16" fill="#fafafa"/>
<rect x="1609" y="359" width="12" height="16" fill="#fafafa"/>
<rect x="1572.3" y="360.8" width="3.4" height="3" rx="0.6" fill="#666" transform="rotate(30 1574 367)"/><rect x="1572.3" y="360.8" width="3.4" height="3" rx="0.6" fill="#666" transform="rotate(90 1574 367)"/><rect x="1572.3" y="360.8" width="3.4" height="3" rx="0.6" fill="#666" transform="rotate(150 1574 367)"/><rect x="1572.3" y="360.8" width="3.4" height="3" rx="0.6" fill="#666" transform="rotate(210 1574 367)"/><rect x="1572.3" y="360.8" width="3.4" height="3" rx="0.6" fill="#666" transform="rotate(270 1574 367)"/><rect x="1572.3" y="360.8" width="3.4" height="3" rx="0.6" fill="#666" transform="rotate(330 1574 367)"/>
<circle cx="1574" cy="367" r="4.6" fill="#666"/><circle cx="1574" cy="367" r="2.9" fill="#fff"/><circle cx="1574" cy="367" r="1.3" fill="#666"/>
<circle cx="1596" cy="367" r="6.2" fill="#666"/>
<path d="M1593.8,365.2 a2.3,2.3 0 1 1 3.4,2 c-0.9,0.5 -1.2,0.9 -1.2,1.9" fill="none" stroke="#fff" stroke-width="1.6"/>
<rect x="1595.1" y="370" width="1.8" height="1.6" fill="#fff"/>
<circle cx="1617" cy="367" r="6.2" fill="#666"/>
<path d="M1614.6,364.6 L1619.4,369.4 M1619.4,364.6 L1614.6,369.4" stroke="#fff" stroke-width="1.7"/>
<path d="M6.5,16.5 H15.6" stroke="#1b2a48" stroke-width="1"/><path d="M5.3,16.5 L8.2,14.7 L8.2,18.3 Z" fill="#1b2a48"/>
<text x="16" y="17" dy="0.36em" font-size="11" fill="#1b2a48">6076.36</text>
<path d="M340.5,338.5 H349.6" stroke="#1b2a48" stroke-width="1"/><path d="M339.4,338.5 L342.3,336.7 L342.3,340.3 Z" fill="#1b2a48"/>
<text x="349.5" y="339" dy="0.36em" font-size="11" fill="#1b2a48">4177.94</text>
<text x="5.5" y="42.4" text-anchor="middle" font-size="14" fill="#00ffff">1</text>
<text x="14.5" y="47.4" text-anchor="middle" font-size="14" fill="#00ffff">2</text>
<text x="23.5" y="55.4" text-anchor="middle" font-size="14" fill="#00ffff">3</text>
<text x="32.5" y="70.4" text-anchor="middle" font-size="14" fill="#00ffff">4</text>
<text x="41.5" y="75.4" text-anchor="middle" font-size="14" fill="#00ffff">5</text>
<text x="50.5" y="86.4" text-anchor="middle" font-size="14" fill="#00ffff">6</text>
<text x="59.5" y="98.4" text-anchor="middle" font-size="14" fill="#00ffff">7</text>
<text x="68.5" y="93.4" text-anchor="middle" font-size="14" fill="#00ffff">8</text>
<path d="M77,86.0 L85,94.3 V101.7 H69 V94.3 Z" fill="#ff3636"/>
<text x="77" y="100.0" text-anchor="middle" font-size="10.5" font-weight="bold" fill="#fff">9</text>
<text x="357.5" y="221.2" text-anchor="middle" font-size="14" fill="#ff00ff">1</text>
<text x="366.5" y="183.2" text-anchor="middle" font-size="14" fill="#ff00ff">2</text>
<text x="375.5" y="183.2" text-anchor="middle" font-size="14" fill="#ff00ff">3</text>
<text x="384.5" y="185.2" text-anchor="middle" font-size="14" fill="#ff00ff">4</text>
<text x="393.5" y="159.2" text-anchor="middle" font-size="14" fill="#ff00ff">5</text>
<text x="402.5" y="169.2" text-anchor="middle" font-size="14" fill="#ff00ff">6</text>
<text x="411.5" y="156.2" text-anchor="middle" font-size="14" fill="#ff00ff">7</text>
<text x="420.5" y="140.2" text-anchor="middle" font-size="14" fill="#ff00ff">8</text>
<path d="M429,128.5 L437,119.9 V112.9 H421 V119.9 Z" fill="#15c253"/>
<text x="429" y="122.9" text-anchor="middle" font-size="10.5" font-weight="bold" fill="#fff">9</text>
<text x="511.5" y="116.2" text-anchor="middle" font-size="14" fill="#ff00ff">1</text>
<text x="520.5" y="106.2" text-anchor="middle" font-size="14" fill="#ff00ff">2</text>
<text x="529.5" y="100.2" text-anchor="middle" font-size="14" fill="#ff00ff">3</text>
<text x="538.5" y="102.2" text-anchor="middle" font-size="14" fill="#ff00ff">4</text>
<text x="547.5" y="101.2" text-anchor="middle" font-size="14" fill="#ff00ff">5</text>
<text x="556.5" y="85.2" text-anchor="middle" font-size="14" fill="#ff00ff">6</text>
<text x="565.5" y="83.2" text-anchor="middle" font-size="14" fill="#ff00ff">7</text>
<text x="574.5" y="82.2" text-anchor="middle" font-size="14" fill="#ff00ff">8</text>
<path d="M583,78.5 L591,69.9 V62.9 H575 V69.9 Z" fill="#15c253"/>
<text x="583" y="72.9" text-anchor="middle" font-size="10.5" font-weight="bold" fill="#fff">9</text>
<text x="674.5" y="147.4" text-anchor="middle" font-size="14" fill="#00ffff">1</text>
<text x="683.5" y="149.4" text-anchor="middle" font-size="14" fill="#00ffff">2</text>
<text x="692.5" y="159.4" text-anchor="middle" font-size="14" fill="#00ffff">3</text>
<text x="701.5" y="159.4" text-anchor="middle" font-size="14" fill="#00ffff">4</text>
<text x="710.5" y="158.4" text-anchor="middle" font-size="14" fill="#00ffff">5</text>
<text x="719.5" y="179.4" text-anchor="middle" font-size="14" fill="#00ffff">6</text>
<text x="728.5" y="203.4" text-anchor="middle" font-size="14" fill="#00ffff">7</text>
<text x="737.5" y="196.4" text-anchor="middle" font-size="14" fill="#00ffff">8</text>
<path d="M746,165.0 L754,173.3 V180.7 H738 V173.3 Z" fill="#ff3636"/>
<text x="746" y="179.0" text-anchor="middle" font-size="10.5" font-weight="bold" fill="#fff">9</text>
<text x="945.5" y="146.4" text-anchor="middle" font-size="14" fill="#00ffff">1</text>
<text x="954.5" y="155.4" text-anchor="middle" font-size="14" fill="#00ffff">2</text>
<text x="963.5" y="164.4" text-anchor="middle" font-size="14" fill="#00ffff">3</text>
<text x="972.5" y="156.4" text-anchor="middle" font-size="14" fill="#00ffff">4</text>
<text x="981.5" y="159.4" text-anchor="middle" font-size="14" fill="#00ffff">5</text>
<text x="990.5" y="161.4" text-anchor="middle" font-size="14" fill="#00ffff">6</text>
<text x="999.5" y="158.4" text-anchor="middle" font-size="14" fill="#00ffff">7</text>
<text x="1008.5" y="172.4" text-anchor="middle" font-size="14" fill="#00ffff">8</text>
<path d="M1017,166.0 L1025,174.3 V181.7 H1009 V174.3 Z" fill="#ff3636"/>
<text x="1017" y="180.0" text-anchor="middle" font-size="10.5" font-weight="bold" fill="#fff">9</text>
<text x="1288.5" y="250.4" text-anchor="middle" font-size="14" fill="#00ffff">1</text>
<text x="1297.5" y="262.4" text-anchor="middle" font-size="14" fill="#00ffff">2</text>
<text x="1306.5" y="251.4" text-anchor="middle" font-size="14" fill="#00ffff">3</text>
<text x="1315.5" y="248.4" text-anchor="middle" font-size="14" fill="#00ffff">4</text>
<text x="1324.5" y="266.4" text-anchor="middle" font-size="14" fill="#00ffff">5</text>
<text x="1333.5" y="277.4" text-anchor="middle" font-size="14" fill="#00ffff">6</text>
<text x="1343.5" y="284.4" text-anchor="middle" font-size="14" fill="#00ffff">7</text>
<text x="1352.5" y="276.4" text-anchor="middle" font-size="14" fill="#00ffff">8</text>
<path d="M1361,260.0 L1369,268.3 V275.7 H1353 V268.3 Z" fill="#ff3636"/>
<text x="1361" y="274.0" text-anchor="middle" font-size="10.5" font-weight="bold" fill="#fff">9</text>
<text x="1451.5" y="272.4" text-anchor="middle" font-size="14" fill="#00ffff">1</text>
<text x="1460.5" y="274.4" text-anchor="middle" font-size="14" fill="#00ffff">2</text>
<text x="1469.5" y="274.4" text-anchor="middle" font-size="14" fill="#00ffff">3</text>
<text x="1478.5" y="278.4" text-anchor="middle" font-size="14" fill="#00ffff">4</text>
<text x="1487.5" y="273.4" text-anchor="middle" font-size="14" fill="#00ffff">5</text>
<text x="1496.5" y="274.4" text-anchor="middle" font-size="14" fill="#00ffff">6</text>
<text x="1505.5" y="288.4" text-anchor="middle" font-size="14" fill="#00ffff">7</text>
<text x="1514.5" y="291.4" text-anchor="middle" font-size="14" fill="#00ffff">8</text>
<path d="M1523,292.0 L1531,300.3 V307.7 H1515 V300.3 Z" fill="#ff3636"/>
<text x="1523" y="306.0" text-anchor="middle" font-size="10.5" font-weight="bold" fill="#fff">9</text>
<polygon points="1216.00,264.50 1450.23,283.59 1548.64,292.58 1546.06,287.93 1556.40,295.60 1544.84,301.27 1548.22,297.16 1449.82,288.17" fill="#ff1c1c"/>
<polygon points="1219.20,696.60 1451.17,658.94 1535.24,646.13 1531.62,642.23 1543.50,647.20 1533.63,655.48 1535.94,650.68 1451.87,663.48" fill="#ff1c1c"/>
</svg>
</body></html>
